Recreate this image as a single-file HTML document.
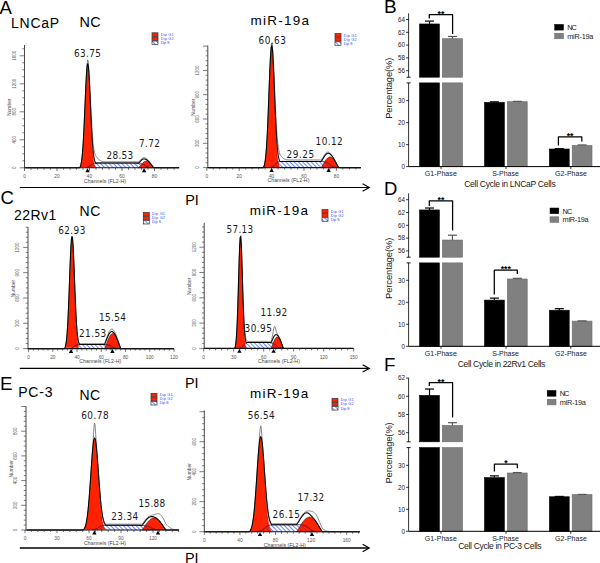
<!DOCTYPE html>
<html><head><meta charset="utf-8"><style>html,body{margin:0;padding:0;background:#fff;overflow:hidden}svg{display:block}</style></head>
<body>
<svg width="600" height="563" viewBox="0 0 600 563">
<rect width="600" height="563" fill="#fff"/>
<pattern id="hatch0" patternUnits="userSpaceOnUse" width="3.0" height="3.0" patternTransform="rotate(-45)"><rect width="3.0" height="3.0" fill="#fff"/><rect x="0" y="0" width="1.0" height="3.0" fill="#6a88ff"/></pattern>
<pattern id="hatch0r" patternUnits="userSpaceOnUse" width="3.0" height="3.0" patternTransform="rotate(-45)"><rect x="0" y="0" width="1.0" height="3.0" fill="#a0143c" fill-opacity="0.55"/></pattern>
<path d="M85.5,167.6 L86.0,167.6 L86.5,167.5 L87.0,167.4 L87.5,167.2 L88.0,167.0 L88.5,166.8 L89.0,166.5 L89.5,166.2 L90.0,165.8 L90.5,165.4 L91.0,165.0 L91.5,164.6 L92.0,164.3 L92.5,164.0 L93.0,163.8 L93.5,163.6 L94.0,163.4 L94.5,163.3 L95.0,163.2 L95.5,163.2 L96.0,163.1 L96.5,163.1 L97.0,163.1 L97.5,163.0 L98.0,163.0 L98.5,163.0 L99.0,163.0 L99.5,163.0 L100.0,163.0 L100.5,163.0 L101.0,163.0 L101.5,163.0 L102.0,163.0 L102.5,163.0 L103.0,163.0 L103.5,163.0 L104.0,163.0 L104.5,163.0 L105.0,163.0 L105.5,163.0 L106.0,163.0 L106.5,163.0 L107.0,163.0 L107.5,163.0 L108.0,163.0 L108.5,163.0 L109.0,163.0 L109.5,163.0 L110.0,163.0 L110.5,163.0 L111.0,163.0 L111.5,163.0 L112.0,163.0 L112.5,163.0 L113.0,163.0 L113.5,163.0 L114.0,163.0 L114.5,163.0 L115.0,163.0 L115.5,163.0 L116.0,163.0 L116.5,163.0 L117.0,163.0 L117.5,163.0 L118.0,163.0 L118.5,163.0 L119.0,163.0 L119.5,163.0 L120.0,163.0 L120.5,163.0 L121.0,163.0 L121.5,163.0 L122.0,163.0 L122.5,163.0 L123.0,163.0 L123.5,163.0 L124.0,163.0 L124.5,163.0 L125.0,163.0 L125.5,163.0 L126.0,163.0 L126.5,163.0 L127.0,163.0 L127.5,163.0 L128.0,163.0 L128.5,163.0 L129.0,163.0 L129.5,163.0 L130.0,163.0 L130.5,163.0 L131.0,163.0 L131.5,163.0 L132.0,163.0 L132.5,163.0 L133.0,163.0 L133.5,163.0 L134.0,163.0 L134.5,163.0 L135.0,163.0 L135.5,163.0 L136.0,163.0 L136.5,163.0 L137.0,163.1 L137.5,163.1 L138.0,163.1 L138.5,163.1 L139.0,163.2 L139.5,163.2 L140.0,163.3 L140.5,163.4 L141.0,163.5 L141.5,163.6 L142.0,163.8 L142.5,164.0 L143.0,164.2 L143.5,164.5 L144.0,164.7 L144.5,165.1 L145.0,165.4 L145.5,165.7 L146.0,166.1 L146.5,166.3 L147.0,166.6 L147.5,166.8 L148.0,167.0 L148.5,167.2 L149.0,167.3 L149.5,167.4 L150.0,167.5 L150.5,167.6 L151.0,167.6 L151.0,167.8 L85.5,167.8 Z" fill="url(#hatch0)" stroke="none"/>
<clipPath id="hatch0c"><path d="M80.0,167.3 L80.5,166.1 L81.0,164.2 L81.5,161.5 L82.0,157.8 L82.5,152.6 L83.0,146.0 L83.5,137.8 L84.0,128.1 L84.5,117.1 L85.0,105.5 L85.5,93.8 L86.0,83.1 L86.5,74.1 L87.0,67.7 L87.5,64.5 L88.0,64.8 L88.5,68.7 L89.0,75.7 L89.5,85.1 L90.0,96.1 L90.5,107.8 L91.0,119.4 L91.5,130.1 L92.0,139.6 L92.5,147.5 L93.0,153.8 L93.5,158.6 L94.0,162.2 L94.5,164.7 L95.0,166.3 L95.5,167.4 Z"/><path d="M138.4,167.8 L138.5,167.8 L139.0,167.4 L139.5,166.8 L140.0,166.2 L140.5,165.6 L141.0,164.9 L141.5,164.3 L142.0,163.7 L142.5,163.2 L143.0,162.7 L143.5,162.3 L144.0,161.9 L144.5,161.6 L145.0,161.4 L145.5,161.3 L146.0,161.2 L146.5,161.2 L147.0,161.3 L147.5,161.5 L148.0,161.7 L148.5,162.0 L149.0,162.4 L149.5,162.8 L150.0,163.3 L150.5,163.9 L151.0,164.4 L151.5,165.1 L152.0,165.7 L152.5,166.3 L153.0,167.0 L153.5,167.5 L153.9,167.8 Z"/></clipPath>
<path d="M138.4,167.8 L138.5,167.8 L139.0,167.4 L139.5,166.8 L140.0,166.2 L140.5,165.6 L141.0,164.9 L141.5,164.3 L142.0,163.7 L142.5,163.2 L143.0,162.7 L143.5,162.3 L144.0,161.9 L144.5,161.6 L145.0,161.4 L145.5,161.3 L146.0,161.2 L146.5,161.2 L147.0,161.3 L147.5,161.5 L148.0,161.7 L148.5,162.0 L149.0,162.4 L149.5,162.8 L150.0,163.3 L150.5,163.9 L151.0,164.4 L151.5,165.1 L152.0,165.7 L152.5,166.3 L153.0,167.0 L153.5,167.5 L153.9,167.8 Z" fill="#ff2200" stroke="#301010" stroke-width="0.6"/>
<path d="M80.0,167.3 L80.5,166.1 L81.0,164.2 L81.5,161.5 L82.0,157.8 L82.5,152.6 L83.0,146.0 L83.5,137.8 L84.0,128.1 L84.5,117.1 L85.0,105.5 L85.5,93.8 L86.0,83.1 L86.5,74.1 L87.0,67.7 L87.5,64.5 L88.0,64.8 L88.5,68.7 L89.0,75.7 L89.5,85.1 L90.0,96.1 L90.5,107.8 L91.0,119.4 L91.5,130.1 L92.0,139.6 L92.5,147.5 L93.0,153.8 L93.5,158.6 L94.0,162.2 L94.5,164.7 L95.0,166.3 L95.5,167.4 Z" fill="#ff2200" stroke="none"/>
<path d="M85.5,167.6 L86.0,167.6 L86.5,167.5 L87.0,167.4 L87.5,167.2 L88.0,167.0 L88.5,166.8 L89.0,166.5 L89.5,166.2 L90.0,165.8 L90.5,165.4 L91.0,165.0 L91.5,164.6 L92.0,164.3 L92.5,164.0 L93.0,163.8 L93.5,163.6 L94.0,163.4 L94.5,163.3 L95.0,163.2 L95.5,163.2 L96.0,163.1 L96.5,163.1 L97.0,163.1 L97.5,163.0 L98.0,163.0 L98.5,163.0 L99.0,163.0 L99.5,163.0 L100.0,163.0 L100.5,163.0 L101.0,163.0 L101.5,163.0 L102.0,163.0 L102.5,163.0 L103.0,163.0 L103.5,163.0 L104.0,163.0 L104.5,163.0 L105.0,163.0 L105.5,163.0 L106.0,163.0 L106.5,163.0 L107.0,163.0 L107.5,163.0 L108.0,163.0 L108.5,163.0 L109.0,163.0 L109.5,163.0 L110.0,163.0 L110.5,163.0 L111.0,163.0 L111.5,163.0 L112.0,163.0 L112.5,163.0 L113.0,163.0 L113.5,163.0 L114.0,163.0 L114.5,163.0 L115.0,163.0 L115.5,163.0 L116.0,163.0 L116.5,163.0 L117.0,163.0 L117.5,163.0 L118.0,163.0 L118.5,163.0 L119.0,163.0 L119.5,163.0 L120.0,163.0 L120.5,163.0 L121.0,163.0 L121.5,163.0 L122.0,163.0 L122.5,163.0 L123.0,163.0 L123.5,163.0 L124.0,163.0 L124.5,163.0 L125.0,163.0 L125.5,163.0 L126.0,163.0 L126.5,163.0 L127.0,163.0 L127.5,163.0 L128.0,163.0 L128.5,163.0 L129.0,163.0 L129.5,163.0 L130.0,163.0 L130.5,163.0 L131.0,163.0 L131.5,163.0 L132.0,163.0 L132.5,163.0 L133.0,163.0 L133.5,163.0 L134.0,163.0 L134.5,163.0 L135.0,163.0 L135.5,163.0 L136.0,163.0 L136.5,163.0 L137.0,163.1 L137.5,163.1 L138.0,163.1 L138.5,163.1 L139.0,163.2 L139.5,163.2 L140.0,163.3 L140.5,163.4 L141.0,163.5 L141.5,163.6 L142.0,163.8 L142.5,164.0 L143.0,164.2 L143.5,164.5 L144.0,164.7 L144.5,165.1 L145.0,165.4 L145.5,165.7 L146.0,166.1 L146.5,166.3 L147.0,166.6 L147.5,166.8 L148.0,167.0 L148.5,167.2 L149.0,167.3 L149.5,167.4 L150.0,167.5 L150.5,167.6 L151.0,167.6 L151.0,167.8 L85.5,167.8 Z" fill="url(#hatch0r)" stroke="none" clip-path="url(#hatch0c)"/>
<path d="M85.5,167.6 L86.0,167.6 L86.5,167.5 L87.0,167.4 L87.5,167.2 L88.0,167.0 L88.5,166.8 L89.0,166.5 L89.5,166.2 L90.0,165.8 L90.5,165.4 L91.0,165.0 L91.5,164.6 L92.0,164.3 L92.5,164.0 L93.0,163.8 L93.5,163.6 L94.0,163.4 L94.5,163.3 L95.0,163.2 L95.5,163.2 L96.0,163.1 L96.5,163.1 L97.0,163.1 L97.5,163.0 L98.0,163.0 L98.5,163.0 L99.0,163.0 L99.5,163.0 L100.0,163.0 L100.5,163.0 L101.0,163.0 L101.5,163.0 L102.0,163.0 L102.5,163.0 L103.0,163.0 L103.5,163.0 L104.0,163.0 L104.5,163.0 L105.0,163.0 L105.5,163.0 L106.0,163.0 L106.5,163.0 L107.0,163.0 L107.5,163.0 L108.0,163.0 L108.5,163.0 L109.0,163.0 L109.5,163.0 L110.0,163.0 L110.5,163.0 L111.0,163.0 L111.5,163.0 L112.0,163.0 L112.5,163.0 L113.0,163.0 L113.5,163.0 L114.0,163.0 L114.5,163.0 L115.0,163.0 L115.5,163.0 L116.0,163.0 L116.5,163.0 L117.0,163.0 L117.5,163.0 L118.0,163.0 L118.5,163.0 L119.0,163.0 L119.5,163.0 L120.0,163.0 L120.5,163.0 L121.0,163.0 L121.5,163.0 L122.0,163.0 L122.5,163.0 L123.0,163.0 L123.5,163.0 L124.0,163.0 L124.5,163.0 L125.0,163.0 L125.5,163.0 L126.0,163.0 L126.5,163.0 L127.0,163.0 L127.5,163.0 L128.0,163.0 L128.5,163.0 L129.0,163.0 L129.5,163.0 L130.0,163.0 L130.5,163.0 L131.0,163.0 L131.5,163.0 L132.0,163.0 L132.5,163.0 L133.0,163.0 L133.5,163.0 L134.0,163.0 L134.5,163.0 L135.0,163.0 L135.5,163.0 L136.0,163.0 L136.5,163.0 L137.0,163.1 L137.5,163.1 L138.0,163.1 L138.5,163.1 L139.0,163.2 L139.5,163.2 L140.0,163.3 L140.5,163.4 L141.0,163.5 L141.5,163.6 L142.0,163.8 L142.5,164.0 L143.0,164.2 L143.5,164.5 L144.0,164.7 L144.5,165.1 L145.0,165.4 L145.5,165.7 L146.0,166.1 L146.5,166.3 L147.0,166.6 L147.5,166.8 L148.0,167.0 L148.5,167.2 L149.0,167.3 L149.5,167.4 L150.0,167.5 L150.5,167.6 L151.0,167.6" fill="none" stroke="#3a1030" stroke-width="0.75"/>
<path d="M25.5,167.8 L26.0,167.8 L26.5,167.8 L27.0,167.8 L27.5,167.8 L28.0,167.8 L28.5,167.8 L29.0,167.8 L29.5,167.8 L30.0,167.8 L30.5,167.8 L31.0,167.8 L31.5,167.8 L32.0,167.8 L32.5,167.8 L33.0,167.8 L33.5,167.8 L34.0,167.8 L34.5,167.8 L35.0,167.8 L35.5,167.8 L36.0,167.8 L36.5,167.8 L37.0,167.8 L37.5,167.8 L38.0,167.8 L38.5,167.8 L39.0,167.8 L39.5,167.8 L40.0,167.8 L40.5,167.8 L41.0,167.8 L41.5,167.8 L42.0,167.8 L42.5,167.8 L43.0,167.8 L43.5,167.8 L44.0,167.8 L44.5,167.8 L45.0,167.8 L45.5,167.8 L46.0,167.8 L46.5,167.8 L47.0,167.8 L47.5,167.8 L48.0,167.8 L48.5,167.8 L49.0,167.8 L49.5,167.8 L50.0,167.8 L50.5,167.8 L51.0,167.8 L51.5,167.8 L52.0,167.8 L52.5,167.8 L53.0,167.8 L53.5,167.8 L54.0,167.8 L54.5,167.8 L55.0,167.8 L55.5,167.8 L56.0,167.8 L56.5,167.8 L57.0,167.8 L57.5,167.8 L58.0,167.8 L58.5,167.8 L59.0,167.8 L59.5,167.8 L60.0,167.8 L60.5,167.8 L61.0,167.8 L61.5,167.8 L62.0,167.8 L62.5,167.8 L63.0,167.8 L63.5,167.8 L64.0,167.8 L64.5,167.8 L65.0,167.8 L65.5,167.8 L66.0,167.8 L66.5,167.8 L67.0,167.8 L67.5,167.8 L68.0,167.8 L68.5,167.8 L69.0,167.8 L69.5,167.8 L70.0,167.8 L70.5,167.8 L71.0,167.8 L71.5,167.8 L72.0,167.8 L72.5,167.8 L73.0,167.8 L73.5,167.8 L74.0,167.8 L74.5,167.8 L75.0,167.8 L75.5,167.8 L76.0,167.8 L76.5,167.8 L77.0,167.8 L77.5,167.8 L78.0,167.8 L78.5,167.8 L79.0,167.8 L79.5,167.8 L80.0,167.3 L80.5,166.1 L81.0,164.2 L81.5,161.5 L82.0,157.7 L82.5,152.6 L83.0,146.0 L83.5,137.7 L84.0,127.9 L84.5,116.9 L85.0,105.2 L85.5,93.4 L86.0,82.3 L86.5,72.6 L87.0,64.8 L87.5,60.1 L88.0,60.1 L88.5,64.5 L89.0,71.7 L89.5,80.6 L90.0,90.7 L90.5,101.4 L91.0,111.8 L91.5,121.4 L92.0,129.8 L92.5,136.9 L93.0,142.4 L93.5,146.7 L94.0,149.9 L94.5,152.3 L95.0,154.1 L95.5,155.4 L96.0,156.2 L96.5,156.7 L97.0,157.3 L97.5,158.0 L98.0,158.6 L98.5,159.2 L99.0,159.7 L99.5,160.1 L100.0,160.5 L100.5,160.8 L101.0,161.1 L101.5,161.3 L102.0,161.4 L102.5,161.5 L103.0,161.6 L103.5,161.6 L104.0,161.6 L104.5,161.7 L105.0,161.7 L105.5,161.7 L106.0,161.7 L106.5,161.7 L107.0,161.7 L107.5,161.7 L108.0,161.7 L108.5,161.7 L109.0,161.7 L109.5,161.7 L110.0,161.7 L110.5,161.7 L111.0,161.7 L111.5,161.7 L112.0,161.7 L112.5,161.7 L113.0,161.7 L113.5,161.7 L114.0,161.7 L114.5,161.7 L115.0,161.7 L115.5,161.7 L116.0,161.7 L116.5,161.7 L117.0,161.7 L117.5,161.7 L118.0,161.7 L118.5,161.7 L119.0,161.7 L119.5,161.7 L120.0,161.7 L120.5,161.7 L121.0,161.7 L121.5,161.7 L122.0,161.7 L122.5,161.7 L123.0,161.7 L123.5,161.7 L124.0,161.7 L124.5,161.7 L125.0,161.7 L125.5,161.7 L126.0,161.7 L126.5,161.7 L127.0,161.7 L127.5,161.7 L128.0,161.7 L128.5,161.7 L129.0,161.7 L129.5,161.7 L130.0,161.7 L130.5,161.7 L131.0,161.7 L131.5,161.7 L132.0,161.7 L132.5,161.7 L133.0,161.7 L133.5,161.7 L134.0,161.7 L134.5,161.7 L135.0,161.7 L135.5,161.7 L136.0,161.7 L136.5,161.7 L137.0,161.8 L137.5,161.8 L138.0,161.8 L138.5,161.8 L139.0,161.5 L139.5,161.0 L140.0,160.4 L140.5,159.8 L141.0,159.3 L141.5,158.8 L142.0,158.4 L142.5,158.1 L143.0,157.8 L143.5,157.7 L144.0,157.6 L144.5,157.6 L145.0,157.8 L145.5,158.0 L146.0,158.2 L146.5,158.6 L147.0,159.0 L147.5,159.4 L148.0,159.9 L148.5,160.4 L149.0,161.0 L149.5,161.7 L150.0,162.4 L150.5,163.1 L151.0,163.8 L151.5,164.6 L152.0,165.3 L152.5,166.1 L153.0,166.7 L153.5,167.3 L154.0,167.7 L154.5,167.7 L155.0,167.7 L155.5,167.8 L156.0,167.8 L156.5,167.8 L157.0,167.8 L157.5,167.8 L158.0,167.8 L158.5,167.8 L159.0,167.8 L159.5,167.8 L160.0,167.8 L160.5,167.8 L161.0,167.8 L161.5,167.8 L162.0,167.8 L162.5,167.8 L163.0,167.8 L163.5,167.8 L164.0,167.8 L164.5,167.8 L165.0,167.8 L165.5,167.8 L166.0,167.8 L166.5,167.8 L167.0,167.8 L167.5,167.8 L168.0,167.8 L168.5,167.8 L169.0,167.8 L169.5,167.8 L170.0,167.8 L170.5,167.8 L171.0,167.8 L171.5,167.8 L172.0,167.8 L172.5,167.8 L173.0,167.8 L173.5,167.8 L174.0,167.8 L174.5,167.8 L175.0,167.8 L175.5,167.8 L176.0,167.8 L176.5,167.8 L177.0,167.8 L177.5,167.8 L178.0,167.8 L178.5,167.8 L179.0,167.8" fill="none" stroke="#6a6a6a" stroke-width="0.8"/>
<path d="M25.5,167.8 L26.0,167.8 L26.5,167.8 L27.0,167.8 L27.5,167.8 L28.0,167.8 L28.5,167.8 L29.0,167.8 L29.5,167.8 L30.0,167.8 L30.5,167.8 L31.0,167.8 L31.5,167.8 L32.0,167.8 L32.5,167.8 L33.0,167.8 L33.5,167.8 L34.0,167.8 L34.5,167.8 L35.0,167.8 L35.5,167.8 L36.0,167.8 L36.5,167.8 L37.0,167.8 L37.5,167.8 L38.0,167.8 L38.5,167.8 L39.0,167.8 L39.5,167.8 L40.0,167.8 L40.5,167.8 L41.0,167.8 L41.5,167.8 L42.0,167.8 L42.5,167.8 L43.0,167.8 L43.5,167.8 L44.0,167.8 L44.5,167.8 L45.0,167.8 L45.5,167.8 L46.0,167.8 L46.5,167.8 L47.0,167.8 L47.5,167.8 L48.0,167.8 L48.5,167.8 L49.0,167.8 L49.5,167.8 L50.0,167.8 L50.5,167.8 L51.0,167.8 L51.5,167.8 L52.0,167.8 L52.5,167.8 L53.0,167.8 L53.5,167.8 L54.0,167.8 L54.5,167.8 L55.0,167.8 L55.5,167.8 L56.0,167.8 L56.5,167.8 L57.0,167.8 L57.5,167.8 L58.0,167.8 L58.5,167.8 L59.0,167.8 L59.5,167.8 L60.0,167.8 L60.5,167.8 L61.0,167.8 L61.5,167.8 L62.0,167.8 L62.5,167.8 L63.0,167.8 L63.5,167.8 L64.0,167.8 L64.5,167.8 L65.0,167.8 L65.5,167.8 L66.0,167.8 L66.5,167.8 L67.0,167.8 L67.5,167.8 L68.0,167.8 L68.5,167.8 L69.0,167.8 L69.5,167.8 L70.0,167.8 L70.5,167.8 L71.0,167.8 L71.5,167.8 L72.0,167.8 L72.5,167.8 L73.0,167.8 L73.5,167.8 L74.0,167.8 L74.5,167.8 L75.0,167.8 L75.5,167.8 L76.0,167.8 L76.5,167.8 L77.0,167.8 L77.5,167.8 L78.0,167.8 L78.5,167.8 L79.0,167.8 L79.5,167.8 L80.0,167.3 L80.5,166.1 L81.0,164.2 L81.5,161.5 L82.0,157.7 L82.5,152.6 L83.0,146.0 L83.5,137.7 L84.0,128.0 L84.5,117.0 L85.0,105.3 L85.5,93.7 L86.0,82.8 L86.5,73.7 L87.0,67.2 L87.5,63.9 L88.0,64.1 L88.5,67.7 L89.0,74.4 L89.5,83.5 L90.0,94.1 L90.5,105.4 L91.0,116.6 L91.5,126.9 L92.0,136.0 L92.5,143.7 L93.0,149.7 L93.5,154.4 L94.0,157.8 L94.5,160.2 L95.0,161.8 L95.5,162.8 L96.0,163.1 L96.5,163.1 L97.0,163.1 L97.5,163.0 L98.0,163.0 L98.5,163.0 L99.0,163.0 L99.5,163.0 L100.0,163.0 L100.5,163.0 L101.0,163.0 L101.5,163.0 L102.0,163.0 L102.5,163.0 L103.0,163.0 L103.5,163.0 L104.0,163.0 L104.5,163.0 L105.0,163.0 L105.5,163.0 L106.0,163.0 L106.5,163.0 L107.0,163.0 L107.5,163.0 L108.0,163.0 L108.5,163.0 L109.0,163.0 L109.5,163.0 L110.0,163.0 L110.5,163.0 L111.0,163.0 L111.5,163.0 L112.0,163.0 L112.5,163.0 L113.0,163.0 L113.5,163.0 L114.0,163.0 L114.5,163.0 L115.0,163.0 L115.5,163.0 L116.0,163.0 L116.5,163.0 L117.0,163.0 L117.5,163.0 L118.0,163.0 L118.5,163.0 L119.0,163.0 L119.5,163.0 L120.0,163.0 L120.5,163.0 L121.0,163.0 L121.5,163.0 L122.0,163.0 L122.5,163.0 L123.0,163.0 L123.5,163.0 L124.0,163.0 L124.5,163.0 L125.0,163.0 L125.5,163.0 L126.0,163.0 L126.5,163.0 L127.0,163.0 L127.5,163.0 L128.0,163.0 L128.5,163.0 L129.0,163.0 L129.5,163.0 L130.0,163.0 L130.5,163.0 L131.0,163.0 L131.5,163.0 L132.0,163.0 L132.5,163.0 L133.0,163.0 L133.5,163.0 L134.0,163.0 L134.5,163.0 L135.0,163.0 L135.5,163.0 L136.0,163.0 L136.5,163.0 L137.0,163.1 L137.5,163.1 L138.0,163.1 L138.5,163.1 L139.0,162.8 L139.5,162.3 L140.0,161.7 L140.5,161.1 L141.0,160.6 L141.5,160.1 L142.0,159.7 L142.5,159.4 L143.0,159.1 L143.5,158.9 L144.0,158.9 L144.5,158.9 L145.0,159.0 L145.5,159.2 L146.0,159.5 L146.5,159.8 L147.0,160.1 L147.5,160.5 L148.0,160.9 L148.5,161.4 L149.0,161.9 L149.5,162.4 L150.0,163.0 L150.5,163.6 L151.0,164.3 L151.5,164.9 L152.0,165.6 L152.5,166.3 L153.0,166.9 L153.5,167.4 L154.0,167.8 L154.5,167.8 L155.0,167.8 L155.5,167.8 L156.0,167.8 L156.5,167.8 L157.0,167.8 L157.5,167.8 L158.0,167.8 L158.5,167.8 L159.0,167.8 L159.5,167.8 L160.0,167.8 L160.5,167.8 L161.0,167.8 L161.5,167.8 L162.0,167.8 L162.5,167.8 L163.0,167.8 L163.5,167.8 L164.0,167.8 L164.5,167.8 L165.0,167.8 L165.5,167.8 L166.0,167.8 L166.5,167.8 L167.0,167.8 L167.5,167.8 L168.0,167.8 L168.5,167.8 L169.0,167.8 L169.5,167.8 L170.0,167.8 L170.5,167.8 L171.0,167.8 L171.5,167.8 L172.0,167.8 L172.5,167.8 L173.0,167.8 L173.5,167.8 L174.0,167.8 L174.5,167.8 L175.0,167.8 L175.5,167.8 L176.0,167.8 L176.5,167.8 L177.0,167.8 L177.5,167.8 L178.0,167.8 L178.5,167.8 L179.0,167.8" fill="none" stroke="#000" stroke-width="1.05"/>
<line x1="24.50" y1="45.00" x2="24.50" y2="168.30" stroke="#333" stroke-width="0.9" />
<line x1="24.10" y1="167.80" x2="179.30" y2="167.80" stroke="#111" stroke-width="1.1" />
<line x1="19.70" y1="167.80" x2="24.50" y2="167.80" stroke="#444" stroke-width="0.7" />
<text transform="translate(15.90,167.80) rotate(-90)" font-size="4.5" fill="#555" text-anchor="middle" font-family="'Liberation Sans', Arial, sans-serif">0</text>
<line x1="22.30" y1="160.80" x2="24.50" y2="160.80" stroke="#444" stroke-width="0.7" />
<line x1="22.30" y1="153.80" x2="24.50" y2="153.80" stroke="#444" stroke-width="0.7" />
<line x1="22.30" y1="146.80" x2="24.50" y2="146.80" stroke="#444" stroke-width="0.7" />
<line x1="19.70" y1="139.80" x2="24.50" y2="139.80" stroke="#444" stroke-width="0.7" />
<text transform="translate(15.90,139.80) rotate(-90)" font-size="4.5" fill="#555" text-anchor="middle" font-family="'Liberation Sans', Arial, sans-serif">400</text>
<line x1="22.30" y1="132.80" x2="24.50" y2="132.80" stroke="#444" stroke-width="0.7" />
<line x1="22.30" y1="125.80" x2="24.50" y2="125.80" stroke="#444" stroke-width="0.7" />
<line x1="22.30" y1="118.80" x2="24.50" y2="118.80" stroke="#444" stroke-width="0.7" />
<line x1="19.70" y1="111.80" x2="24.50" y2="111.80" stroke="#444" stroke-width="0.7" />
<text transform="translate(15.90,111.80) rotate(-90)" font-size="4.5" fill="#555" text-anchor="middle" font-family="'Liberation Sans', Arial, sans-serif">800</text>
<line x1="22.30" y1="104.80" x2="24.50" y2="104.80" stroke="#444" stroke-width="0.7" />
<line x1="22.30" y1="97.80" x2="24.50" y2="97.80" stroke="#444" stroke-width="0.7" />
<line x1="22.30" y1="90.80" x2="24.50" y2="90.80" stroke="#444" stroke-width="0.7" />
<line x1="19.70" y1="83.80" x2="24.50" y2="83.80" stroke="#444" stroke-width="0.7" />
<text transform="translate(15.90,83.80) rotate(-90)" font-size="4.5" fill="#555" text-anchor="middle" font-family="'Liberation Sans', Arial, sans-serif">1200</text>
<line x1="22.30" y1="76.80" x2="24.50" y2="76.80" stroke="#444" stroke-width="0.7" />
<line x1="22.30" y1="69.80" x2="24.50" y2="69.80" stroke="#444" stroke-width="0.7" />
<line x1="22.30" y1="62.80" x2="24.50" y2="62.80" stroke="#444" stroke-width="0.7" />
<line x1="19.70" y1="55.80" x2="24.50" y2="55.80" stroke="#444" stroke-width="0.7" />
<text transform="translate(15.90,55.80) rotate(-90)" font-size="4.5" fill="#555" text-anchor="middle" font-family="'Liberation Sans', Arial, sans-serif">1600</text>
<line x1="22.30" y1="48.80" x2="24.50" y2="48.80" stroke="#444" stroke-width="0.7" />
<line x1="24.50" y1="167.80" x2="24.50" y2="171.00" stroke="#333" stroke-width="0.7" />
<text x="24.50" y="178.20" font-size="4.8" fill="#555" text-anchor="middle" font-family="'Liberation Sans', Arial, sans-serif" >0</text>
<line x1="31.00" y1="167.80" x2="31.00" y2="169.80" stroke="#333" stroke-width="0.7" />
<line x1="37.50" y1="167.80" x2="37.50" y2="169.80" stroke="#333" stroke-width="0.7" />
<line x1="44.00" y1="167.80" x2="44.00" y2="169.80" stroke="#333" stroke-width="0.7" />
<line x1="50.50" y1="167.80" x2="50.50" y2="169.80" stroke="#333" stroke-width="0.7" />
<line x1="57.00" y1="167.80" x2="57.00" y2="171.00" stroke="#333" stroke-width="0.7" />
<text x="57.00" y="178.20" font-size="4.8" fill="#555" text-anchor="middle" font-family="'Liberation Sans', Arial, sans-serif" >20</text>
<line x1="63.50" y1="167.80" x2="63.50" y2="169.80" stroke="#333" stroke-width="0.7" />
<line x1="70.00" y1="167.80" x2="70.00" y2="169.80" stroke="#333" stroke-width="0.7" />
<line x1="76.50" y1="167.80" x2="76.50" y2="169.80" stroke="#333" stroke-width="0.7" />
<line x1="83.00" y1="167.80" x2="83.00" y2="169.80" stroke="#333" stroke-width="0.7" />
<line x1="89.50" y1="167.80" x2="89.50" y2="171.00" stroke="#333" stroke-width="0.7" />
<text x="89.50" y="178.20" font-size="4.8" fill="#555" text-anchor="middle" font-family="'Liberation Sans', Arial, sans-serif" >40</text>
<line x1="96.00" y1="167.80" x2="96.00" y2="169.80" stroke="#333" stroke-width="0.7" />
<line x1="102.50" y1="167.80" x2="102.50" y2="169.80" stroke="#333" stroke-width="0.7" />
<line x1="109.00" y1="167.80" x2="109.00" y2="169.80" stroke="#333" stroke-width="0.7" />
<line x1="115.50" y1="167.80" x2="115.50" y2="169.80" stroke="#333" stroke-width="0.7" />
<line x1="122.00" y1="167.80" x2="122.00" y2="171.00" stroke="#333" stroke-width="0.7" />
<text x="122.00" y="178.20" font-size="4.8" fill="#555" text-anchor="middle" font-family="'Liberation Sans', Arial, sans-serif" >60</text>
<line x1="128.50" y1="167.80" x2="128.50" y2="169.80" stroke="#333" stroke-width="0.7" />
<line x1="135.00" y1="167.80" x2="135.00" y2="169.80" stroke="#333" stroke-width="0.7" />
<line x1="141.50" y1="167.80" x2="141.50" y2="169.80" stroke="#333" stroke-width="0.7" />
<line x1="148.00" y1="167.80" x2="148.00" y2="169.80" stroke="#333" stroke-width="0.7" />
<line x1="154.50" y1="167.80" x2="154.50" y2="171.00" stroke="#333" stroke-width="0.7" />
<text x="154.50" y="178.20" font-size="4.8" fill="#555" text-anchor="middle" font-family="'Liberation Sans', Arial, sans-serif" >80</text>
<line x1="161.00" y1="167.80" x2="161.00" y2="169.80" stroke="#333" stroke-width="0.7" />
<line x1="167.50" y1="167.80" x2="167.50" y2="169.80" stroke="#333" stroke-width="0.7" />
<line x1="174.00" y1="167.80" x2="174.00" y2="169.80" stroke="#333" stroke-width="0.7" />
<text transform="translate(11.30,107.20) rotate(-90)" font-size="4.9" fill="#555" text-anchor="middle" font-family="'Liberation Sans', Arial, sans-serif">Number</text>
<text x="105.00" y="182.60" font-size="5.2" fill="#444" text-anchor="middle" font-family="'Liberation Sans', Arial, sans-serif" textLength="42.00" lengthAdjust="spacing" >Channels (FL2-H)</text>
<path d="M85.30,172.20 L89.70,172.20 L87.50,168.30 Z" fill="#000"/>
<path d="M141.90,172.20 L146.30,172.20 L144.10,168.30 Z" fill="#000"/>
<rect x="152.00" y="32.80" width="6.00" height="3.50" fill="#ff2200" stroke="#333" stroke-width="0.7" />
<text x="160.70" y="35.70" font-size="3.9" fill="#3050ff" text-anchor="start" font-family="'Liberation Sans', Arial, sans-serif" textLength="13.00" lengthAdjust="spacing" >Dip G1</text>
<rect x="152.00" y="36.90" width="6.00" height="3.50" fill="#ff2200" stroke="#333" stroke-width="0.7" />
<text x="160.70" y="39.80" font-size="3.9" fill="#3050ff" text-anchor="start" font-family="'Liberation Sans', Arial, sans-serif" textLength="13.00" lengthAdjust="spacing" >Dip G2</text>
<rect x="152.00" y="41.00" width="6.00" height="3.50" fill="url(#hatch0)" stroke="#333" stroke-width="0.7" />
<text x="160.70" y="43.90" font-size="3.9" fill="#3050ff" text-anchor="start" font-family="'Liberation Sans', Arial, sans-serif" textLength="9.00" lengthAdjust="spacing" >Dip S</text>
<text x="74.00" y="56.50" font-size="9.9" fill="#1a1a1a" text-anchor="start" font-family="'DejaVu Sans Condensed', 'DejaVu Sans', sans-serif" textLength="26.80" lengthAdjust="spacing" >63.75</text>
<text x="106.60" y="159.40" font-size="9.9" fill="#1a1a1a" text-anchor="start" font-family="'DejaVu Sans Condensed', 'DejaVu Sans', sans-serif" textLength="26.60" lengthAdjust="spacing" >28.53</text>
<text x="138.90" y="147.30" font-size="9.9" fill="#1a1a1a" text-anchor="start" font-family="'DejaVu Sans Condensed', 'DejaVu Sans', sans-serif" textLength="21.00" lengthAdjust="spacing" >7.72</text>
<pattern id="hatch1" patternUnits="userSpaceOnUse" width="3.0" height="3.0" patternTransform="rotate(-45)"><rect width="3.0" height="3.0" fill="#fff"/><rect x="0" y="0" width="1.0" height="3.0" fill="#6a88ff"/></pattern>
<pattern id="hatch1r" patternUnits="userSpaceOnUse" width="3.0" height="3.0" patternTransform="rotate(-45)"><rect x="0" y="0" width="1.0" height="3.0" fill="#a0143c" fill-opacity="0.55"/></pattern>
<path d="M270.3,167.4 L270.8,167.3 L271.3,167.2 L271.8,167.0 L272.3,166.8 L272.8,166.5 L273.3,166.2 L273.8,165.8 L274.3,165.3 L274.8,164.7 L275.3,164.2 L275.8,163.6 L276.3,163.2 L276.8,162.7 L277.3,162.4 L277.8,162.1 L278.3,161.9 L278.8,161.8 L279.3,161.7 L279.8,161.6 L280.3,161.5 L280.8,161.5 L281.3,161.5 L281.8,161.4 L282.3,161.4 L282.8,161.4 L283.3,161.4 L283.8,161.4 L284.3,161.4 L284.8,161.4 L285.3,161.4 L285.8,161.4 L286.3,161.4 L286.8,161.4 L287.3,161.4 L287.8,161.4 L288.3,161.4 L288.8,161.4 L289.3,161.4 L289.8,161.4 L290.3,161.4 L290.8,161.4 L291.3,161.4 L291.8,161.4 L292.3,161.4 L292.8,161.4 L293.3,161.4 L293.8,161.4 L294.3,161.4 L294.8,161.4 L295.3,161.4 L295.8,161.4 L296.3,161.4 L296.8,161.4 L297.3,161.4 L297.8,161.4 L298.3,161.4 L298.8,161.4 L299.3,161.4 L299.8,161.4 L300.3,161.4 L300.8,161.4 L301.3,161.4 L301.8,161.4 L302.3,161.4 L302.8,161.4 L303.3,161.4 L303.8,161.4 L304.3,161.4 L304.8,161.4 L305.3,161.4 L305.8,161.4 L306.3,161.4 L306.8,161.4 L307.3,161.4 L307.8,161.4 L308.3,161.4 L308.8,161.4 L309.3,161.4 L309.8,161.4 L310.3,161.4 L310.8,161.4 L311.3,161.4 L311.8,161.4 L312.3,161.4 L312.8,161.4 L313.3,161.4 L313.8,161.4 L314.3,161.4 L314.8,161.4 L315.3,161.4 L315.8,161.4 L316.3,161.4 L316.8,161.4 L317.3,161.4 L317.8,161.4 L318.3,161.4 L318.8,161.4 L319.3,161.4 L319.8,161.4 L320.3,161.4 L320.8,161.5 L321.3,161.5 L321.8,161.5 L322.3,161.5 L322.8,161.6 L323.3,161.6 L323.8,161.7 L324.3,161.7 L324.8,161.8 L325.3,161.9 L325.8,162.1 L326.3,162.2 L326.8,162.4 L327.3,162.7 L327.8,162.9 L328.3,163.3 L328.8,163.6 L329.3,164.0 L329.8,164.3 L330.3,164.7 L330.8,165.1 L331.3,165.5 L331.8,165.8 L332.3,166.1 L332.8,166.4 L333.3,166.6 L333.8,166.8 L334.3,167.0 L334.8,167.1 L335.3,167.2 L335.8,167.3 L336.3,167.3 L336.8,167.4 L337.3,167.4 L337.3,167.6 L270.3,167.6 Z" fill="url(#hatch1)" stroke="none"/>
<clipPath id="hatch1c"><path d="M263.3,167.6 L263.8,166.8 L264.3,165.3 L264.8,163.2 L265.3,160.1 L265.8,155.7 L266.3,149.9 L266.8,142.5 L267.3,133.3 L267.8,122.5 L268.3,110.3 L268.8,97.2 L269.3,84.0 L269.8,71.5 L270.3,60.6 L270.8,52.4 L271.3,47.4 L271.8,46.3 L272.3,49.0 L272.8,55.3 L273.3,64.7 L273.8,76.3 L274.3,89.2 L274.8,102.5 L275.3,115.3 L275.8,127.0 L276.3,137.2 L276.8,145.7 L277.3,152.4 L277.8,157.6 L278.3,161.4 L278.8,164.1 L279.3,166.0 L279.8,167.2 Z"/><path d="M321.0,167.6 L321.3,167.4 L321.8,166.7 L322.3,165.9 L322.8,165.1 L323.3,164.2 L323.8,163.3 L324.3,162.4 L324.8,161.6 L325.3,160.8 L325.8,160.1 L326.3,159.4 L326.8,158.8 L327.3,158.3 L327.8,157.9 L328.3,157.5 L328.8,157.3 L329.3,157.1 L329.8,157.0 L330.3,157.0 L330.8,157.1 L331.3,157.3 L331.8,157.6 L332.3,158.0 L332.8,158.4 L333.3,158.9 L333.8,159.5 L334.3,160.2 L334.8,161.0 L335.3,161.8 L335.8,162.6 L336.3,163.5 L336.8,164.4 L337.3,165.2 L337.8,166.1 L338.3,166.9 L338.8,167.5 L339.0,167.6 Z"/></clipPath>
<path d="M321.0,167.6 L321.3,167.4 L321.8,166.7 L322.3,165.9 L322.8,165.1 L323.3,164.2 L323.8,163.3 L324.3,162.4 L324.8,161.6 L325.3,160.8 L325.8,160.1 L326.3,159.4 L326.8,158.8 L327.3,158.3 L327.8,157.9 L328.3,157.5 L328.8,157.3 L329.3,157.1 L329.8,157.0 L330.3,157.0 L330.8,157.1 L331.3,157.3 L331.8,157.6 L332.3,158.0 L332.8,158.4 L333.3,158.9 L333.8,159.5 L334.3,160.2 L334.8,161.0 L335.3,161.8 L335.8,162.6 L336.3,163.5 L336.8,164.4 L337.3,165.2 L337.8,166.1 L338.3,166.9 L338.8,167.5 L339.0,167.6 Z" fill="#ff2200" stroke="#301010" stroke-width="0.6"/>
<path d="M263.3,167.6 L263.8,166.8 L264.3,165.3 L264.8,163.2 L265.3,160.1 L265.8,155.7 L266.3,149.9 L266.8,142.5 L267.3,133.3 L267.8,122.5 L268.3,110.3 L268.8,97.2 L269.3,84.0 L269.8,71.5 L270.3,60.6 L270.8,52.4 L271.3,47.4 L271.8,46.3 L272.3,49.0 L272.8,55.3 L273.3,64.7 L273.8,76.3 L274.3,89.2 L274.8,102.5 L275.3,115.3 L275.8,127.0 L276.3,137.2 L276.8,145.7 L277.3,152.4 L277.8,157.6 L278.3,161.4 L278.8,164.1 L279.3,166.0 L279.8,167.2 Z" fill="#ff2200" stroke="none"/>
<path d="M270.3,167.4 L270.8,167.3 L271.3,167.2 L271.8,167.0 L272.3,166.8 L272.8,166.5 L273.3,166.2 L273.8,165.8 L274.3,165.3 L274.8,164.7 L275.3,164.2 L275.8,163.6 L276.3,163.2 L276.8,162.7 L277.3,162.4 L277.8,162.1 L278.3,161.9 L278.8,161.8 L279.3,161.7 L279.8,161.6 L280.3,161.5 L280.8,161.5 L281.3,161.5 L281.8,161.4 L282.3,161.4 L282.8,161.4 L283.3,161.4 L283.8,161.4 L284.3,161.4 L284.8,161.4 L285.3,161.4 L285.8,161.4 L286.3,161.4 L286.8,161.4 L287.3,161.4 L287.8,161.4 L288.3,161.4 L288.8,161.4 L289.3,161.4 L289.8,161.4 L290.3,161.4 L290.8,161.4 L291.3,161.4 L291.8,161.4 L292.3,161.4 L292.8,161.4 L293.3,161.4 L293.8,161.4 L294.3,161.4 L294.8,161.4 L295.3,161.4 L295.8,161.4 L296.3,161.4 L296.8,161.4 L297.3,161.4 L297.8,161.4 L298.3,161.4 L298.8,161.4 L299.3,161.4 L299.8,161.4 L300.3,161.4 L300.8,161.4 L301.3,161.4 L301.8,161.4 L302.3,161.4 L302.8,161.4 L303.3,161.4 L303.8,161.4 L304.3,161.4 L304.8,161.4 L305.3,161.4 L305.8,161.4 L306.3,161.4 L306.8,161.4 L307.3,161.4 L307.8,161.4 L308.3,161.4 L308.8,161.4 L309.3,161.4 L309.8,161.4 L310.3,161.4 L310.8,161.4 L311.3,161.4 L311.8,161.4 L312.3,161.4 L312.8,161.4 L313.3,161.4 L313.8,161.4 L314.3,161.4 L314.8,161.4 L315.3,161.4 L315.8,161.4 L316.3,161.4 L316.8,161.4 L317.3,161.4 L317.8,161.4 L318.3,161.4 L318.8,161.4 L319.3,161.4 L319.8,161.4 L320.3,161.4 L320.8,161.5 L321.3,161.5 L321.8,161.5 L322.3,161.5 L322.8,161.6 L323.3,161.6 L323.8,161.7 L324.3,161.7 L324.8,161.8 L325.3,161.9 L325.8,162.1 L326.3,162.2 L326.8,162.4 L327.3,162.7 L327.8,162.9 L328.3,163.3 L328.8,163.6 L329.3,164.0 L329.8,164.3 L330.3,164.7 L330.8,165.1 L331.3,165.5 L331.8,165.8 L332.3,166.1 L332.8,166.4 L333.3,166.6 L333.8,166.8 L334.3,167.0 L334.8,167.1 L335.3,167.2 L335.8,167.3 L336.3,167.3 L336.8,167.4 L337.3,167.4 L337.3,167.6 L270.3,167.6 Z" fill="url(#hatch1r)" stroke="none" clip-path="url(#hatch1c)"/>
<path d="M270.3,167.4 L270.8,167.3 L271.3,167.2 L271.8,167.0 L272.3,166.8 L272.8,166.5 L273.3,166.2 L273.8,165.8 L274.3,165.3 L274.8,164.7 L275.3,164.2 L275.8,163.6 L276.3,163.2 L276.8,162.7 L277.3,162.4 L277.8,162.1 L278.3,161.9 L278.8,161.8 L279.3,161.7 L279.8,161.6 L280.3,161.5 L280.8,161.5 L281.3,161.5 L281.8,161.4 L282.3,161.4 L282.8,161.4 L283.3,161.4 L283.8,161.4 L284.3,161.4 L284.8,161.4 L285.3,161.4 L285.8,161.4 L286.3,161.4 L286.8,161.4 L287.3,161.4 L287.8,161.4 L288.3,161.4 L288.8,161.4 L289.3,161.4 L289.8,161.4 L290.3,161.4 L290.8,161.4 L291.3,161.4 L291.8,161.4 L292.3,161.4 L292.8,161.4 L293.3,161.4 L293.8,161.4 L294.3,161.4 L294.8,161.4 L295.3,161.4 L295.8,161.4 L296.3,161.4 L296.8,161.4 L297.3,161.4 L297.8,161.4 L298.3,161.4 L298.8,161.4 L299.3,161.4 L299.8,161.4 L300.3,161.4 L300.8,161.4 L301.3,161.4 L301.8,161.4 L302.3,161.4 L302.8,161.4 L303.3,161.4 L303.8,161.4 L304.3,161.4 L304.8,161.4 L305.3,161.4 L305.8,161.4 L306.3,161.4 L306.8,161.4 L307.3,161.4 L307.8,161.4 L308.3,161.4 L308.8,161.4 L309.3,161.4 L309.8,161.4 L310.3,161.4 L310.8,161.4 L311.3,161.4 L311.8,161.4 L312.3,161.4 L312.8,161.4 L313.3,161.4 L313.8,161.4 L314.3,161.4 L314.8,161.4 L315.3,161.4 L315.8,161.4 L316.3,161.4 L316.8,161.4 L317.3,161.4 L317.8,161.4 L318.3,161.4 L318.8,161.4 L319.3,161.4 L319.8,161.4 L320.3,161.4 L320.8,161.5 L321.3,161.5 L321.8,161.5 L322.3,161.5 L322.8,161.6 L323.3,161.6 L323.8,161.7 L324.3,161.7 L324.8,161.8 L325.3,161.9 L325.8,162.1 L326.3,162.2 L326.8,162.4 L327.3,162.7 L327.8,162.9 L328.3,163.3 L328.8,163.6 L329.3,164.0 L329.8,164.3 L330.3,164.7 L330.8,165.1 L331.3,165.5 L331.8,165.8 L332.3,166.1 L332.8,166.4 L333.3,166.6 L333.8,166.8 L334.3,167.0 L334.8,167.1 L335.3,167.2 L335.8,167.3 L336.3,167.3 L336.8,167.4 L337.3,167.4" fill="none" stroke="#3a1030" stroke-width="0.75"/>
<path d="M208.8,167.6 L209.3,167.6 L209.8,167.6 L210.3,167.6 L210.8,167.6 L211.3,167.6 L211.8,167.6 L212.3,167.6 L212.8,167.6 L213.3,167.6 L213.8,167.6 L214.3,167.6 L214.8,167.6 L215.3,167.6 L215.8,167.6 L216.3,167.6 L216.8,167.6 L217.3,167.6 L217.8,167.6 L218.3,167.6 L218.8,167.6 L219.3,167.6 L219.8,167.6 L220.3,167.6 L220.8,167.6 L221.3,167.6 L221.8,167.6 L222.3,167.6 L222.8,167.6 L223.3,167.6 L223.8,167.6 L224.3,167.6 L224.8,167.6 L225.3,167.6 L225.8,167.6 L226.3,167.6 L226.8,167.6 L227.3,167.6 L227.8,167.6 L228.3,167.6 L228.8,167.6 L229.3,167.6 L229.8,167.6 L230.3,167.6 L230.8,167.6 L231.3,167.6 L231.8,167.6 L232.3,167.6 L232.8,167.6 L233.3,167.6 L233.8,167.6 L234.3,167.6 L234.8,167.6 L235.3,167.6 L235.8,167.6 L236.3,167.6 L236.8,167.6 L237.3,167.6 L237.8,167.6 L238.3,167.6 L238.8,167.6 L239.3,167.6 L239.8,167.6 L240.3,167.6 L240.8,167.6 L241.3,167.6 L241.8,167.6 L242.3,167.6 L242.8,167.6 L243.3,167.6 L243.8,167.6 L244.3,167.6 L244.8,167.6 L245.3,167.6 L245.8,167.6 L246.3,167.6 L246.8,167.6 L247.3,167.6 L247.8,167.6 L248.3,167.6 L248.8,167.6 L249.3,167.6 L249.8,167.6 L250.3,167.6 L250.8,167.6 L251.3,167.6 L251.8,167.6 L252.3,167.6 L252.8,167.6 L253.3,167.6 L253.8,167.6 L254.3,167.6 L254.8,167.6 L255.3,167.6 L255.8,167.6 L256.3,167.6 L256.8,167.6 L257.3,167.6 L257.8,167.6 L258.3,167.6 L258.8,167.6 L259.3,167.6 L259.8,167.6 L260.3,167.6 L260.8,167.6 L261.3,167.6 L261.8,167.6 L262.3,167.6 L262.8,167.6 L263.3,167.6 L263.8,166.8 L264.3,165.3 L264.8,163.2 L265.3,160.0 L265.8,155.7 L266.3,149.9 L266.8,142.4 L267.3,133.1 L267.8,122.2 L268.3,109.9 L268.8,96.6 L269.3,83.2 L269.8,70.3 L270.3,59.1 L270.8,50.4 L271.3,44.9 L271.8,43.0 L272.3,44.9 L272.8,50.3 L273.3,58.6 L273.8,69.1 L274.3,80.7 L274.8,92.8 L275.3,104.4 L275.8,115.0 L276.3,124.3 L276.8,132.1 L277.3,138.5 L277.8,143.4 L278.3,147.3 L278.8,150.2 L279.3,152.4 L279.8,154.1 L280.3,155.1 L280.8,155.7 L281.3,156.3 L281.8,156.9 L282.3,157.4 L282.8,157.9 L283.3,158.4 L283.8,158.7 L284.3,159.0 L284.8,159.2 L285.3,159.4 L285.8,159.6 L286.3,159.7 L286.8,159.7 L287.3,159.8 L287.8,159.8 L288.3,159.9 L288.8,159.9 L289.3,159.9 L289.8,159.9 L290.3,159.9 L290.8,159.9 L291.3,159.9 L291.8,159.9 L292.3,159.9 L292.8,159.9 L293.3,159.9 L293.8,159.9 L294.3,159.9 L294.8,159.9 L295.3,159.9 L295.8,159.9 L296.3,159.9 L296.8,159.9 L297.3,159.9 L297.8,159.9 L298.3,159.9 L298.8,159.9 L299.3,159.9 L299.8,159.9 L300.3,159.9 L300.8,159.9 L301.3,159.9 L301.8,159.9 L302.3,159.9 L302.8,159.9 L303.3,159.9 L303.8,159.9 L304.3,159.9 L304.8,159.9 L305.3,159.9 L305.8,159.9 L306.3,159.9 L306.8,159.9 L307.3,159.9 L307.8,159.9 L308.3,159.9 L308.8,159.9 L309.3,159.9 L309.8,159.9 L310.3,159.9 L310.8,159.9 L311.3,159.9 L311.8,159.9 L312.3,159.9 L312.8,159.9 L313.3,159.9 L313.8,159.9 L314.3,159.9 L314.8,159.9 L315.3,159.9 L315.8,159.9 L316.3,159.9 L316.8,159.9 L317.3,159.9 L317.8,159.9 L318.3,159.9 L318.8,159.9 L319.3,159.9 L319.8,159.9 L320.3,160.0 L320.8,160.0 L321.3,159.7 L321.8,159.1 L322.3,158.4 L322.8,157.5 L323.3,156.7 L323.8,155.9 L324.3,155.1 L324.8,154.4 L325.3,153.7 L325.8,153.1 L326.3,152.7 L326.8,152.3 L327.3,152.1 L327.8,152.0 L328.3,152.0 L328.8,152.2 L329.3,152.5 L329.8,153.0 L330.3,153.5 L330.8,154.1 L331.3,154.7 L331.8,155.4 L332.3,156.2 L332.8,157.0 L333.3,157.8 L333.8,158.6 L334.3,159.5 L334.8,160.4 L335.3,161.3 L335.8,162.2 L336.3,163.2 L336.8,164.1 L337.3,165.1 L337.8,166.0 L338.3,166.8 L338.8,167.4 L339.3,167.5 L339.8,167.6 L340.3,167.6 L340.8,167.6 L341.3,167.6 L341.8,167.6 L342.3,167.6 L342.8,167.6 L343.3,167.6 L343.8,167.6 L344.3,167.6 L344.8,167.6 L345.3,167.6 L345.8,167.6 L346.3,167.6 L346.8,167.6 L347.3,167.6 L347.8,167.6 L348.3,167.6 L348.8,167.6 L349.3,167.6 L349.8,167.6 L350.3,167.6 L350.8,167.6 L351.3,167.6 L351.8,167.6 L352.3,167.6 L352.8,167.6 L353.3,167.6 L353.8,167.6 L354.3,167.6 L354.8,167.6 L355.3,167.6 L355.8,167.6 L356.3,167.6 L356.8,167.6 L357.3,167.6 L357.8,167.6 L358.3,167.6 L358.8,167.6 L359.3,167.6 L359.8,167.6 L360.3,167.6 L360.8,167.6" fill="none" stroke="#6a6a6a" stroke-width="0.8"/>
<path d="M208.8,167.6 L209.3,167.6 L209.8,167.6 L210.3,167.6 L210.8,167.6 L211.3,167.6 L211.8,167.6 L212.3,167.6 L212.8,167.6 L213.3,167.6 L213.8,167.6 L214.3,167.6 L214.8,167.6 L215.3,167.6 L215.8,167.6 L216.3,167.6 L216.8,167.6 L217.3,167.6 L217.8,167.6 L218.3,167.6 L218.8,167.6 L219.3,167.6 L219.8,167.6 L220.3,167.6 L220.8,167.6 L221.3,167.6 L221.8,167.6 L222.3,167.6 L222.8,167.6 L223.3,167.6 L223.8,167.6 L224.3,167.6 L224.8,167.6 L225.3,167.6 L225.8,167.6 L226.3,167.6 L226.8,167.6 L227.3,167.6 L227.8,167.6 L228.3,167.6 L228.8,167.6 L229.3,167.6 L229.8,167.6 L230.3,167.6 L230.8,167.6 L231.3,167.6 L231.8,167.6 L232.3,167.6 L232.8,167.6 L233.3,167.6 L233.8,167.6 L234.3,167.6 L234.8,167.6 L235.3,167.6 L235.8,167.6 L236.3,167.6 L236.8,167.6 L237.3,167.6 L237.8,167.6 L238.3,167.6 L238.8,167.6 L239.3,167.6 L239.8,167.6 L240.3,167.6 L240.8,167.6 L241.3,167.6 L241.8,167.6 L242.3,167.6 L242.8,167.6 L243.3,167.6 L243.8,167.6 L244.3,167.6 L244.8,167.6 L245.3,167.6 L245.8,167.6 L246.3,167.6 L246.8,167.6 L247.3,167.6 L247.8,167.6 L248.3,167.6 L248.8,167.6 L249.3,167.6 L249.8,167.6 L250.3,167.6 L250.8,167.6 L251.3,167.6 L251.8,167.6 L252.3,167.6 L252.8,167.6 L253.3,167.6 L253.8,167.6 L254.3,167.6 L254.8,167.6 L255.3,167.6 L255.8,167.6 L256.3,167.6 L256.8,167.6 L257.3,167.6 L257.8,167.6 L258.3,167.6 L258.8,167.6 L259.3,167.6 L259.8,167.6 L260.3,167.6 L260.8,167.6 L261.3,167.6 L261.8,167.6 L262.3,167.6 L262.8,167.6 L263.3,167.6 L263.8,166.8 L264.3,165.3 L264.8,163.2 L265.3,160.1 L265.8,155.7 L266.3,149.9 L266.8,142.5 L267.3,133.3 L267.8,122.5 L268.3,110.2 L268.8,97.1 L269.3,83.9 L269.8,71.3 L270.3,60.4 L270.8,52.1 L271.3,47.0 L271.8,45.7 L272.3,48.2 L272.8,54.3 L273.3,63.3 L273.8,74.5 L274.3,86.9 L274.8,99.6 L275.3,111.9 L275.8,123.1 L276.3,132.8 L276.8,140.8 L277.3,147.3 L277.8,152.2 L278.3,155.8 L278.8,158.3 L279.3,160.1 L279.8,161.2 L280.3,161.5 L280.8,161.5 L281.3,161.5 L281.8,161.4 L282.3,161.4 L282.8,161.4 L283.3,161.4 L283.8,161.4 L284.3,161.4 L284.8,161.4 L285.3,161.4 L285.8,161.4 L286.3,161.4 L286.8,161.4 L287.3,161.4 L287.8,161.4 L288.3,161.4 L288.8,161.4 L289.3,161.4 L289.8,161.4 L290.3,161.4 L290.8,161.4 L291.3,161.4 L291.8,161.4 L292.3,161.4 L292.8,161.4 L293.3,161.4 L293.8,161.4 L294.3,161.4 L294.8,161.4 L295.3,161.4 L295.8,161.4 L296.3,161.4 L296.8,161.4 L297.3,161.4 L297.8,161.4 L298.3,161.4 L298.8,161.4 L299.3,161.4 L299.8,161.4 L300.3,161.4 L300.8,161.4 L301.3,161.4 L301.8,161.4 L302.3,161.4 L302.8,161.4 L303.3,161.4 L303.8,161.4 L304.3,161.4 L304.8,161.4 L305.3,161.4 L305.8,161.4 L306.3,161.4 L306.8,161.4 L307.3,161.4 L307.8,161.4 L308.3,161.4 L308.8,161.4 L309.3,161.4 L309.8,161.4 L310.3,161.4 L310.8,161.4 L311.3,161.4 L311.8,161.4 L312.3,161.4 L312.8,161.4 L313.3,161.4 L313.8,161.4 L314.3,161.4 L314.8,161.4 L315.3,161.4 L315.8,161.4 L316.3,161.4 L316.8,161.4 L317.3,161.4 L317.8,161.4 L318.3,161.4 L318.8,161.4 L319.3,161.4 L319.8,161.4 L320.3,161.4 L320.8,161.5 L321.3,161.2 L321.8,160.6 L322.3,159.9 L322.8,159.0 L323.3,158.2 L323.8,157.4 L324.3,156.6 L324.8,155.8 L325.3,155.2 L325.8,154.6 L326.3,154.1 L326.8,153.7 L327.3,153.4 L327.8,153.2 L328.3,153.2 L328.8,153.3 L329.3,153.5 L329.8,153.8 L330.3,154.1 L330.8,154.6 L331.3,155.2 L331.8,155.8 L332.3,156.5 L332.8,157.2 L333.3,157.9 L333.8,158.7 L334.3,159.6 L334.8,160.4 L335.3,161.4 L335.8,162.3 L336.3,163.2 L336.8,164.2 L337.3,165.1 L337.8,166.0 L338.3,166.8 L338.8,167.4 L339.3,167.5 L339.8,167.6 L340.3,167.6 L340.8,167.6 L341.3,167.6 L341.8,167.6 L342.3,167.6 L342.8,167.6 L343.3,167.6 L343.8,167.6 L344.3,167.6 L344.8,167.6 L345.3,167.6 L345.8,167.6 L346.3,167.6 L346.8,167.6 L347.3,167.6 L347.8,167.6 L348.3,167.6 L348.8,167.6 L349.3,167.6 L349.8,167.6 L350.3,167.6 L350.8,167.6 L351.3,167.6 L351.8,167.6 L352.3,167.6 L352.8,167.6 L353.3,167.6 L353.8,167.6 L354.3,167.6 L354.8,167.6 L355.3,167.6 L355.8,167.6 L356.3,167.6 L356.8,167.6 L357.3,167.6 L357.8,167.6 L358.3,167.6 L358.8,167.6 L359.3,167.6 L359.8,167.6 L360.3,167.6 L360.8,167.6" fill="none" stroke="#000" stroke-width="1.05"/>
<line x1="207.80" y1="45.60" x2="207.80" y2="168.10" stroke="#333" stroke-width="0.9" />
<line x1="207.40" y1="167.60" x2="361.00" y2="167.60" stroke="#111" stroke-width="1.1" />
<line x1="203.00" y1="167.60" x2="207.80" y2="167.60" stroke="#444" stroke-width="0.7" />
<text transform="translate(199.20,167.60) rotate(-90)" font-size="4.5" fill="#555" text-anchor="middle" font-family="'Liberation Sans', Arial, sans-serif">0</text>
<line x1="205.60" y1="162.74" x2="207.80" y2="162.74" stroke="#444" stroke-width="0.7" />
<line x1="205.60" y1="157.88" x2="207.80" y2="157.88" stroke="#444" stroke-width="0.7" />
<line x1="205.60" y1="153.02" x2="207.80" y2="153.02" stroke="#444" stroke-width="0.7" />
<line x1="205.60" y1="148.16" x2="207.80" y2="148.16" stroke="#444" stroke-width="0.7" />
<line x1="203.00" y1="143.30" x2="207.80" y2="143.30" stroke="#444" stroke-width="0.7" />
<text transform="translate(199.20,143.30) rotate(-90)" font-size="4.5" fill="#555" text-anchor="middle" font-family="'Liberation Sans', Arial, sans-serif">300</text>
<line x1="205.60" y1="138.44" x2="207.80" y2="138.44" stroke="#444" stroke-width="0.7" />
<line x1="205.60" y1="133.58" x2="207.80" y2="133.58" stroke="#444" stroke-width="0.7" />
<line x1="205.60" y1="128.72" x2="207.80" y2="128.72" stroke="#444" stroke-width="0.7" />
<line x1="205.60" y1="123.86" x2="207.80" y2="123.86" stroke="#444" stroke-width="0.7" />
<line x1="203.00" y1="119.00" x2="207.80" y2="119.00" stroke="#444" stroke-width="0.7" />
<text transform="translate(199.20,119.00) rotate(-90)" font-size="4.5" fill="#555" text-anchor="middle" font-family="'Liberation Sans', Arial, sans-serif">600</text>
<line x1="205.60" y1="114.14" x2="207.80" y2="114.14" stroke="#444" stroke-width="0.7" />
<line x1="205.60" y1="109.28" x2="207.80" y2="109.28" stroke="#444" stroke-width="0.7" />
<line x1="205.60" y1="104.42" x2="207.80" y2="104.42" stroke="#444" stroke-width="0.7" />
<line x1="205.60" y1="99.56" x2="207.80" y2="99.56" stroke="#444" stroke-width="0.7" />
<line x1="203.00" y1="94.70" x2="207.80" y2="94.70" stroke="#444" stroke-width="0.7" />
<text transform="translate(199.20,94.70) rotate(-90)" font-size="4.5" fill="#555" text-anchor="middle" font-family="'Liberation Sans', Arial, sans-serif">900</text>
<line x1="205.60" y1="89.84" x2="207.80" y2="89.84" stroke="#444" stroke-width="0.7" />
<line x1="205.60" y1="84.98" x2="207.80" y2="84.98" stroke="#444" stroke-width="0.7" />
<line x1="205.60" y1="80.12" x2="207.80" y2="80.12" stroke="#444" stroke-width="0.7" />
<line x1="205.60" y1="75.26" x2="207.80" y2="75.26" stroke="#444" stroke-width="0.7" />
<line x1="203.00" y1="70.40" x2="207.80" y2="70.40" stroke="#444" stroke-width="0.7" />
<text transform="translate(199.20,70.40) rotate(-90)" font-size="4.5" fill="#555" text-anchor="middle" font-family="'Liberation Sans', Arial, sans-serif">1200</text>
<line x1="205.60" y1="65.54" x2="207.80" y2="65.54" stroke="#444" stroke-width="0.7" />
<line x1="205.60" y1="60.68" x2="207.80" y2="60.68" stroke="#444" stroke-width="0.7" />
<line x1="205.60" y1="55.82" x2="207.80" y2="55.82" stroke="#444" stroke-width="0.7" />
<line x1="205.60" y1="50.96" x2="207.80" y2="50.96" stroke="#444" stroke-width="0.7" />
<line x1="203.00" y1="46.10" x2="207.80" y2="46.10" stroke="#444" stroke-width="0.7" />
<line x1="206.80" y1="167.60" x2="206.80" y2="170.80" stroke="#333" stroke-width="0.7" />
<text x="206.80" y="178.00" font-size="4.8" fill="#555" text-anchor="middle" font-family="'Liberation Sans', Arial, sans-serif" >0</text>
<line x1="213.28" y1="167.60" x2="213.28" y2="169.60" stroke="#333" stroke-width="0.7" />
<line x1="219.76" y1="167.60" x2="219.76" y2="169.60" stroke="#333" stroke-width="0.7" />
<line x1="226.24" y1="167.60" x2="226.24" y2="169.60" stroke="#333" stroke-width="0.7" />
<line x1="232.72" y1="167.60" x2="232.72" y2="169.60" stroke="#333" stroke-width="0.7" />
<line x1="239.20" y1="167.60" x2="239.20" y2="170.80" stroke="#333" stroke-width="0.7" />
<text x="239.20" y="178.00" font-size="4.8" fill="#555" text-anchor="middle" font-family="'Liberation Sans', Arial, sans-serif" >20</text>
<line x1="245.68" y1="167.60" x2="245.68" y2="169.60" stroke="#333" stroke-width="0.7" />
<line x1="252.16" y1="167.60" x2="252.16" y2="169.60" stroke="#333" stroke-width="0.7" />
<line x1="258.64" y1="167.60" x2="258.64" y2="169.60" stroke="#333" stroke-width="0.7" />
<line x1="265.12" y1="167.60" x2="265.12" y2="169.60" stroke="#333" stroke-width="0.7" />
<line x1="271.60" y1="167.60" x2="271.60" y2="170.80" stroke="#333" stroke-width="0.7" />
<text x="271.60" y="178.00" font-size="4.8" fill="#555" text-anchor="middle" font-family="'Liberation Sans', Arial, sans-serif" >40</text>
<line x1="278.08" y1="167.60" x2="278.08" y2="169.60" stroke="#333" stroke-width="0.7" />
<line x1="284.56" y1="167.60" x2="284.56" y2="169.60" stroke="#333" stroke-width="0.7" />
<line x1="291.04" y1="167.60" x2="291.04" y2="169.60" stroke="#333" stroke-width="0.7" />
<line x1="297.52" y1="167.60" x2="297.52" y2="169.60" stroke="#333" stroke-width="0.7" />
<line x1="304.00" y1="167.60" x2="304.00" y2="170.80" stroke="#333" stroke-width="0.7" />
<text x="304.00" y="178.00" font-size="4.8" fill="#555" text-anchor="middle" font-family="'Liberation Sans', Arial, sans-serif" >60</text>
<line x1="310.48" y1="167.60" x2="310.48" y2="169.60" stroke="#333" stroke-width="0.7" />
<line x1="316.96" y1="167.60" x2="316.96" y2="169.60" stroke="#333" stroke-width="0.7" />
<line x1="323.44" y1="167.60" x2="323.44" y2="169.60" stroke="#333" stroke-width="0.7" />
<line x1="329.92" y1="167.60" x2="329.92" y2="169.60" stroke="#333" stroke-width="0.7" />
<line x1="336.40" y1="167.60" x2="336.40" y2="170.80" stroke="#333" stroke-width="0.7" />
<text x="336.40" y="178.00" font-size="4.8" fill="#555" text-anchor="middle" font-family="'Liberation Sans', Arial, sans-serif" >80</text>
<line x1="342.88" y1="167.60" x2="342.88" y2="169.60" stroke="#333" stroke-width="0.7" />
<line x1="349.36" y1="167.60" x2="349.36" y2="169.60" stroke="#333" stroke-width="0.7" />
<line x1="355.84" y1="167.60" x2="355.84" y2="169.60" stroke="#333" stroke-width="0.7" />
<text transform="translate(194.60,107.40) rotate(-90)" font-size="4.9" fill="#555" text-anchor="middle" font-family="'Liberation Sans', Arial, sans-serif">Number</text>
<text x="288.40" y="182.40" font-size="5.2" fill="#444" text-anchor="middle" font-family="'Liberation Sans', Arial, sans-serif" textLength="42.00" lengthAdjust="spacing" >Channels (FL2-H)</text>
<path d="M269.40,172.00 L273.80,172.00 L271.60,168.10 Z" fill="#000"/>
<path d="M326.40,172.00 L330.80,172.00 L328.60,168.10 Z" fill="#000"/>
<rect x="335.00" y="33.60" width="6.00" height="3.50" fill="#ff2200" stroke="#333" stroke-width="0.7" />
<text x="343.70" y="36.50" font-size="3.9" fill="#3050ff" text-anchor="start" font-family="'Liberation Sans', Arial, sans-serif" textLength="13.00" lengthAdjust="spacing" >Dip G1</text>
<rect x="335.00" y="37.70" width="6.00" height="3.50" fill="#ff2200" stroke="#333" stroke-width="0.7" />
<text x="343.70" y="40.60" font-size="3.9" fill="#3050ff" text-anchor="start" font-family="'Liberation Sans', Arial, sans-serif" textLength="13.00" lengthAdjust="spacing" >Dip G2</text>
<rect x="335.00" y="41.80" width="6.00" height="3.50" fill="url(#hatch1)" stroke="#333" stroke-width="0.7" />
<text x="343.70" y="44.70" font-size="3.9" fill="#3050ff" text-anchor="start" font-family="'Liberation Sans', Arial, sans-serif" textLength="9.00" lengthAdjust="spacing" >Dip S</text>
<text x="258.60" y="43.90" font-size="9.9" fill="#1a1a1a" text-anchor="start" font-family="'DejaVu Sans Condensed', 'DejaVu Sans', sans-serif" textLength="27.20" lengthAdjust="spacing" >60.63</text>
<text x="286.60" y="157.60" font-size="9.9" fill="#1a1a1a" text-anchor="start" font-family="'DejaVu Sans Condensed', 'DejaVu Sans', sans-serif" textLength="27.60" lengthAdjust="spacing" >29.25</text>
<text x="315.60" y="145.00" font-size="9.9" fill="#1a1a1a" text-anchor="start" font-family="'DejaVu Sans Condensed', 'DejaVu Sans', sans-serif" textLength="27.00" lengthAdjust="spacing" >10.12</text>
<pattern id="hatch2" patternUnits="userSpaceOnUse" width="3.0" height="3.0" patternTransform="rotate(-45)"><rect width="3.0" height="3.0" fill="#fff"/><rect x="0" y="0" width="1.0" height="3.0" fill="#6a88ff"/></pattern>
<pattern id="hatch2r" patternUnits="userSpaceOnUse" width="3.0" height="3.0" patternTransform="rotate(-45)"><rect x="0" y="0" width="1.0" height="3.0" fill="#a0143c" fill-opacity="0.55"/></pattern>
<path d="M69.5,348.4 L70.0,348.4 L70.5,348.3 L71.0,348.2 L71.5,348.0 L72.0,347.8 L72.5,347.5 L73.0,347.2 L73.5,346.9 L74.0,346.5 L74.5,346.1 L75.0,345.8 L75.5,345.5 L76.0,345.2 L76.5,345.0 L77.0,344.8 L77.5,344.7 L78.0,344.6 L78.5,344.6 L79.0,344.5 L79.5,344.5 L80.0,344.5 L80.5,344.4 L81.0,344.4 L81.5,344.4 L82.0,344.4 L82.5,344.4 L83.0,344.4 L83.5,344.4 L84.0,344.4 L84.5,344.4 L85.0,344.4 L85.5,344.4 L86.0,344.4 L86.5,344.4 L87.0,344.4 L87.5,344.4 L88.0,344.4 L88.5,344.4 L89.0,344.4 L89.5,344.4 L90.0,344.4 L90.5,344.4 L91.0,344.4 L91.5,344.4 L92.0,344.4 L92.5,344.4 L93.0,344.4 L93.5,344.4 L94.0,344.4 L94.5,344.4 L95.0,344.4 L95.5,344.4 L96.0,344.4 L96.5,344.4 L97.0,344.4 L97.5,344.4 L98.0,344.4 L98.5,344.4 L99.0,344.4 L99.5,344.4 L100.0,344.4 L100.5,344.4 L101.0,344.4 L101.5,344.4 L102.0,344.4 L102.5,344.4 L103.0,344.4 L103.5,344.4 L104.0,344.4 L104.5,344.5 L105.0,344.5 L105.5,344.5 L106.0,344.5 L106.5,344.6 L107.0,344.6 L107.5,344.7 L108.0,344.8 L108.5,344.9 L109.0,345.1 L109.5,345.2 L110.0,345.4 L110.5,345.7 L111.0,345.9 L111.5,346.2 L112.0,346.5 L112.5,346.8 L113.0,347.1 L113.5,347.3 L114.0,347.6 L114.5,347.8 L115.0,347.9 L115.5,348.1 L116.0,348.2 L116.5,348.3 L117.0,348.4 L117.5,348.4 L117.5,348.6 L69.5,348.6 Z" fill="url(#hatch2)" stroke="none"/>
<clipPath id="hatch2c"><path d="M65.0,347.7 L65.5,346.1 L66.0,343.6 L66.5,339.9 L67.0,334.7 L67.5,327.6 L68.0,318.6 L68.5,307.6 L69.0,295.0 L69.5,281.5 L70.0,268.0 L70.5,255.7 L71.0,245.8 L71.5,239.3 L72.0,237.1 L72.5,239.3 L73.0,245.8 L73.5,255.7 L74.0,268.0 L74.5,281.5 L75.0,295.0 L75.5,307.6 L76.0,318.6 L76.5,327.6 L77.0,334.7 L77.5,339.9 L78.0,343.6 L78.5,346.1 L79.0,347.7 Z"/><path d="M104.4,348.6 L104.5,348.5 L105.0,347.6 L105.5,346.5 L106.0,345.2 L106.5,343.8 L107.0,342.5 L107.5,341.1 L108.0,339.9 L108.5,338.7 L109.0,337.6 L109.5,336.6 L110.0,335.8 L110.5,335.1 L111.0,334.5 L111.5,334.0 L112.0,333.7 L112.5,333.6 L113.0,333.6 L113.5,333.8 L114.0,334.1 L114.5,334.6 L115.0,335.2 L115.5,335.9 L116.0,336.8 L116.5,337.8 L117.0,338.9 L117.5,340.1 L118.0,341.4 L118.5,342.7 L119.0,344.1 L119.5,345.4 L120.0,346.7 L120.5,347.9 L121.0,348.6 L121.0,348.6 Z"/></clipPath>
<path d="M104.4,348.6 L104.5,348.5 L105.0,347.6 L105.5,346.5 L106.0,345.2 L106.5,343.8 L107.0,342.5 L107.5,341.1 L108.0,339.9 L108.5,338.7 L109.0,337.6 L109.5,336.6 L110.0,335.8 L110.5,335.1 L111.0,334.5 L111.5,334.0 L112.0,333.7 L112.5,333.6 L113.0,333.6 L113.5,333.8 L114.0,334.1 L114.5,334.6 L115.0,335.2 L115.5,335.9 L116.0,336.8 L116.5,337.8 L117.0,338.9 L117.5,340.1 L118.0,341.4 L118.5,342.7 L119.0,344.1 L119.5,345.4 L120.0,346.7 L120.5,347.9 L121.0,348.6 L121.0,348.6 Z" fill="#ff2200" stroke="#301010" stroke-width="0.6"/>
<path d="M65.0,347.7 L65.5,346.1 L66.0,343.6 L66.5,339.9 L67.0,334.7 L67.5,327.6 L68.0,318.6 L68.5,307.6 L69.0,295.0 L69.5,281.5 L70.0,268.0 L70.5,255.7 L71.0,245.8 L71.5,239.3 L72.0,237.1 L72.5,239.3 L73.0,245.8 L73.5,255.7 L74.0,268.0 L74.5,281.5 L75.0,295.0 L75.5,307.6 L76.0,318.6 L76.5,327.6 L77.0,334.7 L77.5,339.9 L78.0,343.6 L78.5,346.1 L79.0,347.7 Z" fill="#ff2200" stroke="none"/>
<path d="M69.5,348.4 L70.0,348.4 L70.5,348.3 L71.0,348.2 L71.5,348.0 L72.0,347.8 L72.5,347.5 L73.0,347.2 L73.5,346.9 L74.0,346.5 L74.5,346.1 L75.0,345.8 L75.5,345.5 L76.0,345.2 L76.5,345.0 L77.0,344.8 L77.5,344.7 L78.0,344.6 L78.5,344.6 L79.0,344.5 L79.5,344.5 L80.0,344.5 L80.5,344.4 L81.0,344.4 L81.5,344.4 L82.0,344.4 L82.5,344.4 L83.0,344.4 L83.5,344.4 L84.0,344.4 L84.5,344.4 L85.0,344.4 L85.5,344.4 L86.0,344.4 L86.5,344.4 L87.0,344.4 L87.5,344.4 L88.0,344.4 L88.5,344.4 L89.0,344.4 L89.5,344.4 L90.0,344.4 L90.5,344.4 L91.0,344.4 L91.5,344.4 L92.0,344.4 L92.5,344.4 L93.0,344.4 L93.5,344.4 L94.0,344.4 L94.5,344.4 L95.0,344.4 L95.5,344.4 L96.0,344.4 L96.5,344.4 L97.0,344.4 L97.5,344.4 L98.0,344.4 L98.5,344.4 L99.0,344.4 L99.5,344.4 L100.0,344.4 L100.5,344.4 L101.0,344.4 L101.5,344.4 L102.0,344.4 L102.5,344.4 L103.0,344.4 L103.5,344.4 L104.0,344.4 L104.5,344.5 L105.0,344.5 L105.5,344.5 L106.0,344.5 L106.5,344.6 L107.0,344.6 L107.5,344.7 L108.0,344.8 L108.5,344.9 L109.0,345.1 L109.5,345.2 L110.0,345.4 L110.5,345.7 L111.0,345.9 L111.5,346.2 L112.0,346.5 L112.5,346.8 L113.0,347.1 L113.5,347.3 L114.0,347.6 L114.5,347.8 L115.0,347.9 L115.5,348.1 L116.0,348.2 L116.5,348.3 L117.0,348.4 L117.5,348.4 L117.5,348.6 L69.5,348.6 Z" fill="url(#hatch2r)" stroke="none" clip-path="url(#hatch2c)"/>
<path d="M69.5,348.4 L70.0,348.4 L70.5,348.3 L71.0,348.2 L71.5,348.0 L72.0,347.8 L72.5,347.5 L73.0,347.2 L73.5,346.9 L74.0,346.5 L74.5,346.1 L75.0,345.8 L75.5,345.5 L76.0,345.2 L76.5,345.0 L77.0,344.8 L77.5,344.7 L78.0,344.6 L78.5,344.6 L79.0,344.5 L79.5,344.5 L80.0,344.5 L80.5,344.4 L81.0,344.4 L81.5,344.4 L82.0,344.4 L82.5,344.4 L83.0,344.4 L83.5,344.4 L84.0,344.4 L84.5,344.4 L85.0,344.4 L85.5,344.4 L86.0,344.4 L86.5,344.4 L87.0,344.4 L87.5,344.4 L88.0,344.4 L88.5,344.4 L89.0,344.4 L89.5,344.4 L90.0,344.4 L90.5,344.4 L91.0,344.4 L91.5,344.4 L92.0,344.4 L92.5,344.4 L93.0,344.4 L93.5,344.4 L94.0,344.4 L94.5,344.4 L95.0,344.4 L95.5,344.4 L96.0,344.4 L96.5,344.4 L97.0,344.4 L97.5,344.4 L98.0,344.4 L98.5,344.4 L99.0,344.4 L99.5,344.4 L100.0,344.4 L100.5,344.4 L101.0,344.4 L101.5,344.4 L102.0,344.4 L102.5,344.4 L103.0,344.4 L103.5,344.4 L104.0,344.4 L104.5,344.5 L105.0,344.5 L105.5,344.5 L106.0,344.5 L106.5,344.6 L107.0,344.6 L107.5,344.7 L108.0,344.8 L108.5,344.9 L109.0,345.1 L109.5,345.2 L110.0,345.4 L110.5,345.7 L111.0,345.9 L111.5,346.2 L112.0,346.5 L112.5,346.8 L113.0,347.1 L113.5,347.3 L114.0,347.6 L114.5,347.8 L115.0,347.9 L115.5,348.1 L116.0,348.2 L116.5,348.3 L117.0,348.4 L117.5,348.4" fill="none" stroke="#3a1030" stroke-width="0.75"/>
<path d="M29.0,348.6 L29.5,348.6 L30.0,348.6 L30.5,348.6 L31.0,348.6 L31.5,348.6 L32.0,348.6 L32.5,348.6 L33.0,348.6 L33.5,348.6 L34.0,348.6 L34.5,348.6 L35.0,348.6 L35.5,348.6 L36.0,348.6 L36.5,348.6 L37.0,348.6 L37.5,348.6 L38.0,348.6 L38.5,348.6 L39.0,348.6 L39.5,348.6 L40.0,348.6 L40.5,348.6 L41.0,348.6 L41.5,348.6 L42.0,348.6 L42.5,348.6 L43.0,348.6 L43.5,348.6 L44.0,348.6 L44.5,348.6 L45.0,348.6 L45.5,348.6 L46.0,348.6 L46.5,348.6 L47.0,348.6 L47.5,348.6 L48.0,348.6 L48.5,348.6 L49.0,348.6 L49.5,348.6 L50.0,348.6 L50.5,348.6 L51.0,348.6 L51.5,348.6 L52.0,348.6 L52.5,348.6 L53.0,348.6 L53.5,348.6 L54.0,348.6 L54.5,348.6 L55.0,348.6 L55.5,348.6 L56.0,348.6 L56.5,348.6 L57.0,348.6 L57.5,348.6 L58.0,348.6 L58.5,348.6 L59.0,348.6 L59.5,348.6 L60.0,348.6 L60.5,348.6 L61.0,348.6 L61.5,348.6 L62.0,348.6 L62.5,348.6 L63.0,348.6 L63.5,348.6 L64.0,348.6 L64.5,348.6 L65.0,347.7 L65.5,346.1 L66.0,343.6 L66.5,339.9 L67.0,334.7 L67.5,327.6 L68.0,318.5 L68.5,307.5 L69.0,294.9 L69.5,281.3 L70.0,267.8 L70.5,255.4 L71.0,245.3 L71.5,238.7 L72.0,236.3 L72.5,238.2 L73.0,244.3 L73.5,253.9 L74.0,265.8 L74.5,278.9 L75.0,292.0 L75.5,304.3 L76.0,314.9 L76.5,323.7 L77.0,330.5 L77.5,335.6 L78.0,339.1 L78.5,341.5 L79.0,343.0 L79.5,343.8 L80.0,343.8 L80.5,343.7 L81.0,343.7 L81.5,343.7 L82.0,343.6 L82.5,343.6 L83.0,343.6 L83.5,343.6 L84.0,343.6 L84.5,343.6 L85.0,343.6 L85.5,343.6 L86.0,343.6 L86.5,343.6 L87.0,343.6 L87.5,343.6 L88.0,343.6 L88.5,343.6 L89.0,343.6 L89.5,343.6 L90.0,343.6 L90.5,343.6 L91.0,343.6 L91.5,343.6 L92.0,343.6 L92.5,343.6 L93.0,343.6 L93.5,343.6 L94.0,343.6 L94.5,343.6 L95.0,343.6 L95.5,343.6 L96.0,343.6 L96.5,343.6 L97.0,343.6 L97.5,343.6 L98.0,343.6 L98.5,343.6 L99.0,343.6 L99.5,343.6 L100.0,343.6 L100.5,343.6 L101.0,343.6 L101.5,343.6 L102.0,343.6 L102.5,343.6 L103.0,343.6 L103.5,343.5 L104.0,343.5 L104.5,343.4 L105.0,342.5 L105.5,341.2 L106.0,339.9 L106.5,338.4 L107.0,337.0 L107.5,335.6 L108.0,334.3 L108.5,333.0 L109.0,331.9 L109.5,331.0 L110.0,330.2 L110.5,329.6 L111.0,329.2 L111.5,329.0 L112.0,329.0 L112.5,329.2 L113.0,329.5 L113.5,330.1 L114.0,330.8 L114.5,331.6 L115.0,332.6 L115.5,333.7 L116.0,334.9 L116.5,336.2 L117.0,337.6 L117.5,339.0 L118.0,340.5 L118.5,342.0 L119.0,343.5 L119.5,345.0 L120.0,346.4 L120.5,347.6 L121.0,348.4 L121.5,348.5 L122.0,348.5 L122.5,348.5 L123.0,348.6 L123.5,348.6 L124.0,348.6 L124.5,348.6 L125.0,348.6 L125.5,348.6 L126.0,348.6 L126.5,348.6 L127.0,348.6 L127.5,348.6 L128.0,348.6 L128.5,348.6 L129.0,348.6 L129.5,348.6 L130.0,348.6 L130.5,348.6 L131.0,348.6 L131.5,348.6 L132.0,348.6 L132.5,348.6 L133.0,348.6 L133.5,348.6 L134.0,348.6 L134.5,348.6 L135.0,348.6 L135.5,348.6 L136.0,348.6 L136.5,348.6 L137.0,348.6 L137.5,348.6 L138.0,348.6 L138.5,348.6 L139.0,348.6 L139.5,348.6 L140.0,348.6 L140.5,348.6 L141.0,348.6 L141.5,348.6 L142.0,348.6 L142.5,348.6 L143.0,348.6 L143.5,348.6 L144.0,348.6 L144.5,348.6 L145.0,348.6 L145.5,348.6 L146.0,348.6 L146.5,348.6 L147.0,348.6 L147.5,348.6 L148.0,348.6 L148.5,348.6 L149.0,348.6 L149.5,348.6 L150.0,348.6 L150.5,348.6 L151.0,348.6 L151.5,348.6 L152.0,348.6 L152.5,348.6 L153.0,348.6 L153.5,348.6 L154.0,348.6 L154.5,348.6 L155.0,348.6 L155.5,348.6 L156.0,348.6 L156.5,348.6 L157.0,348.6 L157.5,348.6 L158.0,348.6 L158.5,348.6 L159.0,348.6 L159.5,348.6 L160.0,348.6 L160.5,348.6 L161.0,348.6 L161.5,348.6 L162.0,348.6 L162.5,348.6 L163.0,348.6 L163.5,348.6 L164.0,348.6 L164.5,348.6 L165.0,348.6 L165.5,348.6 L166.0,348.6 L166.5,348.6 L167.0,348.6 L167.5,348.6 L168.0,348.6 L168.5,348.6 L169.0,348.6 L169.5,348.6 L170.0,348.6 L170.5,348.6 L171.0,348.6 L171.5,348.6 L172.0,348.6 L172.5,348.6 L173.0,348.6 L173.5,348.6 L174.0,348.6" fill="none" stroke="#6a6a6a" stroke-width="0.8"/>
<path d="M29.0,348.6 L29.5,348.6 L30.0,348.6 L30.5,348.6 L31.0,348.6 L31.5,348.6 L32.0,348.6 L32.5,348.6 L33.0,348.6 L33.5,348.6 L34.0,348.6 L34.5,348.6 L35.0,348.6 L35.5,348.6 L36.0,348.6 L36.5,348.6 L37.0,348.6 L37.5,348.6 L38.0,348.6 L38.5,348.6 L39.0,348.6 L39.5,348.6 L40.0,348.6 L40.5,348.6 L41.0,348.6 L41.5,348.6 L42.0,348.6 L42.5,348.6 L43.0,348.6 L43.5,348.6 L44.0,348.6 L44.5,348.6 L45.0,348.6 L45.5,348.6 L46.0,348.6 L46.5,348.6 L47.0,348.6 L47.5,348.6 L48.0,348.6 L48.5,348.6 L49.0,348.6 L49.5,348.6 L50.0,348.6 L50.5,348.6 L51.0,348.6 L51.5,348.6 L52.0,348.6 L52.5,348.6 L53.0,348.6 L53.5,348.6 L54.0,348.6 L54.5,348.6 L55.0,348.6 L55.5,348.6 L56.0,348.6 L56.5,348.6 L57.0,348.6 L57.5,348.6 L58.0,348.6 L58.5,348.6 L59.0,348.6 L59.5,348.6 L60.0,348.6 L60.5,348.6 L61.0,348.6 L61.5,348.6 L62.0,348.6 L62.5,348.6 L63.0,348.6 L63.5,348.6 L64.0,348.6 L64.5,348.6 L65.0,347.7 L65.5,346.1 L66.0,343.6 L66.5,339.9 L67.0,334.7 L67.5,327.6 L68.0,318.5 L68.5,307.5 L69.0,294.9 L69.5,281.3 L70.0,267.8 L70.5,255.4 L71.0,245.3 L71.5,238.7 L72.0,236.3 L72.5,238.3 L73.0,244.4 L73.5,254.0 L74.0,265.9 L74.5,279.0 L75.0,292.2 L75.5,304.5 L76.0,315.2 L76.5,324.0 L77.0,330.9 L77.5,336.0 L78.0,339.6 L78.5,342.1 L79.0,343.6 L79.5,344.5 L80.0,344.5 L80.5,344.4 L81.0,344.4 L81.5,344.4 L82.0,344.4 L82.5,344.4 L83.0,344.4 L83.5,344.4 L84.0,344.4 L84.5,344.4 L85.0,344.4 L85.5,344.4 L86.0,344.4 L86.5,344.4 L87.0,344.4 L87.5,344.4 L88.0,344.4 L88.5,344.4 L89.0,344.4 L89.5,344.4 L90.0,344.4 L90.5,344.4 L91.0,344.4 L91.5,344.4 L92.0,344.4 L92.5,344.4 L93.0,344.4 L93.5,344.4 L94.0,344.4 L94.5,344.4 L95.0,344.4 L95.5,344.4 L96.0,344.4 L96.5,344.4 L97.0,344.4 L97.5,344.4 L98.0,344.4 L98.5,344.4 L99.0,344.4 L99.5,344.4 L100.0,344.4 L100.5,344.4 L101.0,344.4 L101.5,344.4 L102.0,344.4 L102.5,344.4 L103.0,344.4 L103.5,344.4 L104.0,344.4 L104.5,344.4 L105.0,343.5 L105.5,342.4 L106.0,341.1 L106.5,339.8 L107.0,338.5 L107.5,337.3 L108.0,336.1 L108.5,335.0 L109.0,334.1 L109.5,333.3 L110.0,332.6 L110.5,332.1 L111.0,331.8 L111.5,331.6 L112.0,331.6 L112.5,331.8 L113.0,332.1 L113.5,332.5 L114.0,333.1 L114.5,333.7 L115.0,334.5 L115.5,335.4 L116.0,336.4 L116.5,337.5 L117.0,338.7 L117.5,339.9 L118.0,341.3 L118.5,342.6 L119.0,344.0 L119.5,345.4 L120.0,346.7 L120.5,347.8 L121.0,348.6 L121.5,348.6 L122.0,348.6 L122.5,348.6 L123.0,348.6 L123.5,348.6 L124.0,348.6 L124.5,348.6 L125.0,348.6 L125.5,348.6 L126.0,348.6 L126.5,348.6 L127.0,348.6 L127.5,348.6 L128.0,348.6 L128.5,348.6 L129.0,348.6 L129.5,348.6 L130.0,348.6 L130.5,348.6 L131.0,348.6 L131.5,348.6 L132.0,348.6 L132.5,348.6 L133.0,348.6 L133.5,348.6 L134.0,348.6 L134.5,348.6 L135.0,348.6 L135.5,348.6 L136.0,348.6 L136.5,348.6 L137.0,348.6 L137.5,348.6 L138.0,348.6 L138.5,348.6 L139.0,348.6 L139.5,348.6 L140.0,348.6 L140.5,348.6 L141.0,348.6 L141.5,348.6 L142.0,348.6 L142.5,348.6 L143.0,348.6 L143.5,348.6 L144.0,348.6 L144.5,348.6 L145.0,348.6 L145.5,348.6 L146.0,348.6 L146.5,348.6 L147.0,348.6 L147.5,348.6 L148.0,348.6 L148.5,348.6 L149.0,348.6 L149.5,348.6 L150.0,348.6 L150.5,348.6 L151.0,348.6 L151.5,348.6 L152.0,348.6 L152.5,348.6 L153.0,348.6 L153.5,348.6 L154.0,348.6 L154.5,348.6 L155.0,348.6 L155.5,348.6 L156.0,348.6 L156.5,348.6 L157.0,348.6 L157.5,348.6 L158.0,348.6 L158.5,348.6 L159.0,348.6 L159.5,348.6 L160.0,348.6 L160.5,348.6 L161.0,348.6 L161.5,348.6 L162.0,348.6 L162.5,348.6 L163.0,348.6 L163.5,348.6 L164.0,348.6 L164.5,348.6 L165.0,348.6 L165.5,348.6 L166.0,348.6 L166.5,348.6 L167.0,348.6 L167.5,348.6 L168.0,348.6 L168.5,348.6 L169.0,348.6 L169.5,348.6 L170.0,348.6 L170.5,348.6 L171.0,348.6 L171.5,348.6 L172.0,348.6 L172.5,348.6 L173.0,348.6 L173.5,348.6 L174.0,348.6" fill="none" stroke="#000" stroke-width="1.05"/>
<line x1="28.00" y1="227.00" x2="28.00" y2="349.10" stroke="#333" stroke-width="0.9" />
<line x1="27.60" y1="348.60" x2="174.00" y2="348.60" stroke="#111" stroke-width="1.1" />
<line x1="23.20" y1="348.60" x2="28.00" y2="348.60" stroke="#444" stroke-width="0.7" />
<text transform="translate(19.40,348.60) rotate(-90)" font-size="4.5" fill="#555" text-anchor="middle" font-family="'Liberation Sans', Arial, sans-serif">0</text>
<line x1="25.80" y1="343.54" x2="28.00" y2="343.54" stroke="#444" stroke-width="0.7" />
<line x1="25.80" y1="338.48" x2="28.00" y2="338.48" stroke="#444" stroke-width="0.7" />
<line x1="25.80" y1="333.42" x2="28.00" y2="333.42" stroke="#444" stroke-width="0.7" />
<line x1="25.80" y1="328.36" x2="28.00" y2="328.36" stroke="#444" stroke-width="0.7" />
<line x1="23.20" y1="323.30" x2="28.00" y2="323.30" stroke="#444" stroke-width="0.7" />
<text transform="translate(19.40,323.30) rotate(-90)" font-size="4.5" fill="#555" text-anchor="middle" font-family="'Liberation Sans', Arial, sans-serif">300</text>
<line x1="25.80" y1="318.24" x2="28.00" y2="318.24" stroke="#444" stroke-width="0.7" />
<line x1="25.80" y1="313.18" x2="28.00" y2="313.18" stroke="#444" stroke-width="0.7" />
<line x1="25.80" y1="308.12" x2="28.00" y2="308.12" stroke="#444" stroke-width="0.7" />
<line x1="25.80" y1="303.06" x2="28.00" y2="303.06" stroke="#444" stroke-width="0.7" />
<line x1="23.20" y1="298.00" x2="28.00" y2="298.00" stroke="#444" stroke-width="0.7" />
<text transform="translate(19.40,298.00) rotate(-90)" font-size="4.5" fill="#555" text-anchor="middle" font-family="'Liberation Sans', Arial, sans-serif">600</text>
<line x1="25.80" y1="292.94" x2="28.00" y2="292.94" stroke="#444" stroke-width="0.7" />
<line x1="25.80" y1="287.88" x2="28.00" y2="287.88" stroke="#444" stroke-width="0.7" />
<line x1="25.80" y1="282.82" x2="28.00" y2="282.82" stroke="#444" stroke-width="0.7" />
<line x1="25.80" y1="277.76" x2="28.00" y2="277.76" stroke="#444" stroke-width="0.7" />
<line x1="23.20" y1="272.70" x2="28.00" y2="272.70" stroke="#444" stroke-width="0.7" />
<text transform="translate(19.40,272.70) rotate(-90)" font-size="4.5" fill="#555" text-anchor="middle" font-family="'Liberation Sans', Arial, sans-serif">900</text>
<line x1="25.80" y1="267.64" x2="28.00" y2="267.64" stroke="#444" stroke-width="0.7" />
<line x1="25.80" y1="262.58" x2="28.00" y2="262.58" stroke="#444" stroke-width="0.7" />
<line x1="25.80" y1="257.52" x2="28.00" y2="257.52" stroke="#444" stroke-width="0.7" />
<line x1="25.80" y1="252.46" x2="28.00" y2="252.46" stroke="#444" stroke-width="0.7" />
<line x1="23.20" y1="247.40" x2="28.00" y2="247.40" stroke="#444" stroke-width="0.7" />
<text transform="translate(19.40,247.40) rotate(-90)" font-size="4.5" fill="#555" text-anchor="middle" font-family="'Liberation Sans', Arial, sans-serif">1200</text>
<line x1="25.80" y1="242.34" x2="28.00" y2="242.34" stroke="#444" stroke-width="0.7" />
<line x1="25.80" y1="237.28" x2="28.00" y2="237.28" stroke="#444" stroke-width="0.7" />
<line x1="25.80" y1="232.22" x2="28.00" y2="232.22" stroke="#444" stroke-width="0.7" />
<line x1="25.80" y1="227.16" x2="28.00" y2="227.16" stroke="#444" stroke-width="0.7" />
<line x1="28.60" y1="348.60" x2="28.60" y2="351.80" stroke="#333" stroke-width="0.7" />
<text x="28.60" y="359.00" font-size="4.8" fill="#555" text-anchor="middle" font-family="'Liberation Sans', Arial, sans-serif" >0</text>
<line x1="33.45" y1="348.60" x2="33.45" y2="350.60" stroke="#333" stroke-width="0.7" />
<line x1="38.30" y1="348.60" x2="38.30" y2="350.60" stroke="#333" stroke-width="0.7" />
<line x1="43.14" y1="348.60" x2="43.14" y2="350.60" stroke="#333" stroke-width="0.7" />
<line x1="47.99" y1="348.60" x2="47.99" y2="350.60" stroke="#333" stroke-width="0.7" />
<line x1="52.84" y1="348.60" x2="52.84" y2="351.80" stroke="#333" stroke-width="0.7" />
<text x="52.84" y="359.00" font-size="4.8" fill="#555" text-anchor="middle" font-family="'Liberation Sans', Arial, sans-serif" >20</text>
<line x1="57.69" y1="348.60" x2="57.69" y2="350.60" stroke="#333" stroke-width="0.7" />
<line x1="62.54" y1="348.60" x2="62.54" y2="350.60" stroke="#333" stroke-width="0.7" />
<line x1="67.38" y1="348.60" x2="67.38" y2="350.60" stroke="#333" stroke-width="0.7" />
<line x1="72.23" y1="348.60" x2="72.23" y2="350.60" stroke="#333" stroke-width="0.7" />
<line x1="77.08" y1="348.60" x2="77.08" y2="351.80" stroke="#333" stroke-width="0.7" />
<text x="77.08" y="359.00" font-size="4.8" fill="#555" text-anchor="middle" font-family="'Liberation Sans', Arial, sans-serif" >40</text>
<line x1="81.93" y1="348.60" x2="81.93" y2="350.60" stroke="#333" stroke-width="0.7" />
<line x1="86.78" y1="348.60" x2="86.78" y2="350.60" stroke="#333" stroke-width="0.7" />
<line x1="91.62" y1="348.60" x2="91.62" y2="350.60" stroke="#333" stroke-width="0.7" />
<line x1="96.47" y1="348.60" x2="96.47" y2="350.60" stroke="#333" stroke-width="0.7" />
<line x1="101.32" y1="348.60" x2="101.32" y2="351.80" stroke="#333" stroke-width="0.7" />
<text x="101.32" y="359.00" font-size="4.8" fill="#555" text-anchor="middle" font-family="'Liberation Sans', Arial, sans-serif" >60</text>
<line x1="106.17" y1="348.60" x2="106.17" y2="350.60" stroke="#333" stroke-width="0.7" />
<line x1="111.02" y1="348.60" x2="111.02" y2="350.60" stroke="#333" stroke-width="0.7" />
<line x1="115.86" y1="348.60" x2="115.86" y2="350.60" stroke="#333" stroke-width="0.7" />
<line x1="120.71" y1="348.60" x2="120.71" y2="350.60" stroke="#333" stroke-width="0.7" />
<line x1="125.56" y1="348.60" x2="125.56" y2="351.80" stroke="#333" stroke-width="0.7" />
<text x="125.56" y="359.00" font-size="4.8" fill="#555" text-anchor="middle" font-family="'Liberation Sans', Arial, sans-serif" >80</text>
<line x1="130.41" y1="348.60" x2="130.41" y2="350.60" stroke="#333" stroke-width="0.7" />
<line x1="135.26" y1="348.60" x2="135.26" y2="350.60" stroke="#333" stroke-width="0.7" />
<line x1="140.10" y1="348.60" x2="140.10" y2="350.60" stroke="#333" stroke-width="0.7" />
<line x1="144.95" y1="348.60" x2="144.95" y2="350.60" stroke="#333" stroke-width="0.7" />
<line x1="149.80" y1="348.60" x2="149.80" y2="351.80" stroke="#333" stroke-width="0.7" />
<text x="149.80" y="359.00" font-size="4.8" fill="#555" text-anchor="middle" font-family="'Liberation Sans', Arial, sans-serif" >100</text>
<line x1="154.65" y1="348.60" x2="154.65" y2="350.60" stroke="#333" stroke-width="0.7" />
<line x1="159.50" y1="348.60" x2="159.50" y2="350.60" stroke="#333" stroke-width="0.7" />
<line x1="164.34" y1="348.60" x2="164.34" y2="350.60" stroke="#333" stroke-width="0.7" />
<line x1="169.19" y1="348.60" x2="169.19" y2="350.60" stroke="#333" stroke-width="0.7" />
<line x1="174.04" y1="348.60" x2="174.04" y2="351.80" stroke="#333" stroke-width="0.7" />
<text x="174.04" y="359.00" font-size="4.8" fill="#555" text-anchor="middle" font-family="'Liberation Sans', Arial, sans-serif" >120</text>
<text transform="translate(14.80,288.60) rotate(-90)" font-size="4.9" fill="#555" text-anchor="middle" font-family="'Liberation Sans', Arial, sans-serif">Number</text>
<text x="100.30" y="363.40" font-size="5.2" fill="#444" text-anchor="middle" font-family="'Liberation Sans', Arial, sans-serif" textLength="42.00" lengthAdjust="spacing" >Channels (FL2-H)</text>
<path d="M68.80,353.00 L73.20,353.00 L71.00,349.10 Z" fill="#000"/>
<path d="M110.20,353.00 L114.60,353.00 L112.40,349.10 Z" fill="#000"/>
<rect x="143.30" y="212.30" width="6.00" height="3.50" fill="#ff2200" stroke="#333" stroke-width="0.7" />
<text x="152.00" y="215.20" font-size="3.9" fill="#3050ff" text-anchor="start" font-family="'Liberation Sans', Arial, sans-serif" textLength="13.00" lengthAdjust="spacing" >Dip G1</text>
<rect x="143.30" y="216.40" width="6.00" height="3.50" fill="#ff2200" stroke="#333" stroke-width="0.7" />
<text x="152.00" y="219.30" font-size="3.9" fill="#3050ff" text-anchor="start" font-family="'Liberation Sans', Arial, sans-serif" textLength="13.00" lengthAdjust="spacing" >Dip G2</text>
<rect x="143.30" y="220.50" width="6.00" height="3.50" fill="url(#hatch2)" stroke="#333" stroke-width="0.7" />
<text x="152.00" y="223.40" font-size="3.9" fill="#3050ff" text-anchor="start" font-family="'Liberation Sans', Arial, sans-serif" textLength="9.00" lengthAdjust="spacing" >Dip S</text>
<text x="58.20" y="234.10" font-size="9.9" fill="#1a1a1a" text-anchor="start" font-family="'DejaVu Sans Condensed', 'DejaVu Sans', sans-serif" textLength="27.10" lengthAdjust="spacing" >62.93</text>
<text x="99.00" y="321.00" font-size="9.9" fill="#1a1a1a" text-anchor="start" font-family="'DejaVu Sans Condensed', 'DejaVu Sans', sans-serif" textLength="26.80" lengthAdjust="spacing" >15.54</text>
<text x="79.00" y="337.40" font-size="9.9" fill="#1a1a1a" text-anchor="start" font-family="'DejaVu Sans Condensed', 'DejaVu Sans', sans-serif" textLength="27.20" lengthAdjust="spacing" >21.53</text>
<pattern id="hatch3" patternUnits="userSpaceOnUse" width="3.0" height="3.0" patternTransform="rotate(-45)"><rect width="3.0" height="3.0" fill="#fff"/><rect x="0" y="0" width="1.0" height="3.0" fill="#6a88ff"/></pattern>
<pattern id="hatch3r" patternUnits="userSpaceOnUse" width="3.0" height="3.0" patternTransform="rotate(-45)"><rect x="0" y="0" width="1.0" height="3.0" fill="#a0143c" fill-opacity="0.55"/></pattern>
<path d="M240.2,348.2 L240.7,348.1 L241.2,347.9 L241.7,347.5 L242.2,347.1 L242.7,346.5 L243.2,345.8 L243.7,345.1 L244.2,344.4 L244.7,343.8 L245.2,343.3 L245.7,343.0 L246.2,342.8 L246.7,342.6 L247.2,342.5 L247.7,342.5 L248.2,342.5 L248.7,342.4 L249.2,342.4 L249.7,342.4 L250.2,342.4 L250.7,342.4 L251.2,342.4 L251.7,342.4 L252.2,342.4 L252.7,342.4 L253.2,342.4 L253.7,342.4 L254.2,342.4 L254.7,342.4 L255.2,342.4 L255.7,342.4 L256.2,342.4 L256.7,342.4 L257.2,342.4 L257.7,342.4 L258.2,342.4 L258.7,342.4 L259.2,342.4 L259.7,342.4 L260.2,342.4 L260.7,342.4 L261.2,342.4 L261.7,342.4 L262.2,342.4 L262.7,342.4 L263.2,342.4 L263.7,342.4 L264.2,342.4 L264.7,342.4 L265.2,342.4 L265.7,342.4 L266.2,342.4 L266.7,342.4 L267.2,342.4 L267.7,342.4 L268.2,342.4 L268.7,342.5 L269.2,342.5 L269.7,342.5 L270.2,342.6 L270.7,342.6 L271.2,342.7 L271.7,342.8 L272.2,342.9 L272.7,343.1 L273.2,343.3 L273.7,343.6 L274.2,343.9 L274.7,344.2 L275.2,344.7 L275.7,345.1 L276.2,345.6 L276.7,346.0 L277.2,346.5 L277.7,346.9 L278.2,347.2 L278.7,347.5 L279.2,347.7 L279.7,347.9 L280.2,348.0 L280.7,348.1 L281.2,348.2 L281.7,348.2 L281.7,348.4 L240.2,348.4 Z" fill="url(#hatch3)" stroke="none"/>
<clipPath id="hatch3c"><path d="M234.7,348.4 L235.2,346.9 L235.7,344.3 L236.2,339.8 L236.7,332.8 L237.2,322.7 L237.7,309.3 L238.2,293.2 L238.7,275.7 L239.2,258.9 L239.7,245.5 L240.2,237.6 L240.7,236.9 L241.2,243.4 L241.7,255.9 L242.2,272.2 L242.7,289.7 L243.2,306.3 L243.7,320.2 L244.2,331.0 L244.7,338.6 L245.2,343.5 L245.7,346.5 L246.2,348.2 Z"/><path d="M271.0,348.4 L271.2,348.2 L271.7,347.1 L272.2,345.8 L272.7,344.5 L273.2,343.1 L273.7,341.8 L274.2,340.7 L274.7,339.6 L275.2,338.7 L275.7,338.0 L276.2,337.5 L276.7,337.1 L277.2,337.0 L277.7,337.1 L278.2,337.3 L278.7,337.8 L279.2,338.4 L279.7,339.2 L280.2,340.2 L280.7,341.4 L281.2,342.6 L281.7,343.9 L282.2,345.3 L282.7,346.6 L283.2,347.8 L283.6,348.4 Z"/></clipPath>
<path d="M271.0,348.4 L271.2,348.2 L271.7,347.1 L272.2,345.8 L272.7,344.5 L273.2,343.1 L273.7,341.8 L274.2,340.7 L274.7,339.6 L275.2,338.7 L275.7,338.0 L276.2,337.5 L276.7,337.1 L277.2,337.0 L277.7,337.1 L278.2,337.3 L278.7,337.8 L279.2,338.4 L279.7,339.2 L280.2,340.2 L280.7,341.4 L281.2,342.6 L281.7,343.9 L282.2,345.3 L282.7,346.6 L283.2,347.8 L283.6,348.4 Z" fill="#ff2200" stroke="#301010" stroke-width="0.6"/>
<path d="M234.7,348.4 L235.2,346.9 L235.7,344.3 L236.2,339.8 L236.7,332.8 L237.2,322.7 L237.7,309.3 L238.2,293.2 L238.7,275.7 L239.2,258.9 L239.7,245.5 L240.2,237.6 L240.7,236.9 L241.2,243.4 L241.7,255.9 L242.2,272.2 L242.7,289.7 L243.2,306.3 L243.7,320.2 L244.2,331.0 L244.7,338.6 L245.2,343.5 L245.7,346.5 L246.2,348.2 Z" fill="#ff2200" stroke="none"/>
<path d="M240.2,348.2 L240.7,348.1 L241.2,347.9 L241.7,347.5 L242.2,347.1 L242.7,346.5 L243.2,345.8 L243.7,345.1 L244.2,344.4 L244.7,343.8 L245.2,343.3 L245.7,343.0 L246.2,342.8 L246.7,342.6 L247.2,342.5 L247.7,342.5 L248.2,342.5 L248.7,342.4 L249.2,342.4 L249.7,342.4 L250.2,342.4 L250.7,342.4 L251.2,342.4 L251.7,342.4 L252.2,342.4 L252.7,342.4 L253.2,342.4 L253.7,342.4 L254.2,342.4 L254.7,342.4 L255.2,342.4 L255.7,342.4 L256.2,342.4 L256.7,342.4 L257.2,342.4 L257.7,342.4 L258.2,342.4 L258.7,342.4 L259.2,342.4 L259.7,342.4 L260.2,342.4 L260.7,342.4 L261.2,342.4 L261.7,342.4 L262.2,342.4 L262.7,342.4 L263.2,342.4 L263.7,342.4 L264.2,342.4 L264.7,342.4 L265.2,342.4 L265.7,342.4 L266.2,342.4 L266.7,342.4 L267.2,342.4 L267.7,342.4 L268.2,342.4 L268.7,342.5 L269.2,342.5 L269.7,342.5 L270.2,342.6 L270.7,342.6 L271.2,342.7 L271.7,342.8 L272.2,342.9 L272.7,343.1 L273.2,343.3 L273.7,343.6 L274.2,343.9 L274.7,344.2 L275.2,344.7 L275.7,345.1 L276.2,345.6 L276.7,346.0 L277.2,346.5 L277.7,346.9 L278.2,347.2 L278.7,347.5 L279.2,347.7 L279.7,347.9 L280.2,348.0 L280.7,348.1 L281.2,348.2 L281.7,348.2 L281.7,348.4 L240.2,348.4 Z" fill="url(#hatch3r)" stroke="none" clip-path="url(#hatch3c)"/>
<path d="M240.2,348.2 L240.7,348.1 L241.2,347.9 L241.7,347.5 L242.2,347.1 L242.7,346.5 L243.2,345.8 L243.7,345.1 L244.2,344.4 L244.7,343.8 L245.2,343.3 L245.7,343.0 L246.2,342.8 L246.7,342.6 L247.2,342.5 L247.7,342.5 L248.2,342.5 L248.7,342.4 L249.2,342.4 L249.7,342.4 L250.2,342.4 L250.7,342.4 L251.2,342.4 L251.7,342.4 L252.2,342.4 L252.7,342.4 L253.2,342.4 L253.7,342.4 L254.2,342.4 L254.7,342.4 L255.2,342.4 L255.7,342.4 L256.2,342.4 L256.7,342.4 L257.2,342.4 L257.7,342.4 L258.2,342.4 L258.7,342.4 L259.2,342.4 L259.7,342.4 L260.2,342.4 L260.7,342.4 L261.2,342.4 L261.7,342.4 L262.2,342.4 L262.7,342.4 L263.2,342.4 L263.7,342.4 L264.2,342.4 L264.7,342.4 L265.2,342.4 L265.7,342.4 L266.2,342.4 L266.7,342.4 L267.2,342.4 L267.7,342.4 L268.2,342.4 L268.7,342.5 L269.2,342.5 L269.7,342.5 L270.2,342.6 L270.7,342.6 L271.2,342.7 L271.7,342.8 L272.2,342.9 L272.7,343.1 L273.2,343.3 L273.7,343.6 L274.2,343.9 L274.7,344.2 L275.2,344.7 L275.7,345.1 L276.2,345.6 L276.7,346.0 L277.2,346.5 L277.7,346.9 L278.2,347.2 L278.7,347.5 L279.2,347.7 L279.7,347.9 L280.2,348.0 L280.7,348.1 L281.2,348.2 L281.7,348.2" fill="none" stroke="#3a1030" stroke-width="0.75"/>
<path d="M205.2,348.4 L205.7,348.4 L206.2,348.4 L206.7,348.4 L207.2,348.4 L207.7,348.4 L208.2,348.4 L208.7,348.4 L209.2,348.4 L209.7,348.4 L210.2,348.4 L210.7,348.4 L211.2,348.4 L211.7,348.4 L212.2,348.4 L212.7,348.4 L213.2,348.4 L213.7,348.4 L214.2,348.4 L214.7,348.4 L215.2,348.4 L215.7,348.4 L216.2,348.4 L216.7,348.4 L217.2,348.4 L217.7,348.4 L218.2,348.4 L218.7,348.4 L219.2,348.4 L219.7,348.4 L220.2,348.4 L220.7,348.4 L221.2,348.4 L221.7,348.4 L222.2,348.4 L222.7,348.4 L223.2,348.4 L223.7,348.4 L224.2,348.4 L224.7,348.4 L225.2,348.4 L225.7,348.4 L226.2,348.4 L226.7,348.4 L227.2,348.4 L227.7,348.4 L228.2,348.4 L228.7,348.4 L229.2,348.4 L229.7,348.4 L230.2,348.4 L230.7,348.4 L231.2,348.4 L231.7,348.4 L232.2,348.4 L232.7,348.4 L233.2,348.4 L233.7,348.4 L234.2,348.4 L234.7,348.4 L235.2,346.9 L235.7,344.3 L236.2,339.8 L236.7,332.8 L237.2,322.6 L237.7,309.3 L238.2,293.1 L238.7,275.6 L239.2,258.8 L239.7,245.3 L240.2,237.4 L240.7,236.5 L241.2,242.7 L241.7,254.8 L242.2,270.5 L242.7,287.0 L243.2,302.2 L243.7,314.4 L244.2,323.4 L244.7,329.7 L245.2,334.0 L245.7,337.1 L246.2,339.4 L246.7,340.4 L247.2,341.0 L247.7,341.3 L248.2,341.4 L248.7,341.5 L249.2,341.5 L249.7,341.5 L250.2,341.4 L250.7,341.4 L251.2,341.4 L251.7,341.4 L252.2,341.4 L252.7,341.4 L253.2,341.4 L253.7,341.4 L254.2,341.4 L254.7,341.4 L255.2,341.4 L255.7,341.4 L256.2,341.4 L256.7,341.4 L257.2,341.4 L257.7,341.4 L258.2,341.4 L258.7,341.4 L259.2,341.4 L259.7,341.4 L260.2,341.4 L260.7,341.4 L261.2,341.4 L261.7,341.4 L262.2,341.4 L262.7,341.4 L263.2,341.4 L263.7,341.4 L264.2,341.4 L264.7,341.4 L265.2,341.4 L265.7,341.4 L266.2,341.4 L266.7,341.4 L267.2,341.4 L267.7,341.4 L268.2,341.5 L268.7,341.5 L269.2,341.5 L269.7,341.5 L270.2,341.5 L270.7,341.5 L271.2,341.1 L271.7,339.6 L272.2,337.4 L272.7,334.6 L273.2,331.5 L273.7,328.7 L274.2,326.8 L274.7,326.3 L275.2,327.2 L275.7,329.0 L276.2,331.0 L276.7,332.7 L277.2,334.0 L277.7,335.0 L278.2,335.9 L278.7,336.7 L279.2,337.6 L279.7,338.7 L280.2,339.8 L280.7,341.0 L281.2,342.4 L281.7,343.8 L282.2,345.2 L282.7,346.5 L283.2,347.7 L283.7,348.3 L284.2,348.4 L284.7,348.4 L285.2,348.4 L285.7,348.4 L286.2,348.4 L286.7,348.4 L287.2,348.4 L287.7,348.4 L288.2,348.4 L288.7,348.4 L289.2,348.4 L289.7,348.4 L290.2,348.4 L290.7,348.4 L291.2,348.4 L291.7,348.4 L292.2,348.4 L292.7,348.4 L293.2,348.4 L293.7,348.4 L294.2,348.4 L294.7,348.4 L295.2,348.4 L295.7,348.4 L296.2,348.4 L296.7,348.4 L297.2,348.4 L297.7,348.4 L298.2,348.4 L298.7,348.4 L299.2,348.4 L299.7,348.4 L300.2,348.4 L300.7,348.4 L301.2,348.4 L301.7,348.4 L302.2,348.4 L302.7,348.4 L303.2,348.4 L303.7,348.4 L304.2,348.4 L304.7,348.4 L305.2,348.4 L305.7,348.4 L306.2,348.4 L306.7,348.4 L307.2,348.4 L307.7,348.4 L308.2,348.4 L308.7,348.4 L309.2,348.4 L309.7,348.4 L310.2,348.4 L310.7,348.4 L311.2,348.4 L311.7,348.4 L312.2,348.4 L312.7,348.4 L313.2,348.4 L313.7,348.4 L314.2,348.4 L314.7,348.4 L315.2,348.4 L315.7,348.4 L316.2,348.4 L316.7,348.4 L317.2,348.4 L317.7,348.4 L318.2,348.4 L318.7,348.4 L319.2,348.4 L319.7,348.4 L320.2,348.4 L320.7,348.4 L321.2,348.4 L321.7,348.4 L322.2,348.4 L322.7,348.4 L323.2,348.4 L323.7,348.4 L324.2,348.4 L324.7,348.4 L325.2,348.4 L325.7,348.4 L326.2,348.4 L326.7,348.4 L327.2,348.4 L327.7,348.4 L328.2,348.4 L328.7,348.4 L329.2,348.4 L329.7,348.4 L330.2,348.4 L330.7,348.4 L331.2,348.4 L331.7,348.4 L332.2,348.4 L332.7,348.4 L333.2,348.4 L333.7,348.4 L334.2,348.4 L334.7,348.4 L335.2,348.4 L335.7,348.4 L336.2,348.4 L336.7,348.4 L337.2,348.4 L337.7,348.4 L338.2,348.4 L338.7,348.4 L339.2,348.4 L339.7,348.4 L340.2,348.4 L340.7,348.4 L341.2,348.4 L341.7,348.4 L342.2,348.4 L342.7,348.4 L343.2,348.4 L343.7,348.4 L344.2,348.4 L344.7,348.4 L345.2,348.4 L345.7,348.4 L346.2,348.4 L346.7,348.4 L347.2,348.4 L347.7,348.4 L348.2,348.4 L348.7,348.4 L349.2,348.4 L349.7,348.4 L350.2,348.4 L350.7,348.4 L351.2,348.4 L351.7,348.4 L352.2,348.4 L352.7,348.4 L353.2,348.4" fill="none" stroke="#6a6a6a" stroke-width="0.8"/>
<path d="M205.2,348.4 L205.7,348.4 L206.2,348.4 L206.7,348.4 L207.2,348.4 L207.7,348.4 L208.2,348.4 L208.7,348.4 L209.2,348.4 L209.7,348.4 L210.2,348.4 L210.7,348.4 L211.2,348.4 L211.7,348.4 L212.2,348.4 L212.7,348.4 L213.2,348.4 L213.7,348.4 L214.2,348.4 L214.7,348.4 L215.2,348.4 L215.7,348.4 L216.2,348.4 L216.7,348.4 L217.2,348.4 L217.7,348.4 L218.2,348.4 L218.7,348.4 L219.2,348.4 L219.7,348.4 L220.2,348.4 L220.7,348.4 L221.2,348.4 L221.7,348.4 L222.2,348.4 L222.7,348.4 L223.2,348.4 L223.7,348.4 L224.2,348.4 L224.7,348.4 L225.2,348.4 L225.7,348.4 L226.2,348.4 L226.7,348.4 L227.2,348.4 L227.7,348.4 L228.2,348.4 L228.7,348.4 L229.2,348.4 L229.7,348.4 L230.2,348.4 L230.7,348.4 L231.2,348.4 L231.7,348.4 L232.2,348.4 L232.7,348.4 L233.2,348.4 L233.7,348.4 L234.2,348.4 L234.7,348.4 L235.2,346.9 L235.7,344.3 L236.2,339.8 L236.7,332.8 L237.2,322.7 L237.7,309.3 L238.2,293.1 L238.7,275.6 L239.2,258.8 L239.7,245.3 L240.2,237.4 L240.7,236.6 L241.2,242.8 L241.7,255.0 L242.2,270.9 L242.7,287.9 L243.2,303.7 L243.7,316.9 L244.2,327.0 L244.7,334.0 L245.2,338.5 L245.7,341.1 L246.2,342.6 L246.7,342.6 L247.2,342.5 L247.7,342.5 L248.2,342.5 L248.7,342.4 L249.2,342.4 L249.7,342.4 L250.2,342.4 L250.7,342.4 L251.2,342.4 L251.7,342.4 L252.2,342.4 L252.7,342.4 L253.2,342.4 L253.7,342.4 L254.2,342.4 L254.7,342.4 L255.2,342.4 L255.7,342.4 L256.2,342.4 L256.7,342.4 L257.2,342.4 L257.7,342.4 L258.2,342.4 L258.7,342.4 L259.2,342.4 L259.7,342.4 L260.2,342.4 L260.7,342.4 L261.2,342.4 L261.7,342.4 L262.2,342.4 L262.7,342.4 L263.2,342.4 L263.7,342.4 L264.2,342.4 L264.7,342.4 L265.2,342.4 L265.7,342.4 L266.2,342.4 L266.7,342.4 L267.2,342.4 L267.7,342.4 L268.2,342.4 L268.7,342.5 L269.2,342.5 L269.7,342.5 L270.2,342.6 L270.7,342.6 L271.2,342.4 L271.7,341.5 L272.2,340.3 L272.7,339.2 L273.2,338.0 L273.7,337.0 L274.2,336.1 L274.7,335.5 L275.2,335.0 L275.7,334.7 L276.2,334.7 L276.7,334.8 L277.2,335.1 L277.7,335.5 L278.2,336.1 L278.7,336.8 L279.2,337.7 L279.7,338.7 L280.2,339.8 L280.7,341.1 L281.2,342.4 L281.7,343.8 L282.2,345.2 L282.7,346.5 L283.2,347.7 L283.7,348.4 L284.2,348.4 L284.7,348.4 L285.2,348.4 L285.7,348.4 L286.2,348.4 L286.7,348.4 L287.2,348.4 L287.7,348.4 L288.2,348.4 L288.7,348.4 L289.2,348.4 L289.7,348.4 L290.2,348.4 L290.7,348.4 L291.2,348.4 L291.7,348.4 L292.2,348.4 L292.7,348.4 L293.2,348.4 L293.7,348.4 L294.2,348.4 L294.7,348.4 L295.2,348.4 L295.7,348.4 L296.2,348.4 L296.7,348.4 L297.2,348.4 L297.7,348.4 L298.2,348.4 L298.7,348.4 L299.2,348.4 L299.7,348.4 L300.2,348.4 L300.7,348.4 L301.2,348.4 L301.7,348.4 L302.2,348.4 L302.7,348.4 L303.2,348.4 L303.7,348.4 L304.2,348.4 L304.7,348.4 L305.2,348.4 L305.7,348.4 L306.2,348.4 L306.7,348.4 L307.2,348.4 L307.7,348.4 L308.2,348.4 L308.7,348.4 L309.2,348.4 L309.7,348.4 L310.2,348.4 L310.7,348.4 L311.2,348.4 L311.7,348.4 L312.2,348.4 L312.7,348.4 L313.2,348.4 L313.7,348.4 L314.2,348.4 L314.7,348.4 L315.2,348.4 L315.7,348.4 L316.2,348.4 L316.7,348.4 L317.2,348.4 L317.7,348.4 L318.2,348.4 L318.7,348.4 L319.2,348.4 L319.7,348.4 L320.2,348.4 L320.7,348.4 L321.2,348.4 L321.7,348.4 L322.2,348.4 L322.7,348.4 L323.2,348.4 L323.7,348.4 L324.2,348.4 L324.7,348.4 L325.2,348.4 L325.7,348.4 L326.2,348.4 L326.7,348.4 L327.2,348.4 L327.7,348.4 L328.2,348.4 L328.7,348.4 L329.2,348.4 L329.7,348.4 L330.2,348.4 L330.7,348.4 L331.2,348.4 L331.7,348.4 L332.2,348.4 L332.7,348.4 L333.2,348.4 L333.7,348.4 L334.2,348.4 L334.7,348.4 L335.2,348.4 L335.7,348.4 L336.2,348.4 L336.7,348.4 L337.2,348.4 L337.7,348.4 L338.2,348.4 L338.7,348.4 L339.2,348.4 L339.7,348.4 L340.2,348.4 L340.7,348.4 L341.2,348.4 L341.7,348.4 L342.2,348.4 L342.7,348.4 L343.2,348.4 L343.7,348.4 L344.2,348.4 L344.7,348.4 L345.2,348.4 L345.7,348.4 L346.2,348.4 L346.7,348.4 L347.2,348.4 L347.7,348.4 L348.2,348.4 L348.7,348.4 L349.2,348.4 L349.7,348.4 L350.2,348.4 L350.7,348.4 L351.2,348.4 L351.7,348.4 L352.2,348.4 L352.7,348.4 L353.2,348.4" fill="none" stroke="#000" stroke-width="1.05"/>
<line x1="204.20" y1="222.80" x2="204.20" y2="348.90" stroke="#333" stroke-width="0.9" />
<line x1="203.80" y1="348.40" x2="353.50" y2="348.40" stroke="#111" stroke-width="1.1" />
<line x1="199.40" y1="348.40" x2="204.20" y2="348.40" stroke="#444" stroke-width="0.7" />
<text transform="translate(195.60,348.40) rotate(-90)" font-size="4.5" fill="#555" text-anchor="middle" font-family="'Liberation Sans', Arial, sans-serif">0</text>
<line x1="202.00" y1="343.34" x2="204.20" y2="343.34" stroke="#444" stroke-width="0.7" />
<line x1="202.00" y1="338.28" x2="204.20" y2="338.28" stroke="#444" stroke-width="0.7" />
<line x1="202.00" y1="333.22" x2="204.20" y2="333.22" stroke="#444" stroke-width="0.7" />
<line x1="202.00" y1="328.16" x2="204.20" y2="328.16" stroke="#444" stroke-width="0.7" />
<line x1="199.40" y1="323.10" x2="204.20" y2="323.10" stroke="#444" stroke-width="0.7" />
<text transform="translate(195.60,323.10) rotate(-90)" font-size="4.5" fill="#555" text-anchor="middle" font-family="'Liberation Sans', Arial, sans-serif">300</text>
<line x1="202.00" y1="318.04" x2="204.20" y2="318.04" stroke="#444" stroke-width="0.7" />
<line x1="202.00" y1="312.98" x2="204.20" y2="312.98" stroke="#444" stroke-width="0.7" />
<line x1="202.00" y1="307.92" x2="204.20" y2="307.92" stroke="#444" stroke-width="0.7" />
<line x1="202.00" y1="302.86" x2="204.20" y2="302.86" stroke="#444" stroke-width="0.7" />
<line x1="199.40" y1="297.80" x2="204.20" y2="297.80" stroke="#444" stroke-width="0.7" />
<text transform="translate(195.60,297.80) rotate(-90)" font-size="4.5" fill="#555" text-anchor="middle" font-family="'Liberation Sans', Arial, sans-serif">600</text>
<line x1="202.00" y1="292.74" x2="204.20" y2="292.74" stroke="#444" stroke-width="0.7" />
<line x1="202.00" y1="287.68" x2="204.20" y2="287.68" stroke="#444" stroke-width="0.7" />
<line x1="202.00" y1="282.62" x2="204.20" y2="282.62" stroke="#444" stroke-width="0.7" />
<line x1="202.00" y1="277.56" x2="204.20" y2="277.56" stroke="#444" stroke-width="0.7" />
<line x1="199.40" y1="272.50" x2="204.20" y2="272.50" stroke="#444" stroke-width="0.7" />
<text transform="translate(195.60,272.50) rotate(-90)" font-size="4.5" fill="#555" text-anchor="middle" font-family="'Liberation Sans', Arial, sans-serif">900</text>
<line x1="202.00" y1="267.44" x2="204.20" y2="267.44" stroke="#444" stroke-width="0.7" />
<line x1="202.00" y1="262.38" x2="204.20" y2="262.38" stroke="#444" stroke-width="0.7" />
<line x1="202.00" y1="257.32" x2="204.20" y2="257.32" stroke="#444" stroke-width="0.7" />
<line x1="202.00" y1="252.26" x2="204.20" y2="252.26" stroke="#444" stroke-width="0.7" />
<line x1="199.40" y1="247.20" x2="204.20" y2="247.20" stroke="#444" stroke-width="0.7" />
<text transform="translate(195.60,247.20) rotate(-90)" font-size="4.5" fill="#555" text-anchor="middle" font-family="'Liberation Sans', Arial, sans-serif">1200</text>
<line x1="202.00" y1="242.14" x2="204.20" y2="242.14" stroke="#444" stroke-width="0.7" />
<line x1="202.00" y1="237.08" x2="204.20" y2="237.08" stroke="#444" stroke-width="0.7" />
<line x1="202.00" y1="232.02" x2="204.20" y2="232.02" stroke="#444" stroke-width="0.7" />
<line x1="202.00" y1="226.96" x2="204.20" y2="226.96" stroke="#444" stroke-width="0.7" />
<line x1="203.70" y1="348.40" x2="203.70" y2="351.60" stroke="#333" stroke-width="0.7" />
<text x="203.70" y="358.80" font-size="4.8" fill="#555" text-anchor="middle" font-family="'Liberation Sans', Arial, sans-serif" >0</text>
<line x1="209.70" y1="348.40" x2="209.70" y2="350.40" stroke="#333" stroke-width="0.7" />
<line x1="215.70" y1="348.40" x2="215.70" y2="350.40" stroke="#333" stroke-width="0.7" />
<line x1="221.70" y1="348.40" x2="221.70" y2="350.40" stroke="#333" stroke-width="0.7" />
<line x1="227.70" y1="348.40" x2="227.70" y2="350.40" stroke="#333" stroke-width="0.7" />
<line x1="233.70" y1="348.40" x2="233.70" y2="351.60" stroke="#333" stroke-width="0.7" />
<text x="233.70" y="358.80" font-size="4.8" fill="#555" text-anchor="middle" font-family="'Liberation Sans', Arial, sans-serif" >30</text>
<line x1="239.70" y1="348.40" x2="239.70" y2="350.40" stroke="#333" stroke-width="0.7" />
<line x1="245.70" y1="348.40" x2="245.70" y2="350.40" stroke="#333" stroke-width="0.7" />
<line x1="251.70" y1="348.40" x2="251.70" y2="350.40" stroke="#333" stroke-width="0.7" />
<line x1="257.70" y1="348.40" x2="257.70" y2="350.40" stroke="#333" stroke-width="0.7" />
<line x1="263.70" y1="348.40" x2="263.70" y2="351.60" stroke="#333" stroke-width="0.7" />
<text x="263.70" y="358.80" font-size="4.8" fill="#555" text-anchor="middle" font-family="'Liberation Sans', Arial, sans-serif" >60</text>
<line x1="269.70" y1="348.40" x2="269.70" y2="350.40" stroke="#333" stroke-width="0.7" />
<line x1="275.70" y1="348.40" x2="275.70" y2="350.40" stroke="#333" stroke-width="0.7" />
<line x1="281.70" y1="348.40" x2="281.70" y2="350.40" stroke="#333" stroke-width="0.7" />
<line x1="287.70" y1="348.40" x2="287.70" y2="350.40" stroke="#333" stroke-width="0.7" />
<line x1="293.70" y1="348.40" x2="293.70" y2="351.60" stroke="#333" stroke-width="0.7" />
<text x="293.70" y="358.80" font-size="4.8" fill="#555" text-anchor="middle" font-family="'Liberation Sans', Arial, sans-serif" >90</text>
<line x1="299.70" y1="348.40" x2="299.70" y2="350.40" stroke="#333" stroke-width="0.7" />
<line x1="305.70" y1="348.40" x2="305.70" y2="350.40" stroke="#333" stroke-width="0.7" />
<line x1="311.70" y1="348.40" x2="311.70" y2="350.40" stroke="#333" stroke-width="0.7" />
<line x1="317.70" y1="348.40" x2="317.70" y2="350.40" stroke="#333" stroke-width="0.7" />
<line x1="323.70" y1="348.40" x2="323.70" y2="351.60" stroke="#333" stroke-width="0.7" />
<text x="323.70" y="358.80" font-size="4.8" fill="#555" text-anchor="middle" font-family="'Liberation Sans', Arial, sans-serif" >120</text>
<line x1="329.70" y1="348.40" x2="329.70" y2="350.40" stroke="#333" stroke-width="0.7" />
<line x1="335.70" y1="348.40" x2="335.70" y2="350.40" stroke="#333" stroke-width="0.7" />
<line x1="341.70" y1="348.40" x2="341.70" y2="350.40" stroke="#333" stroke-width="0.7" />
<line x1="347.70" y1="348.40" x2="347.70" y2="350.40" stroke="#333" stroke-width="0.7" />
<line x1="353.70" y1="348.40" x2="353.70" y2="351.60" stroke="#333" stroke-width="0.7" />
<text x="353.70" y="358.80" font-size="4.8" fill="#555" text-anchor="middle" font-family="'Liberation Sans', Arial, sans-serif" >150</text>
<text transform="translate(191.00,286.40) rotate(-90)" font-size="4.9" fill="#555" text-anchor="middle" font-family="'Liberation Sans', Arial, sans-serif">Number</text>
<text x="278.90" y="363.20" font-size="5.2" fill="#444" text-anchor="middle" font-family="'Liberation Sans', Arial, sans-serif" textLength="42.00" lengthAdjust="spacing" >Channels (FL2-H)</text>
<path d="M237.20,352.80 L241.60,352.80 L239.40,348.90 Z" fill="#000"/>
<path d="M271.40,352.80 L275.80,352.80 L273.60,348.90 Z" fill="#000"/>
<rect x="322.00" y="209.60" width="6.00" height="3.50" fill="#ff2200" stroke="#333" stroke-width="0.7" />
<text x="330.70" y="212.50" font-size="3.9" fill="#3050ff" text-anchor="start" font-family="'Liberation Sans', Arial, sans-serif" textLength="13.00" lengthAdjust="spacing" >Dip G1</text>
<rect x="322.00" y="213.70" width="6.00" height="3.50" fill="#ff2200" stroke="#333" stroke-width="0.7" />
<text x="330.70" y="216.60" font-size="3.9" fill="#3050ff" text-anchor="start" font-family="'Liberation Sans', Arial, sans-serif" textLength="13.00" lengthAdjust="spacing" >Dip G2</text>
<rect x="322.00" y="217.80" width="6.00" height="3.50" fill="url(#hatch3)" stroke="#333" stroke-width="0.7" />
<text x="330.70" y="220.70" font-size="3.9" fill="#3050ff" text-anchor="start" font-family="'Liberation Sans', Arial, sans-serif" textLength="9.00" lengthAdjust="spacing" >Dip S</text>
<text x="226.60" y="233.00" font-size="9.9" fill="#1a1a1a" text-anchor="start" font-family="'DejaVu Sans Condensed', 'DejaVu Sans', sans-serif" textLength="26.60" lengthAdjust="spacing" >57.13</text>
<text x="260.60" y="315.60" font-size="9.9" fill="#1a1a1a" text-anchor="start" font-family="'DejaVu Sans Condensed', 'DejaVu Sans', sans-serif" textLength="26.60" lengthAdjust="spacing" >11.92</text>
<text x="244.60" y="331.60" font-size="9.9" fill="#1a1a1a" text-anchor="start" font-family="'DejaVu Sans Condensed', 'DejaVu Sans', sans-serif" textLength="27.20" lengthAdjust="spacing" >30.95</text>
<pattern id="hatch4" patternUnits="userSpaceOnUse" width="3.0" height="3.0" patternTransform="rotate(-45)"><rect width="3.0" height="3.0" fill="#fff"/><rect x="0" y="0" width="1.0" height="3.0" fill="#6a88ff"/></pattern>
<pattern id="hatch4r" patternUnits="userSpaceOnUse" width="3.0" height="3.0" patternTransform="rotate(-45)"><rect x="0" y="0" width="1.0" height="3.0" fill="#a0143c" fill-opacity="0.55"/></pattern>
<path d="M92.5,529.8 L93.0,529.8 L93.5,529.7 L94.0,529.7 L94.5,529.5 L95.0,529.4 L95.5,529.2 L96.0,529.0 L96.5,528.8 L97.0,528.5 L97.5,528.2 L98.0,527.9 L98.5,527.5 L99.0,527.2 L99.5,526.9 L100.0,526.6 L100.5,526.3 L101.0,526.1 L101.5,525.9 L102.0,525.8 L102.5,525.7 L103.0,525.6 L103.5,525.5 L104.0,525.5 L104.5,525.4 L105.0,525.4 L105.5,525.4 L106.0,525.4 L106.5,525.3 L107.0,525.3 L107.5,525.3 L108.0,525.3 L108.5,525.3 L109.0,525.3 L109.5,525.3 L110.0,525.3 L110.5,525.3 L111.0,525.3 L111.5,525.3 L112.0,525.3 L112.5,525.3 L113.0,525.3 L113.5,525.3 L114.0,525.3 L114.5,525.3 L115.0,525.3 L115.5,525.3 L116.0,525.3 L116.5,525.3 L117.0,525.3 L117.5,525.3 L118.0,525.3 L118.5,525.3 L119.0,525.3 L119.5,525.3 L120.0,525.3 L120.5,525.3 L121.0,525.3 L121.5,525.3 L122.0,525.3 L122.5,525.3 L123.0,525.3 L123.5,525.3 L124.0,525.3 L124.5,525.3 L125.0,525.3 L125.5,525.3 L126.0,525.3 L126.5,525.3 L127.0,525.3 L127.5,525.3 L128.0,525.3 L128.5,525.3 L129.0,525.3 L129.5,525.3 L130.0,525.3 L130.5,525.3 L131.0,525.3 L131.5,525.3 L132.0,525.3 L132.5,525.3 L133.0,525.3 L133.5,525.3 L134.0,525.3 L134.5,525.3 L135.0,525.3 L135.5,525.3 L136.0,525.3 L136.5,525.3 L137.0,525.3 L137.5,525.3 L138.0,525.3 L138.5,525.3 L139.0,525.3 L139.5,525.3 L140.0,525.3 L140.5,525.3 L141.0,525.4 L141.5,525.4 L142.0,525.4 L142.5,525.4 L143.0,525.4 L143.5,525.5 L144.0,525.5 L144.5,525.6 L145.0,525.6 L145.5,525.7 L146.0,525.8 L146.5,525.9 L147.0,526.0 L147.5,526.1 L148.0,526.3 L148.5,526.5 L149.0,526.7 L149.5,526.9 L150.0,527.1 L150.5,527.4 L151.0,527.7 L151.5,527.9 L152.0,528.2 L152.5,528.4 L153.0,528.6 L153.5,528.8 L154.0,529.0 L154.5,529.2 L155.0,529.3 L155.5,529.4 L156.0,529.5 L156.5,529.6 L157.0,529.7 L157.5,529.7 L158.0,529.8 L158.5,529.8 L158.5,530 L92.5,530 Z" fill="url(#hatch4)" stroke="none"/>
<clipPath id="hatch4c"><path d="M83.5,529.8 L84.0,529.2 L84.5,528.4 L85.0,527.3 L85.5,525.8 L86.0,524.0 L86.5,521.6 L87.0,518.6 L87.5,514.9 L88.0,510.6 L88.5,505.6 L89.0,499.8 L89.5,493.4 L90.0,486.6 L90.5,479.3 L91.0,471.9 L91.5,464.6 L92.0,457.7 L92.5,451.5 L93.0,446.3 L93.5,442.2 L94.0,439.5 L94.5,438.4 L95.0,438.9 L95.5,441.0 L96.0,444.5 L96.5,449.3 L97.0,455.2 L97.5,461.8 L98.0,469.0 L98.5,476.4 L99.0,483.7 L99.5,490.7 L100.0,497.3 L100.5,503.3 L101.0,508.7 L101.5,513.3 L102.0,517.2 L102.5,520.4 L103.0,523.1 L103.5,525.1 L104.0,526.8 L104.5,528.0 L105.0,528.9 L105.5,529.6 Z"/><path d="M141.7,530.0 L142.0,529.8 L142.5,529.3 L143.0,528.7 L143.5,528.1 L144.0,527.4 L144.5,526.6 L145.0,525.9 L145.5,525.2 L146.0,524.4 L146.5,523.7 L147.0,523.1 L147.5,522.4 L148.0,521.8 L148.5,521.2 L149.0,520.7 L149.5,520.2 L150.0,519.7 L150.5,519.3 L151.0,519.0 L151.5,518.7 L152.0,518.4 L152.5,518.2 L153.0,518.1 L153.5,518.0 L154.0,518.0 L154.5,518.0 L155.0,518.1 L155.5,518.2 L156.0,518.4 L156.5,518.7 L157.0,519.0 L157.5,519.3 L158.0,519.7 L158.5,520.2 L159.0,520.7 L159.5,521.2 L160.0,521.8 L160.5,522.4 L161.0,523.1 L161.5,523.7 L162.0,524.4 L162.5,525.2 L163.0,525.9 L163.5,526.6 L164.0,527.4 L164.5,528.1 L165.0,528.7 L165.5,529.3 L166.0,529.8 L166.3,530.0 Z"/></clipPath>
<path d="M141.7,530.0 L142.0,529.8 L142.5,529.3 L143.0,528.7 L143.5,528.1 L144.0,527.4 L144.5,526.6 L145.0,525.9 L145.5,525.2 L146.0,524.4 L146.5,523.7 L147.0,523.1 L147.5,522.4 L148.0,521.8 L148.5,521.2 L149.0,520.7 L149.5,520.2 L150.0,519.7 L150.5,519.3 L151.0,519.0 L151.5,518.7 L152.0,518.4 L152.5,518.2 L153.0,518.1 L153.5,518.0 L154.0,518.0 L154.5,518.0 L155.0,518.1 L155.5,518.2 L156.0,518.4 L156.5,518.7 L157.0,519.0 L157.5,519.3 L158.0,519.7 L158.5,520.2 L159.0,520.7 L159.5,521.2 L160.0,521.8 L160.5,522.4 L161.0,523.1 L161.5,523.7 L162.0,524.4 L162.5,525.2 L163.0,525.9 L163.5,526.6 L164.0,527.4 L164.5,528.1 L165.0,528.7 L165.5,529.3 L166.0,529.8 L166.3,530.0 Z" fill="#ff2200" stroke="#301010" stroke-width="0.6"/>
<path d="M83.5,529.8 L84.0,529.2 L84.5,528.4 L85.0,527.3 L85.5,525.8 L86.0,524.0 L86.5,521.6 L87.0,518.6 L87.5,514.9 L88.0,510.6 L88.5,505.6 L89.0,499.8 L89.5,493.4 L90.0,486.6 L90.5,479.3 L91.0,471.9 L91.5,464.6 L92.0,457.7 L92.5,451.5 L93.0,446.3 L93.5,442.2 L94.0,439.5 L94.5,438.4 L95.0,438.9 L95.5,441.0 L96.0,444.5 L96.5,449.3 L97.0,455.2 L97.5,461.8 L98.0,469.0 L98.5,476.4 L99.0,483.7 L99.5,490.7 L100.0,497.3 L100.5,503.3 L101.0,508.7 L101.5,513.3 L102.0,517.2 L102.5,520.4 L103.0,523.1 L103.5,525.1 L104.0,526.8 L104.5,528.0 L105.0,528.9 L105.5,529.6 Z" fill="#ff2200" stroke="none"/>
<path d="M92.5,529.8 L93.0,529.8 L93.5,529.7 L94.0,529.7 L94.5,529.5 L95.0,529.4 L95.5,529.2 L96.0,529.0 L96.5,528.8 L97.0,528.5 L97.5,528.2 L98.0,527.9 L98.5,527.5 L99.0,527.2 L99.5,526.9 L100.0,526.6 L100.5,526.3 L101.0,526.1 L101.5,525.9 L102.0,525.8 L102.5,525.7 L103.0,525.6 L103.5,525.5 L104.0,525.5 L104.5,525.4 L105.0,525.4 L105.5,525.4 L106.0,525.4 L106.5,525.3 L107.0,525.3 L107.5,525.3 L108.0,525.3 L108.5,525.3 L109.0,525.3 L109.5,525.3 L110.0,525.3 L110.5,525.3 L111.0,525.3 L111.5,525.3 L112.0,525.3 L112.5,525.3 L113.0,525.3 L113.5,525.3 L114.0,525.3 L114.5,525.3 L115.0,525.3 L115.5,525.3 L116.0,525.3 L116.5,525.3 L117.0,525.3 L117.5,525.3 L118.0,525.3 L118.5,525.3 L119.0,525.3 L119.5,525.3 L120.0,525.3 L120.5,525.3 L121.0,525.3 L121.5,525.3 L122.0,525.3 L122.5,525.3 L123.0,525.3 L123.5,525.3 L124.0,525.3 L124.5,525.3 L125.0,525.3 L125.5,525.3 L126.0,525.3 L126.5,525.3 L127.0,525.3 L127.5,525.3 L128.0,525.3 L128.5,525.3 L129.0,525.3 L129.5,525.3 L130.0,525.3 L130.5,525.3 L131.0,525.3 L131.5,525.3 L132.0,525.3 L132.5,525.3 L133.0,525.3 L133.5,525.3 L134.0,525.3 L134.5,525.3 L135.0,525.3 L135.5,525.3 L136.0,525.3 L136.5,525.3 L137.0,525.3 L137.5,525.3 L138.0,525.3 L138.5,525.3 L139.0,525.3 L139.5,525.3 L140.0,525.3 L140.5,525.3 L141.0,525.4 L141.5,525.4 L142.0,525.4 L142.5,525.4 L143.0,525.4 L143.5,525.5 L144.0,525.5 L144.5,525.6 L145.0,525.6 L145.5,525.7 L146.0,525.8 L146.5,525.9 L147.0,526.0 L147.5,526.1 L148.0,526.3 L148.5,526.5 L149.0,526.7 L149.5,526.9 L150.0,527.1 L150.5,527.4 L151.0,527.7 L151.5,527.9 L152.0,528.2 L152.5,528.4 L153.0,528.6 L153.5,528.8 L154.0,529.0 L154.5,529.2 L155.0,529.3 L155.5,529.4 L156.0,529.5 L156.5,529.6 L157.0,529.7 L157.5,529.7 L158.0,529.8 L158.5,529.8 L158.5,530 L92.5,530 Z" fill="url(#hatch4r)" stroke="none" clip-path="url(#hatch4c)"/>
<path d="M92.5,529.8 L93.0,529.8 L93.5,529.7 L94.0,529.7 L94.5,529.5 L95.0,529.4 L95.5,529.2 L96.0,529.0 L96.5,528.8 L97.0,528.5 L97.5,528.2 L98.0,527.9 L98.5,527.5 L99.0,527.2 L99.5,526.9 L100.0,526.6 L100.5,526.3 L101.0,526.1 L101.5,525.9 L102.0,525.8 L102.5,525.7 L103.0,525.6 L103.5,525.5 L104.0,525.5 L104.5,525.4 L105.0,525.4 L105.5,525.4 L106.0,525.4 L106.5,525.3 L107.0,525.3 L107.5,525.3 L108.0,525.3 L108.5,525.3 L109.0,525.3 L109.5,525.3 L110.0,525.3 L110.5,525.3 L111.0,525.3 L111.5,525.3 L112.0,525.3 L112.5,525.3 L113.0,525.3 L113.5,525.3 L114.0,525.3 L114.5,525.3 L115.0,525.3 L115.5,525.3 L116.0,525.3 L116.5,525.3 L117.0,525.3 L117.5,525.3 L118.0,525.3 L118.5,525.3 L119.0,525.3 L119.5,525.3 L120.0,525.3 L120.5,525.3 L121.0,525.3 L121.5,525.3 L122.0,525.3 L122.5,525.3 L123.0,525.3 L123.5,525.3 L124.0,525.3 L124.5,525.3 L125.0,525.3 L125.5,525.3 L126.0,525.3 L126.5,525.3 L127.0,525.3 L127.5,525.3 L128.0,525.3 L128.5,525.3 L129.0,525.3 L129.5,525.3 L130.0,525.3 L130.5,525.3 L131.0,525.3 L131.5,525.3 L132.0,525.3 L132.5,525.3 L133.0,525.3 L133.5,525.3 L134.0,525.3 L134.5,525.3 L135.0,525.3 L135.5,525.3 L136.0,525.3 L136.5,525.3 L137.0,525.3 L137.5,525.3 L138.0,525.3 L138.5,525.3 L139.0,525.3 L139.5,525.3 L140.0,525.3 L140.5,525.3 L141.0,525.4 L141.5,525.4 L142.0,525.4 L142.5,525.4 L143.0,525.4 L143.5,525.5 L144.0,525.5 L144.5,525.6 L145.0,525.6 L145.5,525.7 L146.0,525.8 L146.5,525.9 L147.0,526.0 L147.5,526.1 L148.0,526.3 L148.5,526.5 L149.0,526.7 L149.5,526.9 L150.0,527.1 L150.5,527.4 L151.0,527.7 L151.5,527.9 L152.0,528.2 L152.5,528.4 L153.0,528.6 L153.5,528.8 L154.0,529.0 L154.5,529.2 L155.0,529.3 L155.5,529.4 L156.0,529.5 L156.5,529.6 L157.0,529.7 L157.5,529.7 L158.0,529.8 L158.5,529.8" fill="none" stroke="#3a1030" stroke-width="0.75"/>
<path d="M27.0,530.0 L27.5,530.0 L28.0,530.0 L28.5,530.0 L29.0,530.0 L29.5,530.0 L30.0,530.0 L30.5,530.0 L31.0,530.0 L31.5,530.0 L32.0,530.0 L32.5,530.0 L33.0,530.0 L33.5,530.0 L34.0,530.0 L34.5,530.0 L35.0,530.0 L35.5,530.0 L36.0,530.0 L36.5,530.0 L37.0,530.0 L37.5,530.0 L38.0,530.0 L38.5,530.0 L39.0,530.0 L39.5,530.0 L40.0,530.0 L40.5,530.0 L41.0,530.0 L41.5,530.0 L42.0,530.0 L42.5,530.0 L43.0,530.0 L43.5,530.0 L44.0,530.0 L44.5,530.0 L45.0,530.0 L45.5,530.0 L46.0,530.0 L46.5,530.0 L47.0,530.0 L47.5,530.0 L48.0,530.0 L48.5,530.0 L49.0,530.0 L49.5,530.0 L50.0,530.0 L50.5,530.0 L51.0,530.0 L51.5,530.0 L52.0,530.0 L52.5,530.0 L53.0,530.0 L53.5,530.0 L54.0,530.0 L54.5,530.0 L55.0,530.0 L55.5,530.0 L56.0,530.0 L56.5,530.0 L57.0,530.0 L57.5,530.0 L58.0,530.0 L58.5,530.0 L59.0,530.0 L59.5,530.0 L60.0,530.0 L60.5,530.0 L61.0,530.0 L61.5,530.0 L62.0,530.0 L62.5,530.0 L63.0,530.0 L63.5,530.0 L64.0,530.0 L64.5,530.0 L65.0,530.0 L65.5,530.0 L66.0,530.0 L66.5,530.0 L67.0,530.0 L67.5,530.0 L68.0,530.0 L68.5,530.0 L69.0,530.0 L69.5,530.0 L70.0,530.0 L70.5,530.0 L71.0,530.0 L71.5,530.0 L72.0,530.0 L72.5,530.0 L73.0,530.0 L73.5,530.0 L74.0,530.0 L74.5,530.0 L75.0,530.0 L75.5,530.0 L76.0,530.0 L76.5,530.0 L77.0,530.0 L77.5,530.0 L78.0,530.0 L78.5,530.0 L79.0,530.0 L79.5,530.0 L80.0,530.0 L80.5,530.0 L81.0,530.0 L81.5,530.0 L82.0,530.0 L82.5,530.0 L83.0,530.0 L83.5,529.8 L84.0,529.2 L84.5,528.4 L85.0,527.3 L85.5,525.8 L86.0,523.9 L86.5,521.5 L87.0,518.6 L87.5,514.9 L88.0,510.6 L88.5,505.5 L89.0,499.8 L89.5,493.4 L90.0,486.5 L90.5,479.3 L91.0,471.9 L91.5,464.5 L92.0,457.4 L92.5,450.4 L93.0,443.0 L93.5,434.8 L94.0,427.2 L94.5,423.1 L95.0,424.7 L95.5,431.1 L96.0,439.0 L96.5,446.5 L97.0,453.2 L97.5,459.9 L98.0,466.8 L98.5,473.8 L99.0,480.8 L99.5,487.5 L100.0,493.8 L100.5,499.5 L101.0,504.5 L101.5,508.9 L102.0,512.6 L102.5,515.6 L103.0,518.0 L103.5,520.0 L104.0,521.4 L104.5,522.5 L105.0,523.4 L105.5,524.0 L106.0,524.3 L106.5,524.2 L107.0,524.2 L107.5,524.2 L108.0,524.2 L108.5,524.1 L109.0,524.1 L109.5,524.1 L110.0,524.1 L110.5,524.1 L111.0,524.1 L111.5,524.1 L112.0,524.1 L112.5,524.1 L113.0,524.1 L113.5,524.1 L114.0,524.1 L114.5,524.1 L115.0,524.1 L115.5,524.1 L116.0,524.1 L116.5,524.1 L117.0,524.1 L117.5,524.1 L118.0,524.1 L118.5,524.1 L119.0,524.1 L119.5,524.1 L120.0,524.1 L120.5,524.1 L121.0,524.1 L121.5,524.1 L122.0,524.1 L122.5,524.1 L123.0,524.1 L123.5,524.1 L124.0,524.1 L124.5,524.1 L125.0,524.1 L125.5,524.1 L126.0,524.1 L126.5,524.1 L127.0,524.1 L127.5,524.1 L128.0,524.1 L128.5,524.1 L129.0,524.1 L129.5,524.1 L130.0,524.1 L130.5,524.1 L131.0,524.1 L131.5,524.1 L132.0,524.1 L132.5,524.1 L133.0,524.1 L133.5,524.1 L134.0,524.1 L134.5,524.1 L135.0,524.1 L135.5,524.1 L136.0,524.1 L136.5,524.1 L137.0,524.1 L137.5,524.1 L138.0,524.1 L138.5,524.1 L139.0,524.1 L139.5,524.1 L140.0,524.1 L140.5,524.1 L141.0,524.2 L141.5,524.2 L142.0,524.0 L142.5,523.6 L143.0,523.0 L143.5,522.3 L144.0,521.7 L144.5,521.0 L145.0,520.3 L145.5,519.7 L146.0,519.1 L146.5,518.5 L147.0,517.9 L147.5,517.4 L148.0,517.0 L148.5,516.6 L149.0,516.3 L149.5,516.0 L150.0,515.8 L150.5,515.7 L151.0,515.5 L151.5,515.4 L152.0,515.3 L152.5,515.1 L153.0,515.0 L153.5,514.9 L154.0,514.7 L154.5,514.5 L155.0,514.4 L155.5,514.2 L156.0,514.0 L156.5,513.9 L157.0,513.8 L157.5,513.7 L158.0,513.7 L158.5,513.7 L159.0,513.9 L159.5,514.0 L160.0,514.3 L160.5,514.7 L161.0,515.2 L161.5,515.7 L162.0,516.4 L162.5,517.2 L163.0,518.0 L163.5,519.0 L164.0,520.0 L164.5,521.0 L165.0,522.0 L165.5,523.1 L166.0,524.0 L166.5,524.7 L167.0,525.1 L167.5,525.6 L168.0,526.1 L168.5,526.6 L169.0,527.0 L169.5,527.4 L170.0,527.8 L170.5,528.1 L171.0,528.4 L171.5,528.7 L172.0,528.9 L172.5,529.1 L173.0,529.3 L173.5,529.4 L174.0,529.6 L174.5,529.6 L175.0,529.7 L175.5,529.8 L176.0,529.8 L176.5,529.9 L177.0,529.9 L177.5,529.9 L178.0,530.0 L178.5,530.0 L179.0,530.0" fill="none" stroke="#6a6a6a" stroke-width="0.8"/>
<path d="M27.0,530.0 L27.5,530.0 L28.0,530.0 L28.5,530.0 L29.0,530.0 L29.5,530.0 L30.0,530.0 L30.5,530.0 L31.0,530.0 L31.5,530.0 L32.0,530.0 L32.5,530.0 L33.0,530.0 L33.5,530.0 L34.0,530.0 L34.5,530.0 L35.0,530.0 L35.5,530.0 L36.0,530.0 L36.5,530.0 L37.0,530.0 L37.5,530.0 L38.0,530.0 L38.5,530.0 L39.0,530.0 L39.5,530.0 L40.0,530.0 L40.5,530.0 L41.0,530.0 L41.5,530.0 L42.0,530.0 L42.5,530.0 L43.0,530.0 L43.5,530.0 L44.0,530.0 L44.5,530.0 L45.0,530.0 L45.5,530.0 L46.0,530.0 L46.5,530.0 L47.0,530.0 L47.5,530.0 L48.0,530.0 L48.5,530.0 L49.0,530.0 L49.5,530.0 L50.0,530.0 L50.5,530.0 L51.0,530.0 L51.5,530.0 L52.0,530.0 L52.5,530.0 L53.0,530.0 L53.5,530.0 L54.0,530.0 L54.5,530.0 L55.0,530.0 L55.5,530.0 L56.0,530.0 L56.5,530.0 L57.0,530.0 L57.5,530.0 L58.0,530.0 L58.5,530.0 L59.0,530.0 L59.5,530.0 L60.0,530.0 L60.5,530.0 L61.0,530.0 L61.5,530.0 L62.0,530.0 L62.5,530.0 L63.0,530.0 L63.5,530.0 L64.0,530.0 L64.5,530.0 L65.0,530.0 L65.5,530.0 L66.0,530.0 L66.5,530.0 L67.0,530.0 L67.5,530.0 L68.0,530.0 L68.5,530.0 L69.0,530.0 L69.5,530.0 L70.0,530.0 L70.5,530.0 L71.0,530.0 L71.5,530.0 L72.0,530.0 L72.5,530.0 L73.0,530.0 L73.5,530.0 L74.0,530.0 L74.5,530.0 L75.0,530.0 L75.5,530.0 L76.0,530.0 L76.5,530.0 L77.0,530.0 L77.5,530.0 L78.0,530.0 L78.5,530.0 L79.0,530.0 L79.5,530.0 L80.0,530.0 L80.5,530.0 L81.0,530.0 L81.5,530.0 L82.0,530.0 L82.5,530.0 L83.0,530.0 L83.5,529.8 L84.0,529.2 L84.5,528.4 L85.0,527.3 L85.5,525.8 L86.0,523.9 L86.5,521.5 L87.0,518.6 L87.5,514.9 L88.0,510.6 L88.5,505.5 L89.0,499.8 L89.5,493.4 L90.0,486.5 L90.5,479.3 L91.0,471.9 L91.5,464.6 L92.0,457.6 L92.5,451.4 L93.0,446.1 L93.5,441.9 L94.0,439.2 L94.5,438.0 L95.0,438.3 L95.5,440.2 L96.0,443.5 L96.5,448.1 L97.0,453.7 L97.5,460.0 L98.0,466.8 L98.5,473.9 L99.0,480.9 L99.5,487.6 L100.0,493.9 L100.5,499.6 L101.0,504.8 L101.5,509.2 L102.0,513.0 L102.5,516.1 L103.0,518.6 L103.5,520.7 L104.0,522.2 L104.5,523.4 L105.0,524.3 L105.5,525.0 L106.0,525.4 L106.5,525.3 L107.0,525.3 L107.5,525.3 L108.0,525.3 L108.5,525.3 L109.0,525.3 L109.5,525.3 L110.0,525.3 L110.5,525.3 L111.0,525.3 L111.5,525.3 L112.0,525.3 L112.5,525.3 L113.0,525.3 L113.5,525.3 L114.0,525.3 L114.5,525.3 L115.0,525.3 L115.5,525.3 L116.0,525.3 L116.5,525.3 L117.0,525.3 L117.5,525.3 L118.0,525.3 L118.5,525.3 L119.0,525.3 L119.5,525.3 L120.0,525.3 L120.5,525.3 L121.0,525.3 L121.5,525.3 L122.0,525.3 L122.5,525.3 L123.0,525.3 L123.5,525.3 L124.0,525.3 L124.5,525.3 L125.0,525.3 L125.5,525.3 L126.0,525.3 L126.5,525.3 L127.0,525.3 L127.5,525.3 L128.0,525.3 L128.5,525.3 L129.0,525.3 L129.5,525.3 L130.0,525.3 L130.5,525.3 L131.0,525.3 L131.5,525.3 L132.0,525.3 L132.5,525.3 L133.0,525.3 L133.5,525.3 L134.0,525.3 L134.5,525.3 L135.0,525.3 L135.5,525.3 L136.0,525.3 L136.5,525.3 L137.0,525.3 L137.5,525.3 L138.0,525.3 L138.5,525.3 L139.0,525.3 L139.5,525.3 L140.0,525.3 L140.5,525.3 L141.0,525.4 L141.5,525.4 L142.0,525.2 L142.5,524.8 L143.0,524.2 L143.5,523.5 L144.0,522.9 L144.5,522.2 L145.0,521.5 L145.5,520.9 L146.0,520.2 L146.5,519.6 L147.0,519.1 L147.5,518.6 L148.0,518.1 L148.5,517.7 L149.0,517.4 L149.5,517.1 L150.0,516.9 L150.5,516.7 L151.0,516.6 L151.5,516.6 L152.0,516.6 L152.5,516.6 L153.0,516.7 L153.5,516.8 L154.0,517.0 L154.5,517.2 L155.0,517.4 L155.5,517.7 L156.0,518.0 L156.5,518.3 L157.0,518.7 L157.5,519.1 L158.0,519.5 L158.5,520.0 L159.0,520.5 L159.5,521.1 L160.0,521.7 L160.5,522.3 L161.0,523.0 L161.5,523.7 L162.0,524.4 L162.5,525.1 L163.0,525.9 L163.5,526.6 L164.0,527.3 L164.5,528.1 L165.0,528.7 L165.5,529.3 L166.0,529.8 L166.5,530.0 L167.0,530.0 L167.5,530.0 L168.0,530.0 L168.5,530.0 L169.0,530.0 L169.5,530.0 L170.0,530.0 L170.5,530.0 L171.0,530.0 L171.5,530.0 L172.0,530.0 L172.5,530.0 L173.0,530.0 L173.5,530.0 L174.0,530.0 L174.5,530.0 L175.0,530.0 L175.5,530.0 L176.0,530.0 L176.5,530.0 L177.0,530.0 L177.5,530.0 L178.0,530.0 L178.5,530.0 L179.0,530.0" fill="none" stroke="#000" stroke-width="1.05"/>
<line x1="26.00" y1="406.10" x2="26.00" y2="530.50" stroke="#333" stroke-width="0.9" />
<line x1="25.60" y1="530.00" x2="179.00" y2="530.00" stroke="#111" stroke-width="1.1" />
<line x1="21.20" y1="530.00" x2="26.00" y2="530.00" stroke="#444" stroke-width="0.7" />
<text transform="translate(17.40,530.00) rotate(-90)" font-size="4.5" fill="#555" text-anchor="middle" font-family="'Liberation Sans', Arial, sans-serif">0</text>
<line x1="23.80" y1="525.06" x2="26.00" y2="525.06" stroke="#444" stroke-width="0.7" />
<line x1="23.80" y1="520.12" x2="26.00" y2="520.12" stroke="#444" stroke-width="0.7" />
<line x1="23.80" y1="515.18" x2="26.00" y2="515.18" stroke="#444" stroke-width="0.7" />
<line x1="23.80" y1="510.24" x2="26.00" y2="510.24" stroke="#444" stroke-width="0.7" />
<line x1="21.20" y1="505.30" x2="26.00" y2="505.30" stroke="#444" stroke-width="0.7" />
<text transform="translate(17.40,505.30) rotate(-90)" font-size="4.5" fill="#555" text-anchor="middle" font-family="'Liberation Sans', Arial, sans-serif">200</text>
<line x1="23.80" y1="500.36" x2="26.00" y2="500.36" stroke="#444" stroke-width="0.7" />
<line x1="23.80" y1="495.42" x2="26.00" y2="495.42" stroke="#444" stroke-width="0.7" />
<line x1="23.80" y1="490.48" x2="26.00" y2="490.48" stroke="#444" stroke-width="0.7" />
<line x1="23.80" y1="485.54" x2="26.00" y2="485.54" stroke="#444" stroke-width="0.7" />
<line x1="21.20" y1="480.60" x2="26.00" y2="480.60" stroke="#444" stroke-width="0.7" />
<text transform="translate(17.40,480.60) rotate(-90)" font-size="4.5" fill="#555" text-anchor="middle" font-family="'Liberation Sans', Arial, sans-serif">400</text>
<line x1="23.80" y1="475.66" x2="26.00" y2="475.66" stroke="#444" stroke-width="0.7" />
<line x1="23.80" y1="470.72" x2="26.00" y2="470.72" stroke="#444" stroke-width="0.7" />
<line x1="23.80" y1="465.78" x2="26.00" y2="465.78" stroke="#444" stroke-width="0.7" />
<line x1="23.80" y1="460.84" x2="26.00" y2="460.84" stroke="#444" stroke-width="0.7" />
<line x1="21.20" y1="455.90" x2="26.00" y2="455.90" stroke="#444" stroke-width="0.7" />
<text transform="translate(17.40,455.90) rotate(-90)" font-size="4.5" fill="#555" text-anchor="middle" font-family="'Liberation Sans', Arial, sans-serif">600</text>
<line x1="23.80" y1="450.96" x2="26.00" y2="450.96" stroke="#444" stroke-width="0.7" />
<line x1="23.80" y1="446.02" x2="26.00" y2="446.02" stroke="#444" stroke-width="0.7" />
<line x1="23.80" y1="441.08" x2="26.00" y2="441.08" stroke="#444" stroke-width="0.7" />
<line x1="23.80" y1="436.14" x2="26.00" y2="436.14" stroke="#444" stroke-width="0.7" />
<line x1="21.20" y1="431.20" x2="26.00" y2="431.20" stroke="#444" stroke-width="0.7" />
<text transform="translate(17.40,431.20) rotate(-90)" font-size="4.5" fill="#555" text-anchor="middle" font-family="'Liberation Sans', Arial, sans-serif">800</text>
<line x1="23.80" y1="426.26" x2="26.00" y2="426.26" stroke="#444" stroke-width="0.7" />
<line x1="23.80" y1="421.32" x2="26.00" y2="421.32" stroke="#444" stroke-width="0.7" />
<line x1="23.80" y1="416.38" x2="26.00" y2="416.38" stroke="#444" stroke-width="0.7" />
<line x1="23.80" y1="411.44" x2="26.00" y2="411.44" stroke="#444" stroke-width="0.7" />
<line x1="21.20" y1="406.50" x2="26.00" y2="406.50" stroke="#444" stroke-width="0.7" />
<line x1="25.00" y1="530.00" x2="25.00" y2="533.20" stroke="#333" stroke-width="0.7" />
<text x="25.00" y="540.40" font-size="4.8" fill="#555" text-anchor="middle" font-family="'Liberation Sans', Arial, sans-serif" >0</text>
<line x1="31.40" y1="530.00" x2="31.40" y2="532.00" stroke="#333" stroke-width="0.7" />
<line x1="37.80" y1="530.00" x2="37.80" y2="532.00" stroke="#333" stroke-width="0.7" />
<line x1="44.21" y1="530.00" x2="44.21" y2="532.00" stroke="#333" stroke-width="0.7" />
<line x1="50.61" y1="530.00" x2="50.61" y2="532.00" stroke="#333" stroke-width="0.7" />
<line x1="57.01" y1="530.00" x2="57.01" y2="533.20" stroke="#333" stroke-width="0.7" />
<text x="57.01" y="540.40" font-size="4.8" fill="#555" text-anchor="middle" font-family="'Liberation Sans', Arial, sans-serif" >30</text>
<line x1="63.41" y1="530.00" x2="63.41" y2="532.00" stroke="#333" stroke-width="0.7" />
<line x1="69.81" y1="530.00" x2="69.81" y2="532.00" stroke="#333" stroke-width="0.7" />
<line x1="76.22" y1="530.00" x2="76.22" y2="532.00" stroke="#333" stroke-width="0.7" />
<line x1="82.62" y1="530.00" x2="82.62" y2="532.00" stroke="#333" stroke-width="0.7" />
<line x1="89.02" y1="530.00" x2="89.02" y2="533.20" stroke="#333" stroke-width="0.7" />
<text x="89.02" y="540.40" font-size="4.8" fill="#555" text-anchor="middle" font-family="'Liberation Sans', Arial, sans-serif" >60</text>
<line x1="95.42" y1="530.00" x2="95.42" y2="532.00" stroke="#333" stroke-width="0.7" />
<line x1="101.82" y1="530.00" x2="101.82" y2="532.00" stroke="#333" stroke-width="0.7" />
<line x1="108.23" y1="530.00" x2="108.23" y2="532.00" stroke="#333" stroke-width="0.7" />
<line x1="114.63" y1="530.00" x2="114.63" y2="532.00" stroke="#333" stroke-width="0.7" />
<line x1="121.03" y1="530.00" x2="121.03" y2="533.20" stroke="#333" stroke-width="0.7" />
<text x="121.03" y="540.40" font-size="4.8" fill="#555" text-anchor="middle" font-family="'Liberation Sans', Arial, sans-serif" >90</text>
<line x1="127.43" y1="530.00" x2="127.43" y2="532.00" stroke="#333" stroke-width="0.7" />
<line x1="133.83" y1="530.00" x2="133.83" y2="532.00" stroke="#333" stroke-width="0.7" />
<line x1="140.24" y1="530.00" x2="140.24" y2="532.00" stroke="#333" stroke-width="0.7" />
<line x1="146.64" y1="530.00" x2="146.64" y2="532.00" stroke="#333" stroke-width="0.7" />
<line x1="153.04" y1="530.00" x2="153.04" y2="533.20" stroke="#333" stroke-width="0.7" />
<text x="153.04" y="540.40" font-size="4.8" fill="#555" text-anchor="middle" font-family="'Liberation Sans', Arial, sans-serif" >120</text>
<line x1="159.44" y1="530.00" x2="159.44" y2="532.00" stroke="#333" stroke-width="0.7" />
<line x1="165.84" y1="530.00" x2="165.84" y2="532.00" stroke="#333" stroke-width="0.7" />
<line x1="172.25" y1="530.00" x2="172.25" y2="532.00" stroke="#333" stroke-width="0.7" />
<line x1="178.65" y1="530.00" x2="178.65" y2="532.00" stroke="#333" stroke-width="0.7" />
<text transform="translate(12.80,468.85) rotate(-90)" font-size="4.9" fill="#555" text-anchor="middle" font-family="'Liberation Sans', Arial, sans-serif">Number</text>
<text x="105.00" y="544.80" font-size="5.2" fill="#444" text-anchor="middle" font-family="'Liberation Sans', Arial, sans-serif" textLength="42.00" lengthAdjust="spacing" >Channels (FL2-H)</text>
<path d="M92.20,534.40 L96.60,534.40 L94.40,530.50 Z" fill="#000"/>
<path d="M155.80,534.40 L160.20,534.40 L158.00,530.50 Z" fill="#000"/>
<rect x="151.00" y="393.30" width="6.00" height="3.50" fill="#ff2200" stroke="#333" stroke-width="0.7" />
<text x="159.70" y="396.20" font-size="3.9" fill="#3050ff" text-anchor="start" font-family="'Liberation Sans', Arial, sans-serif" textLength="13.00" lengthAdjust="spacing" >Dip G1</text>
<rect x="151.00" y="397.40" width="6.00" height="3.50" fill="#ff2200" stroke="#333" stroke-width="0.7" />
<text x="159.70" y="400.30" font-size="3.9" fill="#3050ff" text-anchor="start" font-family="'Liberation Sans', Arial, sans-serif" textLength="13.00" lengthAdjust="spacing" >Dip G2</text>
<rect x="151.00" y="401.50" width="6.00" height="3.50" fill="url(#hatch4)" stroke="#333" stroke-width="0.7" />
<text x="159.70" y="404.40" font-size="3.9" fill="#3050ff" text-anchor="start" font-family="'Liberation Sans', Arial, sans-serif" textLength="9.00" lengthAdjust="spacing" >Dip S</text>
<text x="81.20" y="419.20" font-size="9.9" fill="#1a1a1a" text-anchor="start" font-family="'DejaVu Sans Condensed', 'DejaVu Sans', sans-serif" textLength="27.40" lengthAdjust="spacing" >60.78</text>
<text x="138.60" y="507.00" font-size="9.9" fill="#1a1a1a" text-anchor="start" font-family="'DejaVu Sans Condensed', 'DejaVu Sans', sans-serif" textLength="26.60" lengthAdjust="spacing" >15.88</text>
<text x="111.20" y="520.00" font-size="9.9" fill="#1a1a1a" text-anchor="start" font-family="'DejaVu Sans Condensed', 'DejaVu Sans', sans-serif" textLength="27.00" lengthAdjust="spacing" >23.34</text>
<pattern id="hatch5" patternUnits="userSpaceOnUse" width="3.0" height="3.0" patternTransform="rotate(-45)"><rect width="3.0" height="3.0" fill="#fff"/><rect x="0" y="0" width="1.0" height="3.0" fill="#6a88ff"/></pattern>
<pattern id="hatch5r" patternUnits="userSpaceOnUse" width="3.0" height="3.0" patternTransform="rotate(-45)"><rect x="0" y="0" width="1.0" height="3.0" fill="#a0143c" fill-opacity="0.55"/></pattern>
<path d="M257.3,531.5 L257.8,531.5 L258.3,531.4 L258.8,531.3 L259.3,531.2 L259.8,531.1 L260.3,530.9 L260.8,530.7 L261.3,530.5 L261.8,530.3 L262.3,530.0 L262.8,529.6 L263.3,529.2 L263.8,528.8 L264.3,528.4 L264.8,527.9 L265.3,527.5 L265.8,527.1 L266.3,526.7 L266.8,526.4 L267.3,526.1 L267.8,525.8 L268.3,525.6 L268.8,525.4 L269.3,525.3 L269.8,525.2 L270.3,525.1 L270.8,525.0 L271.3,524.9 L271.8,524.9 L272.3,524.8 L272.8,524.8 L273.3,524.8 L273.8,524.8 L274.3,524.8 L274.8,524.7 L275.3,524.7 L275.8,524.7 L276.3,524.7 L276.8,524.7 L277.3,524.7 L277.8,524.7 L278.3,524.7 L278.8,524.7 L279.3,524.7 L279.8,524.7 L280.3,524.7 L280.8,524.7 L281.3,524.7 L281.8,524.7 L282.3,524.7 L282.8,524.7 L283.3,524.7 L283.8,524.7 L284.3,524.7 L284.8,524.7 L285.3,524.7 L285.8,524.7 L286.3,524.7 L286.8,524.7 L287.3,524.7 L287.8,524.7 L288.3,524.7 L288.8,524.7 L289.3,524.7 L289.8,524.7 L290.3,524.7 L290.8,524.7 L291.3,524.7 L291.8,524.7 L292.3,524.7 L292.8,524.7 L293.3,524.7 L293.8,524.7 L294.3,524.7 L294.8,524.7 L295.3,524.7 L295.8,524.7 L296.3,524.7 L296.8,524.7 L297.3,524.7 L297.8,524.7 L298.3,524.7 L298.8,524.7 L299.3,524.8 L299.8,524.8 L300.3,524.8 L300.8,524.8 L301.3,524.8 L301.8,524.9 L302.3,524.9 L302.8,525.0 L303.3,525.1 L303.8,525.2 L304.3,525.3 L304.8,525.5 L305.3,525.7 L305.8,525.9 L306.3,526.1 L306.8,526.4 L307.3,526.8 L307.8,527.2 L308.3,527.6 L308.8,528.0 L309.3,528.5 L309.8,528.9 L310.3,529.3 L310.8,529.7 L311.3,530.0 L311.8,530.3 L312.3,530.6 L312.8,530.8 L313.3,531.0 L313.8,531.1 L314.3,531.2 L314.8,531.3 L315.3,531.4 L315.8,531.5 L316.3,531.5 L316.3,531.7 L257.3,531.7 Z" fill="url(#hatch5)" stroke="none"/>
<clipPath id="hatch5c"><path d="M249.3,531.7 L249.8,531.3 L250.3,530.6 L250.8,529.6 L251.3,528.4 L251.8,526.7 L252.3,524.6 L252.8,521.9 L253.3,518.6 L253.8,514.5 L254.3,509.8 L254.8,504.3 L255.3,498.2 L255.8,491.4 L256.3,484.2 L256.8,476.7 L257.3,469.1 L257.8,461.7 L258.3,454.9 L258.8,448.9 L259.3,443.9 L259.8,440.3 L260.3,438.2 L260.8,437.7 L261.3,438.9 L261.8,441.6 L262.3,445.8 L262.8,451.2 L263.3,457.6 L263.8,464.6 L264.3,472.1 L264.8,479.7 L265.3,487.1 L265.8,494.2 L266.3,500.7 L266.8,506.6 L267.3,511.8 L267.8,516.2 L268.3,520.0 L268.8,523.0 L269.3,525.5 L269.8,527.4 L270.3,528.9 L270.8,530.1 L271.3,530.9 L271.8,531.5 Z"/><path d="M296.3,531.7 L296.3,531.7 L296.8,531.3 L297.3,530.7 L297.8,530.0 L298.3,529.2 L298.8,528.4 L299.3,527.6 L299.8,526.8 L300.3,525.9 L300.8,525.1 L301.3,524.3 L301.8,523.5 L302.3,522.8 L302.8,522.1 L303.3,521.4 L303.8,520.8 L304.3,520.2 L304.8,519.6 L305.3,519.1 L305.8,518.7 L306.3,518.3 L306.8,517.9 L307.3,517.7 L307.8,517.4 L308.3,517.3 L308.8,517.2 L309.3,517.1 L309.8,517.1 L310.3,517.2 L310.8,517.3 L311.3,517.5 L311.8,517.7 L312.3,518.0 L312.8,518.4 L313.3,518.8 L313.8,519.2 L314.3,519.7 L314.8,520.3 L315.3,520.9 L315.8,521.5 L316.3,522.2 L316.8,522.9 L317.3,523.7 L317.8,524.5 L318.3,525.3 L318.8,526.1 L319.3,526.9 L319.8,527.8 L320.3,528.6 L320.8,529.4 L321.3,530.2 L321.8,530.8 L322.3,531.4 L322.7,531.7 Z"/></clipPath>
<path d="M296.3,531.7 L296.3,531.7 L296.8,531.3 L297.3,530.7 L297.8,530.0 L298.3,529.2 L298.8,528.4 L299.3,527.6 L299.8,526.8 L300.3,525.9 L300.8,525.1 L301.3,524.3 L301.8,523.5 L302.3,522.8 L302.8,522.1 L303.3,521.4 L303.8,520.8 L304.3,520.2 L304.8,519.6 L305.3,519.1 L305.8,518.7 L306.3,518.3 L306.8,517.9 L307.3,517.7 L307.8,517.4 L308.3,517.3 L308.8,517.2 L309.3,517.1 L309.8,517.1 L310.3,517.2 L310.8,517.3 L311.3,517.5 L311.8,517.7 L312.3,518.0 L312.8,518.4 L313.3,518.8 L313.8,519.2 L314.3,519.7 L314.8,520.3 L315.3,520.9 L315.8,521.5 L316.3,522.2 L316.8,522.9 L317.3,523.7 L317.8,524.5 L318.3,525.3 L318.8,526.1 L319.3,526.9 L319.8,527.8 L320.3,528.6 L320.8,529.4 L321.3,530.2 L321.8,530.8 L322.3,531.4 L322.7,531.7 Z" fill="#ff2200" stroke="#301010" stroke-width="0.6"/>
<path d="M249.3,531.7 L249.8,531.3 L250.3,530.6 L250.8,529.6 L251.3,528.4 L251.8,526.7 L252.3,524.6 L252.8,521.9 L253.3,518.6 L253.8,514.5 L254.3,509.8 L254.8,504.3 L255.3,498.2 L255.8,491.4 L256.3,484.2 L256.8,476.7 L257.3,469.1 L257.8,461.7 L258.3,454.9 L258.8,448.9 L259.3,443.9 L259.8,440.3 L260.3,438.2 L260.8,437.7 L261.3,438.9 L261.8,441.6 L262.3,445.8 L262.8,451.2 L263.3,457.6 L263.8,464.6 L264.3,472.1 L264.8,479.7 L265.3,487.1 L265.8,494.2 L266.3,500.7 L266.8,506.6 L267.3,511.8 L267.8,516.2 L268.3,520.0 L268.8,523.0 L269.3,525.5 L269.8,527.4 L270.3,528.9 L270.8,530.1 L271.3,530.9 L271.8,531.5 Z" fill="#ff2200" stroke="none"/>
<path d="M257.3,531.5 L257.8,531.5 L258.3,531.4 L258.8,531.3 L259.3,531.2 L259.8,531.1 L260.3,530.9 L260.8,530.7 L261.3,530.5 L261.8,530.3 L262.3,530.0 L262.8,529.6 L263.3,529.2 L263.8,528.8 L264.3,528.4 L264.8,527.9 L265.3,527.5 L265.8,527.1 L266.3,526.7 L266.8,526.4 L267.3,526.1 L267.8,525.8 L268.3,525.6 L268.8,525.4 L269.3,525.3 L269.8,525.2 L270.3,525.1 L270.8,525.0 L271.3,524.9 L271.8,524.9 L272.3,524.8 L272.8,524.8 L273.3,524.8 L273.8,524.8 L274.3,524.8 L274.8,524.7 L275.3,524.7 L275.8,524.7 L276.3,524.7 L276.8,524.7 L277.3,524.7 L277.8,524.7 L278.3,524.7 L278.8,524.7 L279.3,524.7 L279.8,524.7 L280.3,524.7 L280.8,524.7 L281.3,524.7 L281.8,524.7 L282.3,524.7 L282.8,524.7 L283.3,524.7 L283.8,524.7 L284.3,524.7 L284.8,524.7 L285.3,524.7 L285.8,524.7 L286.3,524.7 L286.8,524.7 L287.3,524.7 L287.8,524.7 L288.3,524.7 L288.8,524.7 L289.3,524.7 L289.8,524.7 L290.3,524.7 L290.8,524.7 L291.3,524.7 L291.8,524.7 L292.3,524.7 L292.8,524.7 L293.3,524.7 L293.8,524.7 L294.3,524.7 L294.8,524.7 L295.3,524.7 L295.8,524.7 L296.3,524.7 L296.8,524.7 L297.3,524.7 L297.8,524.7 L298.3,524.7 L298.8,524.7 L299.3,524.8 L299.8,524.8 L300.3,524.8 L300.8,524.8 L301.3,524.8 L301.8,524.9 L302.3,524.9 L302.8,525.0 L303.3,525.1 L303.8,525.2 L304.3,525.3 L304.8,525.5 L305.3,525.7 L305.8,525.9 L306.3,526.1 L306.8,526.4 L307.3,526.8 L307.8,527.2 L308.3,527.6 L308.8,528.0 L309.3,528.5 L309.8,528.9 L310.3,529.3 L310.8,529.7 L311.3,530.0 L311.8,530.3 L312.3,530.6 L312.8,530.8 L313.3,531.0 L313.8,531.1 L314.3,531.2 L314.8,531.3 L315.3,531.4 L315.8,531.5 L316.3,531.5 L316.3,531.7 L257.3,531.7 Z" fill="url(#hatch5r)" stroke="none" clip-path="url(#hatch5c)"/>
<path d="M257.3,531.5 L257.8,531.5 L258.3,531.4 L258.8,531.3 L259.3,531.2 L259.8,531.1 L260.3,530.9 L260.8,530.7 L261.3,530.5 L261.8,530.3 L262.3,530.0 L262.8,529.6 L263.3,529.2 L263.8,528.8 L264.3,528.4 L264.8,527.9 L265.3,527.5 L265.8,527.1 L266.3,526.7 L266.8,526.4 L267.3,526.1 L267.8,525.8 L268.3,525.6 L268.8,525.4 L269.3,525.3 L269.8,525.2 L270.3,525.1 L270.8,525.0 L271.3,524.9 L271.8,524.9 L272.3,524.8 L272.8,524.8 L273.3,524.8 L273.8,524.8 L274.3,524.8 L274.8,524.7 L275.3,524.7 L275.8,524.7 L276.3,524.7 L276.8,524.7 L277.3,524.7 L277.8,524.7 L278.3,524.7 L278.8,524.7 L279.3,524.7 L279.8,524.7 L280.3,524.7 L280.8,524.7 L281.3,524.7 L281.8,524.7 L282.3,524.7 L282.8,524.7 L283.3,524.7 L283.8,524.7 L284.3,524.7 L284.8,524.7 L285.3,524.7 L285.8,524.7 L286.3,524.7 L286.8,524.7 L287.3,524.7 L287.8,524.7 L288.3,524.7 L288.8,524.7 L289.3,524.7 L289.8,524.7 L290.3,524.7 L290.8,524.7 L291.3,524.7 L291.8,524.7 L292.3,524.7 L292.8,524.7 L293.3,524.7 L293.8,524.7 L294.3,524.7 L294.8,524.7 L295.3,524.7 L295.8,524.7 L296.3,524.7 L296.8,524.7 L297.3,524.7 L297.8,524.7 L298.3,524.7 L298.8,524.7 L299.3,524.8 L299.8,524.8 L300.3,524.8 L300.8,524.8 L301.3,524.8 L301.8,524.9 L302.3,524.9 L302.8,525.0 L303.3,525.1 L303.8,525.2 L304.3,525.3 L304.8,525.5 L305.3,525.7 L305.8,525.9 L306.3,526.1 L306.8,526.4 L307.3,526.8 L307.8,527.2 L308.3,527.6 L308.8,528.0 L309.3,528.5 L309.8,528.9 L310.3,529.3 L310.8,529.7 L311.3,530.0 L311.8,530.3 L312.3,530.6 L312.8,530.8 L313.3,531.0 L313.8,531.1 L314.3,531.2 L314.8,531.3 L315.3,531.4 L315.8,531.5 L316.3,531.5" fill="none" stroke="#3a1030" stroke-width="0.75"/>
<path d="M205.3,531.7 L205.8,531.7 L206.3,531.7 L206.8,531.7 L207.3,531.7 L207.8,531.7 L208.3,531.7 L208.8,531.7 L209.3,531.7 L209.8,531.7 L210.3,531.7 L210.8,531.7 L211.3,531.7 L211.8,531.7 L212.3,531.7 L212.8,531.7 L213.3,531.7 L213.8,531.7 L214.3,531.7 L214.8,531.7 L215.3,531.7 L215.8,531.7 L216.3,531.7 L216.8,531.7 L217.3,531.7 L217.8,531.7 L218.3,531.7 L218.8,531.7 L219.3,531.7 L219.8,531.7 L220.3,531.7 L220.8,531.7 L221.3,531.7 L221.8,531.7 L222.3,531.7 L222.8,531.7 L223.3,531.7 L223.8,531.7 L224.3,531.7 L224.8,531.7 L225.3,531.7 L225.8,531.7 L226.3,531.7 L226.8,531.7 L227.3,531.7 L227.8,531.7 L228.3,531.7 L228.8,531.7 L229.3,531.7 L229.8,531.7 L230.3,531.7 L230.8,531.7 L231.3,531.7 L231.8,531.7 L232.3,531.7 L232.8,531.7 L233.3,531.7 L233.8,531.7 L234.3,531.7 L234.8,531.7 L235.3,531.7 L235.8,531.7 L236.3,531.7 L236.8,531.7 L237.3,531.7 L237.8,531.7 L238.3,531.7 L238.8,531.7 L239.3,531.7 L239.8,531.7 L240.3,531.7 L240.8,531.7 L241.3,531.7 L241.8,531.7 L242.3,531.7 L242.8,531.7 L243.3,531.7 L243.8,531.7 L244.3,531.7 L244.8,531.7 L245.3,531.7 L245.8,531.7 L246.3,531.7 L246.8,531.7 L247.3,531.7 L247.8,531.7 L248.3,531.7 L248.8,531.7 L249.3,531.7 L249.8,531.3 L250.3,530.6 L250.8,529.6 L251.3,528.4 L251.8,526.7 L252.3,524.6 L252.8,521.9 L253.3,518.5 L253.8,514.5 L254.3,509.8 L254.8,504.3 L255.3,498.1 L255.8,491.3 L256.3,484.1 L256.8,476.5 L257.3,468.9 L257.8,461.4 L258.3,454.3 L258.8,447.3 L259.3,440.2 L259.8,433.0 L260.3,427.5 L260.8,425.8 L261.3,428.9 L261.8,434.9 L262.3,441.8 L262.8,448.3 L263.3,454.9 L263.8,461.7 L264.3,468.7 L264.8,475.9 L265.3,482.9 L265.8,489.5 L266.3,495.7 L266.8,501.2 L267.3,506.0 L267.8,510.1 L268.3,513.6 L268.8,516.4 L269.3,518.6 L269.8,520.3 L270.3,521.6 L270.8,522.6 L271.3,523.3 L271.8,523.8 L272.3,523.9 L272.8,523.8 L273.3,523.7 L273.8,523.7 L274.3,523.6 L274.8,523.6 L275.3,523.6 L275.8,523.5 L276.3,523.5 L276.8,523.5 L277.3,523.5 L277.8,523.5 L278.3,523.5 L278.8,523.5 L279.3,523.5 L279.8,523.5 L280.3,523.5 L280.8,523.5 L281.3,523.5 L281.8,523.5 L282.3,523.5 L282.8,523.5 L283.3,523.5 L283.8,523.5 L284.3,523.5 L284.8,523.5 L285.3,523.5 L285.8,523.5 L286.3,523.5 L286.8,523.5 L287.3,523.5 L287.8,523.5 L288.3,523.5 L288.8,523.5 L289.3,523.5 L289.8,523.5 L290.3,523.5 L290.8,523.5 L291.3,523.5 L291.8,523.5 L292.3,523.5 L292.8,523.5 L293.3,523.5 L293.8,523.5 L294.3,523.5 L294.8,523.5 L295.3,523.5 L295.8,523.5 L296.3,523.5 L296.8,523.1 L297.3,522.5 L297.8,521.8 L298.3,521.1 L298.8,520.3 L299.3,519.5 L299.8,518.6 L300.3,517.8 L300.8,517.0 L301.3,516.3 L301.8,515.5 L302.3,514.8 L302.8,514.2 L303.3,513.6 L303.8,513.1 L304.3,512.6 L304.8,512.2 L305.3,511.8 L305.8,511.5 L306.3,511.3 L306.8,511.1 L307.3,511.0 L307.8,510.9 L308.3,510.9 L308.8,510.9 L309.3,510.9 L309.8,511.0 L310.3,511.1 L310.8,511.2 L311.3,511.3 L311.8,511.4 L312.3,511.6 L312.8,511.7 L313.3,512.0 L313.8,512.3 L314.3,512.7 L314.8,513.1 L315.3,513.7 L315.8,514.3 L316.3,515.1 L316.8,515.9 L317.3,516.8 L317.8,517.8 L318.3,518.9 L318.8,520.1 L319.3,521.3 L319.8,522.5 L320.3,523.7 L320.8,525.0 L321.3,526.2 L321.8,527.3 L322.3,528.2 L322.8,528.9 L323.3,529.3 L323.8,529.6 L324.3,529.9 L324.8,530.2 L325.3,530.5 L325.8,530.7 L326.3,530.9 L326.8,531.0 L327.3,531.2 L327.8,531.3 L328.3,531.4 L328.8,531.4 L329.3,531.5 L329.8,531.5 L330.3,531.6 L330.8,531.6 L331.3,531.6 L331.8,531.7 L332.3,531.7 L332.8,531.7 L333.3,531.7 L333.8,531.7 L334.3,531.7 L334.8,531.7 L335.3,531.7 L335.8,531.7 L336.3,531.7 L336.8,531.7 L337.3,531.7 L337.8,531.7 L338.3,531.7 L338.8,531.7 L339.3,531.7 L339.8,531.7 L340.3,531.7 L340.8,531.7 L341.3,531.7 L341.8,531.7 L342.3,531.7 L342.8,531.7 L343.3,531.7 L343.8,531.7 L344.3,531.7 L344.8,531.7 L345.3,531.7 L345.8,531.7 L346.3,531.7 L346.8,531.7 L347.3,531.7 L347.8,531.7 L348.3,531.7 L348.8,531.7 L349.3,531.7 L349.8,531.7 L350.3,531.7 L350.8,531.7 L351.3,531.7 L351.8,531.7 L352.3,531.7 L352.8,531.7 L353.3,531.7 L353.8,531.7 L354.3,531.7 L354.8,531.7 L355.3,531.7 L355.8,531.7 L356.3,531.7 L356.8,531.7 L357.3,531.7 L357.8,531.7 L358.3,531.7 L358.8,531.7 L359.3,531.7 L359.8,531.7" fill="none" stroke="#6a6a6a" stroke-width="0.8"/>
<path d="M205.3,531.7 L205.8,531.7 L206.3,531.7 L206.8,531.7 L207.3,531.7 L207.8,531.7 L208.3,531.7 L208.8,531.7 L209.3,531.7 L209.8,531.7 L210.3,531.7 L210.8,531.7 L211.3,531.7 L211.8,531.7 L212.3,531.7 L212.8,531.7 L213.3,531.7 L213.8,531.7 L214.3,531.7 L214.8,531.7 L215.3,531.7 L215.8,531.7 L216.3,531.7 L216.8,531.7 L217.3,531.7 L217.8,531.7 L218.3,531.7 L218.8,531.7 L219.3,531.7 L219.8,531.7 L220.3,531.7 L220.8,531.7 L221.3,531.7 L221.8,531.7 L222.3,531.7 L222.8,531.7 L223.3,531.7 L223.8,531.7 L224.3,531.7 L224.8,531.7 L225.3,531.7 L225.8,531.7 L226.3,531.7 L226.8,531.7 L227.3,531.7 L227.8,531.7 L228.3,531.7 L228.8,531.7 L229.3,531.7 L229.8,531.7 L230.3,531.7 L230.8,531.7 L231.3,531.7 L231.8,531.7 L232.3,531.7 L232.8,531.7 L233.3,531.7 L233.8,531.7 L234.3,531.7 L234.8,531.7 L235.3,531.7 L235.8,531.7 L236.3,531.7 L236.8,531.7 L237.3,531.7 L237.8,531.7 L238.3,531.7 L238.8,531.7 L239.3,531.7 L239.8,531.7 L240.3,531.7 L240.8,531.7 L241.3,531.7 L241.8,531.7 L242.3,531.7 L242.8,531.7 L243.3,531.7 L243.8,531.7 L244.3,531.7 L244.8,531.7 L245.3,531.7 L245.8,531.7 L246.3,531.7 L246.8,531.7 L247.3,531.7 L247.8,531.7 L248.3,531.7 L248.8,531.7 L249.3,531.7 L249.8,531.3 L250.3,530.6 L250.8,529.6 L251.3,528.4 L251.8,526.7 L252.3,524.6 L252.8,521.9 L253.3,518.5 L253.8,514.5 L254.3,509.8 L254.8,504.3 L255.3,498.1 L255.8,491.3 L256.3,484.1 L256.8,476.5 L257.3,468.9 L257.8,461.5 L258.3,454.6 L258.8,448.5 L259.3,443.5 L259.8,439.7 L260.3,437.5 L260.8,436.8 L261.3,437.7 L261.8,440.2 L262.3,444.0 L262.8,449.1 L263.3,455.1 L263.8,461.7 L264.3,468.8 L264.8,475.9 L265.3,482.9 L265.8,489.6 L266.3,495.7 L266.8,501.3 L267.3,506.2 L267.8,510.4 L268.3,513.9 L268.8,516.8 L269.3,519.1 L269.8,520.9 L270.3,522.3 L270.8,523.3 L271.3,524.1 L271.8,524.7 L272.3,524.8 L272.8,524.8 L273.3,524.8 L273.8,524.8 L274.3,524.8 L274.8,524.7 L275.3,524.7 L275.8,524.7 L276.3,524.7 L276.8,524.7 L277.3,524.7 L277.8,524.7 L278.3,524.7 L278.8,524.7 L279.3,524.7 L279.8,524.7 L280.3,524.7 L280.8,524.7 L281.3,524.7 L281.8,524.7 L282.3,524.7 L282.8,524.7 L283.3,524.7 L283.8,524.7 L284.3,524.7 L284.8,524.7 L285.3,524.7 L285.8,524.7 L286.3,524.7 L286.8,524.7 L287.3,524.7 L287.8,524.7 L288.3,524.7 L288.8,524.7 L289.3,524.7 L289.8,524.7 L290.3,524.7 L290.8,524.7 L291.3,524.7 L291.8,524.7 L292.3,524.7 L292.8,524.7 L293.3,524.7 L293.8,524.7 L294.3,524.7 L294.8,524.7 L295.3,524.7 L295.8,524.7 L296.3,524.7 L296.8,524.3 L297.3,523.7 L297.8,523.0 L298.3,522.3 L298.8,521.5 L299.3,520.7 L299.8,519.8 L300.3,519.0 L300.8,518.2 L301.3,517.5 L301.8,516.7 L302.3,516.0 L302.8,515.4 L303.3,514.8 L303.8,514.2 L304.3,513.8 L304.8,513.4 L305.3,513.1 L305.8,512.9 L306.3,512.7 L306.8,512.7 L307.3,512.8 L307.8,512.9 L308.3,513.2 L308.8,513.5 L309.3,513.9 L309.8,514.3 L310.3,514.8 L310.8,515.3 L311.3,515.8 L311.8,516.3 L312.3,516.9 L312.8,517.5 L313.3,518.0 L313.8,518.6 L314.3,519.3 L314.8,519.9 L315.3,520.6 L315.8,521.3 L316.3,522.0 L316.8,522.8 L317.3,523.6 L317.8,524.4 L318.3,525.2 L318.8,526.1 L319.3,526.9 L319.8,527.7 L320.3,528.6 L320.8,529.4 L321.3,530.1 L321.8,530.8 L322.3,531.4 L322.8,531.7 L323.3,531.7 L323.8,531.7 L324.3,531.7 L324.8,531.7 L325.3,531.7 L325.8,531.7 L326.3,531.7 L326.8,531.7 L327.3,531.7 L327.8,531.7 L328.3,531.7 L328.8,531.7 L329.3,531.7 L329.8,531.7 L330.3,531.7 L330.8,531.7 L331.3,531.7 L331.8,531.7 L332.3,531.7 L332.8,531.7 L333.3,531.7 L333.8,531.7 L334.3,531.7 L334.8,531.7 L335.3,531.7 L335.8,531.7 L336.3,531.7 L336.8,531.7 L337.3,531.7 L337.8,531.7 L338.3,531.7 L338.8,531.7 L339.3,531.7 L339.8,531.7 L340.3,531.7 L340.8,531.7 L341.3,531.7 L341.8,531.7 L342.3,531.7 L342.8,531.7 L343.3,531.7 L343.8,531.7 L344.3,531.7 L344.8,531.7 L345.3,531.7 L345.8,531.7 L346.3,531.7 L346.8,531.7 L347.3,531.7 L347.8,531.7 L348.3,531.7 L348.8,531.7 L349.3,531.7 L349.8,531.7 L350.3,531.7 L350.8,531.7 L351.3,531.7 L351.8,531.7 L352.3,531.7 L352.8,531.7 L353.3,531.7 L353.8,531.7 L354.3,531.7 L354.8,531.7 L355.3,531.7 L355.8,531.7 L356.3,531.7 L356.8,531.7 L357.3,531.7 L357.8,531.7 L358.3,531.7 L358.8,531.7 L359.3,531.7 L359.8,531.7" fill="none" stroke="#000" stroke-width="1.05"/>
<line x1="204.30" y1="410.50" x2="204.30" y2="532.20" stroke="#333" stroke-width="0.9" />
<line x1="203.90" y1="531.70" x2="360.00" y2="531.70" stroke="#111" stroke-width="1.1" />
<line x1="199.50" y1="531.70" x2="204.30" y2="531.70" stroke="#444" stroke-width="0.7" />
<text transform="translate(195.70,531.70) rotate(-90)" font-size="4.5" fill="#555" text-anchor="middle" font-family="'Liberation Sans', Arial, sans-serif">0</text>
<line x1="202.10" y1="525.70" x2="204.30" y2="525.70" stroke="#444" stroke-width="0.7" />
<line x1="202.10" y1="519.70" x2="204.30" y2="519.70" stroke="#444" stroke-width="0.7" />
<line x1="202.10" y1="513.70" x2="204.30" y2="513.70" stroke="#444" stroke-width="0.7" />
<line x1="202.10" y1="507.70" x2="204.30" y2="507.70" stroke="#444" stroke-width="0.7" />
<line x1="199.50" y1="501.70" x2="204.30" y2="501.70" stroke="#444" stroke-width="0.7" />
<text transform="translate(195.70,501.70) rotate(-90)" font-size="4.5" fill="#555" text-anchor="middle" font-family="'Liberation Sans', Arial, sans-serif">200</text>
<line x1="202.10" y1="495.70" x2="204.30" y2="495.70" stroke="#444" stroke-width="0.7" />
<line x1="202.10" y1="489.70" x2="204.30" y2="489.70" stroke="#444" stroke-width="0.7" />
<line x1="202.10" y1="483.70" x2="204.30" y2="483.70" stroke="#444" stroke-width="0.7" />
<line x1="202.10" y1="477.70" x2="204.30" y2="477.70" stroke="#444" stroke-width="0.7" />
<line x1="199.50" y1="471.70" x2="204.30" y2="471.70" stroke="#444" stroke-width="0.7" />
<text transform="translate(195.70,471.70) rotate(-90)" font-size="4.5" fill="#555" text-anchor="middle" font-family="'Liberation Sans', Arial, sans-serif">400</text>
<line x1="202.10" y1="465.70" x2="204.30" y2="465.70" stroke="#444" stroke-width="0.7" />
<line x1="202.10" y1="459.70" x2="204.30" y2="459.70" stroke="#444" stroke-width="0.7" />
<line x1="202.10" y1="453.70" x2="204.30" y2="453.70" stroke="#444" stroke-width="0.7" />
<line x1="202.10" y1="447.70" x2="204.30" y2="447.70" stroke="#444" stroke-width="0.7" />
<line x1="199.50" y1="441.70" x2="204.30" y2="441.70" stroke="#444" stroke-width="0.7" />
<text transform="translate(195.70,441.70) rotate(-90)" font-size="4.5" fill="#555" text-anchor="middle" font-family="'Liberation Sans', Arial, sans-serif">600</text>
<line x1="202.10" y1="435.70" x2="204.30" y2="435.70" stroke="#444" stroke-width="0.7" />
<line x1="202.10" y1="429.70" x2="204.30" y2="429.70" stroke="#444" stroke-width="0.7" />
<line x1="202.10" y1="423.70" x2="204.30" y2="423.70" stroke="#444" stroke-width="0.7" />
<line x1="202.10" y1="417.70" x2="204.30" y2="417.70" stroke="#444" stroke-width="0.7" />
<line x1="199.50" y1="411.70" x2="204.30" y2="411.70" stroke="#444" stroke-width="0.7" />
<line x1="204.30" y1="531.70" x2="204.30" y2="534.90" stroke="#333" stroke-width="0.7" />
<text x="204.30" y="542.10" font-size="4.8" fill="#555" text-anchor="middle" font-family="'Liberation Sans', Arial, sans-serif" >0</text>
<line x1="210.23" y1="531.70" x2="210.23" y2="533.70" stroke="#333" stroke-width="0.7" />
<line x1="216.17" y1="531.70" x2="216.17" y2="533.70" stroke="#333" stroke-width="0.7" />
<line x1="222.10" y1="531.70" x2="222.10" y2="533.70" stroke="#333" stroke-width="0.7" />
<line x1="228.03" y1="531.70" x2="228.03" y2="533.70" stroke="#333" stroke-width="0.7" />
<line x1="233.97" y1="531.70" x2="233.97" y2="533.70" stroke="#333" stroke-width="0.7" />
<line x1="239.90" y1="531.70" x2="239.90" y2="534.90" stroke="#333" stroke-width="0.7" />
<text x="239.90" y="542.10" font-size="4.8" fill="#555" text-anchor="middle" font-family="'Liberation Sans', Arial, sans-serif" >40</text>
<line x1="245.83" y1="531.70" x2="245.83" y2="533.70" stroke="#333" stroke-width="0.7" />
<line x1="251.77" y1="531.70" x2="251.77" y2="533.70" stroke="#333" stroke-width="0.7" />
<line x1="257.70" y1="531.70" x2="257.70" y2="533.70" stroke="#333" stroke-width="0.7" />
<line x1="263.63" y1="531.70" x2="263.63" y2="533.70" stroke="#333" stroke-width="0.7" />
<line x1="269.57" y1="531.70" x2="269.57" y2="533.70" stroke="#333" stroke-width="0.7" />
<line x1="275.50" y1="531.70" x2="275.50" y2="534.90" stroke="#333" stroke-width="0.7" />
<text x="275.50" y="542.10" font-size="4.8" fill="#555" text-anchor="middle" font-family="'Liberation Sans', Arial, sans-serif" >80</text>
<line x1="281.43" y1="531.70" x2="281.43" y2="533.70" stroke="#333" stroke-width="0.7" />
<line x1="287.37" y1="531.70" x2="287.37" y2="533.70" stroke="#333" stroke-width="0.7" />
<line x1="293.30" y1="531.70" x2="293.30" y2="533.70" stroke="#333" stroke-width="0.7" />
<line x1="299.23" y1="531.70" x2="299.23" y2="533.70" stroke="#333" stroke-width="0.7" />
<line x1="305.17" y1="531.70" x2="305.17" y2="533.70" stroke="#333" stroke-width="0.7" />
<line x1="311.10" y1="531.70" x2="311.10" y2="534.90" stroke="#333" stroke-width="0.7" />
<text x="311.10" y="542.10" font-size="4.8" fill="#555" text-anchor="middle" font-family="'Liberation Sans', Arial, sans-serif" >120</text>
<line x1="317.03" y1="531.70" x2="317.03" y2="533.70" stroke="#333" stroke-width="0.7" />
<line x1="322.97" y1="531.70" x2="322.97" y2="533.70" stroke="#333" stroke-width="0.7" />
<line x1="328.90" y1="531.70" x2="328.90" y2="533.70" stroke="#333" stroke-width="0.7" />
<line x1="334.83" y1="531.70" x2="334.83" y2="533.70" stroke="#333" stroke-width="0.7" />
<line x1="340.77" y1="531.70" x2="340.77" y2="533.70" stroke="#333" stroke-width="0.7" />
<line x1="346.70" y1="531.70" x2="346.70" y2="534.90" stroke="#333" stroke-width="0.7" />
<text x="346.70" y="542.10" font-size="4.8" fill="#555" text-anchor="middle" font-family="'Liberation Sans', Arial, sans-serif" >160</text>
<line x1="352.63" y1="531.70" x2="352.63" y2="533.70" stroke="#333" stroke-width="0.7" />
<line x1="358.57" y1="531.70" x2="358.57" y2="533.70" stroke="#333" stroke-width="0.7" />
<text transform="translate(191.10,471.90) rotate(-90)" font-size="4.9" fill="#555" text-anchor="middle" font-family="'Liberation Sans', Arial, sans-serif">Number</text>
<text x="284.70" y="546.50" font-size="5.2" fill="#444" text-anchor="middle" font-family="'Liberation Sans', Arial, sans-serif" textLength="42.00" lengthAdjust="spacing" >Channels (FL2-H)</text>
<path d="M257.80,536.10 L262.20,536.10 L260.00,532.20 Z" fill="#000"/>
<path d="M309.80,536.10 L314.20,536.10 L312.00,532.20 Z" fill="#000"/>
<rect x="332.00" y="398.40" width="6.00" height="3.50" fill="#ff2200" stroke="#333" stroke-width="0.7" />
<text x="340.70" y="401.30" font-size="3.9" fill="#3050ff" text-anchor="start" font-family="'Liberation Sans', Arial, sans-serif" textLength="13.00" lengthAdjust="spacing" >Dip G1</text>
<rect x="332.00" y="402.50" width="6.00" height="3.50" fill="#ff2200" stroke="#333" stroke-width="0.7" />
<text x="340.70" y="405.40" font-size="3.9" fill="#3050ff" text-anchor="start" font-family="'Liberation Sans', Arial, sans-serif" textLength="13.00" lengthAdjust="spacing" >Dip G2</text>
<rect x="332.00" y="406.60" width="6.00" height="3.50" fill="url(#hatch5)" stroke="#333" stroke-width="0.7" />
<text x="340.70" y="409.50" font-size="3.9" fill="#3050ff" text-anchor="start" font-family="'Liberation Sans', Arial, sans-serif" textLength="9.00" lengthAdjust="spacing" >Dip S</text>
<text x="247.80" y="419.20" font-size="9.9" fill="#1a1a1a" text-anchor="start" font-family="'DejaVu Sans Condensed', 'DejaVu Sans', sans-serif" textLength="26.90" lengthAdjust="spacing" >56.54</text>
<text x="297.60" y="501.00" font-size="9.9" fill="#1a1a1a" text-anchor="start" font-family="'DejaVu Sans Condensed', 'DejaVu Sans', sans-serif" textLength="26.60" lengthAdjust="spacing" >17.32</text>
<text x="272.60" y="517.60" font-size="9.9" fill="#1a1a1a" text-anchor="start" font-family="'DejaVu Sans Condensed', 'DejaVu Sans', sans-serif" textLength="27.20" lengthAdjust="spacing" >26.15</text>
<rect x="419.60" y="23.98" width="19.80" height="53.22" fill="#000" stroke="#000" stroke-width="0.6" />
<rect x="419.60" y="82.90" width="19.80" height="83.70" fill="#000" stroke="#000" stroke-width="0.6" />
<line x1="429.50" y1="21.10" x2="429.50" y2="23.98" stroke="#000" stroke-width="1.2" />
<line x1="425.00" y1="21.10" x2="434.00" y2="21.10" stroke="#000" stroke-width="1.2" />
<rect x="442.40" y="38.70" width="20.10" height="38.50" fill="#808080" stroke="#6a6a6a" stroke-width="0.6" />
<rect x="442.40" y="82.90" width="20.10" height="83.70" fill="#808080" stroke="#6a6a6a" stroke-width="0.6" />
<line x1="452.45" y1="36.46" x2="452.45" y2="38.70" stroke="#555" stroke-width="1.2" />
<line x1="447.95" y1="36.46" x2="456.95" y2="36.46" stroke="#555" stroke-width="1.2" />
<rect x="484.50" y="102.36" width="19.80" height="64.24" fill="#000" stroke="#000" stroke-width="0.6" />
<line x1="494.40" y1="101.81" x2="494.40" y2="102.36" stroke="#000" stroke-width="1.2" />
<line x1="489.90" y1="101.81" x2="498.90" y2="101.81" stroke="#000" stroke-width="1.2" />
<rect x="507.40" y="101.70" width="19.80" height="64.90" fill="#808080" stroke="#6a6a6a" stroke-width="0.6" />
<line x1="517.30" y1="101.37" x2="517.30" y2="101.70" stroke="#555" stroke-width="1.2" />
<line x1="512.80" y1="101.37" x2="521.80" y2="101.37" stroke="#555" stroke-width="1.2" />
<rect x="549.40" y="149.00" width="19.80" height="17.60" fill="#000" stroke="#000" stroke-width="0.6" />
<line x1="559.30" y1="148.67" x2="559.30" y2="149.00" stroke="#000" stroke-width="1.2" />
<line x1="554.80" y1="148.67" x2="563.80" y2="148.67" stroke="#000" stroke-width="1.2" />
<rect x="572.20" y="145.48" width="19.80" height="21.12" fill="#808080" stroke="#6a6a6a" stroke-width="0.6" />
<line x1="582.10" y1="144.93" x2="582.10" y2="145.48" stroke="#555" stroke-width="1.2" />
<line x1="577.60" y1="144.93" x2="586.60" y2="144.93" stroke="#555" stroke-width="1.2" />
<line x1="408.60" y1="13.30" x2="408.60" y2="77.20" stroke="#333" stroke-width="1" />
<line x1="408.60" y1="82.90" x2="408.60" y2="166.60" stroke="#333" stroke-width="1" />
<line x1="408.60" y1="166.60" x2="600.00" y2="166.60" stroke="#000" stroke-width="1" />
<line x1="406.60" y1="77.20" x2="410.60" y2="77.20" stroke="#000" stroke-width="0.9" />
<line x1="406.60" y1="82.90" x2="410.60" y2="82.90" stroke="#000" stroke-width="0.9" />
<line x1="406.10" y1="70.70" x2="408.60" y2="70.70" stroke="#000" stroke-width="0.8" />
<text x="405.10" y="73.00" font-size="6.3" fill="#222" text-anchor="end" font-family="'Liberation Sans', Arial, sans-serif" >56</text>
<line x1="406.10" y1="57.90" x2="408.60" y2="57.90" stroke="#000" stroke-width="0.8" />
<text x="405.10" y="60.20" font-size="6.3" fill="#222" text-anchor="end" font-family="'Liberation Sans', Arial, sans-serif" >58</text>
<line x1="406.10" y1="45.10" x2="408.60" y2="45.10" stroke="#000" stroke-width="0.8" />
<text x="405.10" y="47.40" font-size="6.3" fill="#222" text-anchor="end" font-family="'Liberation Sans', Arial, sans-serif" >60</text>
<line x1="406.10" y1="32.30" x2="408.60" y2="32.30" stroke="#000" stroke-width="0.8" />
<text x="405.10" y="34.60" font-size="6.3" fill="#222" text-anchor="end" font-family="'Liberation Sans', Arial, sans-serif" >62</text>
<line x1="406.10" y1="19.50" x2="408.60" y2="19.50" stroke="#000" stroke-width="0.8" />
<text x="405.10" y="21.80" font-size="6.3" fill="#222" text-anchor="end" font-family="'Liberation Sans', Arial, sans-serif" >64</text>
<line x1="406.10" y1="166.60" x2="408.60" y2="166.60" stroke="#000" stroke-width="0.8" />
<text x="405.10" y="168.90" font-size="6.3" fill="#222" text-anchor="end" font-family="'Liberation Sans', Arial, sans-serif" >0</text>
<line x1="406.10" y1="144.60" x2="408.60" y2="144.60" stroke="#000" stroke-width="0.8" />
<text x="405.10" y="146.90" font-size="6.3" fill="#222" text-anchor="end" font-family="'Liberation Sans', Arial, sans-serif" >10</text>
<line x1="406.10" y1="122.60" x2="408.60" y2="122.60" stroke="#000" stroke-width="0.8" />
<text x="405.10" y="124.90" font-size="6.3" fill="#222" text-anchor="end" font-family="'Liberation Sans', Arial, sans-serif" >20</text>
<line x1="406.10" y1="100.60" x2="408.60" y2="100.60" stroke="#000" stroke-width="0.8" />
<text x="405.10" y="102.90" font-size="6.3" fill="#222" text-anchor="end" font-family="'Liberation Sans', Arial, sans-serif" >30</text>
<line x1="441.00" y1="166.60" x2="441.00" y2="169.10" stroke="#000" stroke-width="0.8" />
<line x1="506.00" y1="166.60" x2="506.00" y2="169.10" stroke="#000" stroke-width="0.8" />
<line x1="570.80" y1="166.60" x2="570.80" y2="169.10" stroke="#000" stroke-width="0.8" />
<text x="440.80" y="175.80" font-size="7" fill="#222" text-anchor="middle" font-family="'Liberation Sans', Arial, sans-serif" textLength="32.00" lengthAdjust="spacing" >G1-Phase</text>
<text x="505.50" y="175.80" font-size="7" fill="#222" text-anchor="middle" font-family="'Liberation Sans', Arial, sans-serif" textLength="26.60" lengthAdjust="spacing" >S-Phase</text>
<text x="571.00" y="175.80" font-size="7" fill="#222" text-anchor="middle" font-family="'Liberation Sans', Arial, sans-serif" textLength="32.00" lengthAdjust="spacing" >G2-Phase</text>
<text x="464.20" y="187.20" font-size="8.6" fill="#1a1a1a" text-anchor="start" font-family="'Liberation Sans', Arial, sans-serif" textLength="91.50" lengthAdjust="spacing" >Cell Cycle in LNCaP Cells</text>
<text transform="translate(392.40,88.20) rotate(-90)" font-size="9.4" fill="#222" text-anchor="middle" font-family="'Liberation Sans', Arial, sans-serif" textLength="61.3" lengthAdjust="spacing">Percentage(%)</text>
<rect x="554.70" y="24.40" width="8.80" height="5.70" fill="#000" stroke="#000" stroke-width="0.5" />
<rect x="554.70" y="33.20" width="8.80" height="5.60" fill="#808080" stroke="#666" stroke-width="0.5" />
<text x="567.30" y="30.00" font-size="7.3" fill="#111" text-anchor="start" font-family="'Liberation Sans', Arial, sans-serif" textLength="9.60" lengthAdjust="spacing" >NC</text>
<text x="567.30" y="38.70" font-size="7.3" fill="#222" text-anchor="start" font-family="'Liberation Sans', Arial, sans-serif" textLength="26.00" lengthAdjust="spacing" >miR-19a</text>
<path d="M429.30,18.60 L429.30,14.70 L452.60,14.70 L452.60,33.90" fill="none" stroke="#000" stroke-width="1.25" stroke-linejoin="round"/>
<text x="440.95" y="16.70" font-size="8.6" fill="#000" text-anchor="middle" font-family="'Liberation Sans', Arial, sans-serif" font-weight="bold" >**</text>
<path d="M558.40,145.60 L558.40,136.90 L581.80,136.90 L581.80,141.50" fill="none" stroke="#000" stroke-width="1.25" stroke-linejoin="round"/>
<text x="570.10" y="138.90" font-size="8.6" fill="#000" text-anchor="middle" font-family="'Liberation Sans', Arial, sans-serif" font-weight="bold" >**</text>
<rect x="419.60" y="209.94" width="19.80" height="47.26" fill="#000" stroke="#000" stroke-width="0.6" />
<rect x="419.60" y="262.90" width="19.80" height="83.40" fill="#000" stroke="#000" stroke-width="0.6" />
<line x1="429.50" y1="208.02" x2="429.50" y2="209.94" stroke="#000" stroke-width="1.2" />
<line x1="425.00" y1="208.02" x2="434.00" y2="208.02" stroke="#000" stroke-width="1.2" />
<rect x="442.40" y="240.02" width="20.10" height="17.18" fill="#808080" stroke="#6a6a6a" stroke-width="0.6" />
<rect x="442.40" y="262.90" width="20.10" height="83.40" fill="#808080" stroke="#6a6a6a" stroke-width="0.6" />
<line x1="452.45" y1="235.22" x2="452.45" y2="240.02" stroke="#555" stroke-width="1.2" />
<line x1="447.95" y1="235.22" x2="456.95" y2="235.22" stroke="#555" stroke-width="1.2" />
<rect x="484.50" y="300.10" width="19.80" height="46.20" fill="#000" stroke="#000" stroke-width="0.6" />
<line x1="494.40" y1="298.12" x2="494.40" y2="300.10" stroke="#000" stroke-width="1.2" />
<line x1="489.90" y1="298.12" x2="498.90" y2="298.12" stroke="#000" stroke-width="1.2" />
<rect x="507.40" y="278.98" width="19.80" height="67.32" fill="#808080" stroke="#6a6a6a" stroke-width="0.6" />
<line x1="517.30" y1="278.32" x2="517.30" y2="278.98" stroke="#555" stroke-width="1.2" />
<line x1="512.80" y1="278.32" x2="521.80" y2="278.32" stroke="#555" stroke-width="1.2" />
<rect x="549.40" y="310.22" width="19.80" height="36.08" fill="#000" stroke="#000" stroke-width="0.6" />
<line x1="559.30" y1="308.68" x2="559.30" y2="310.22" stroke="#000" stroke-width="1.2" />
<line x1="554.80" y1="308.68" x2="563.80" y2="308.68" stroke="#000" stroke-width="1.2" />
<rect x="572.20" y="321.11" width="19.80" height="25.19" fill="#808080" stroke="#6a6a6a" stroke-width="0.6" />
<line x1="582.10" y1="320.89" x2="582.10" y2="321.11" stroke="#555" stroke-width="1.2" />
<line x1="577.60" y1="320.89" x2="586.60" y2="320.89" stroke="#555" stroke-width="1.2" />
<line x1="408.60" y1="193.30" x2="408.60" y2="257.20" stroke="#333" stroke-width="1" />
<line x1="408.60" y1="262.90" x2="408.60" y2="346.30" stroke="#333" stroke-width="1" />
<line x1="408.60" y1="346.30" x2="600.00" y2="346.30" stroke="#000" stroke-width="1" />
<line x1="406.60" y1="257.20" x2="410.60" y2="257.20" stroke="#000" stroke-width="0.9" />
<line x1="406.60" y1="262.90" x2="410.60" y2="262.90" stroke="#000" stroke-width="0.9" />
<line x1="406.10" y1="250.90" x2="408.60" y2="250.90" stroke="#000" stroke-width="0.8" />
<text x="405.10" y="253.20" font-size="6.3" fill="#222" text-anchor="end" font-family="'Liberation Sans', Arial, sans-serif" >56</text>
<line x1="406.10" y1="238.10" x2="408.60" y2="238.10" stroke="#000" stroke-width="0.8" />
<text x="405.10" y="240.40" font-size="6.3" fill="#222" text-anchor="end" font-family="'Liberation Sans', Arial, sans-serif" >58</text>
<line x1="406.10" y1="225.30" x2="408.60" y2="225.30" stroke="#000" stroke-width="0.8" />
<text x="405.10" y="227.60" font-size="6.3" fill="#222" text-anchor="end" font-family="'Liberation Sans', Arial, sans-serif" >60</text>
<line x1="406.10" y1="212.50" x2="408.60" y2="212.50" stroke="#000" stroke-width="0.8" />
<text x="405.10" y="214.80" font-size="6.3" fill="#222" text-anchor="end" font-family="'Liberation Sans', Arial, sans-serif" >62</text>
<line x1="406.10" y1="199.70" x2="408.60" y2="199.70" stroke="#000" stroke-width="0.8" />
<text x="405.10" y="202.00" font-size="6.3" fill="#222" text-anchor="end" font-family="'Liberation Sans', Arial, sans-serif" >64</text>
<line x1="406.10" y1="346.30" x2="408.60" y2="346.30" stroke="#000" stroke-width="0.8" />
<text x="405.10" y="348.60" font-size="6.3" fill="#222" text-anchor="end" font-family="'Liberation Sans', Arial, sans-serif" >0</text>
<line x1="406.10" y1="324.30" x2="408.60" y2="324.30" stroke="#000" stroke-width="0.8" />
<text x="405.10" y="326.60" font-size="6.3" fill="#222" text-anchor="end" font-family="'Liberation Sans', Arial, sans-serif" >10</text>
<line x1="406.10" y1="302.30" x2="408.60" y2="302.30" stroke="#000" stroke-width="0.8" />
<text x="405.10" y="304.60" font-size="6.3" fill="#222" text-anchor="end" font-family="'Liberation Sans', Arial, sans-serif" >20</text>
<line x1="406.10" y1="280.30" x2="408.60" y2="280.30" stroke="#000" stroke-width="0.8" />
<text x="405.10" y="282.60" font-size="6.3" fill="#222" text-anchor="end" font-family="'Liberation Sans', Arial, sans-serif" >30</text>
<line x1="441.00" y1="346.30" x2="441.00" y2="348.80" stroke="#000" stroke-width="0.8" />
<line x1="506.00" y1="346.30" x2="506.00" y2="348.80" stroke="#000" stroke-width="0.8" />
<line x1="570.80" y1="346.30" x2="570.80" y2="348.80" stroke="#000" stroke-width="0.8" />
<text x="440.80" y="355.50" font-size="7" fill="#222" text-anchor="middle" font-family="'Liberation Sans', Arial, sans-serif" textLength="32.00" lengthAdjust="spacing" >G1-Phase</text>
<text x="505.50" y="355.50" font-size="7" fill="#222" text-anchor="middle" font-family="'Liberation Sans', Arial, sans-serif" textLength="26.60" lengthAdjust="spacing" >S-Phase</text>
<text x="571.00" y="355.50" font-size="7" fill="#222" text-anchor="middle" font-family="'Liberation Sans', Arial, sans-serif" textLength="32.00" lengthAdjust="spacing" >G2-Phase</text>
<text x="457.70" y="366.90" font-size="8.6" fill="#1a1a1a" text-anchor="start" font-family="'Liberation Sans', Arial, sans-serif" textLength="87.60" lengthAdjust="spacing" >Cell Cycle in 22Rv1 Cells</text>
<text transform="translate(392.40,268.30) rotate(-90)" font-size="9.4" fill="#222" text-anchor="middle" font-family="'Liberation Sans', Arial, sans-serif" textLength="61.3" lengthAdjust="spacing">Percentage(%)</text>
<rect x="550.00" y="208.00" width="8.80" height="5.70" fill="#000" stroke="#000" stroke-width="0.5" />
<rect x="550.00" y="216.80" width="8.80" height="5.60" fill="#808080" stroke="#666" stroke-width="0.5" />
<text x="562.60" y="213.60" font-size="7.3" fill="#111" text-anchor="start" font-family="'Liberation Sans', Arial, sans-serif" textLength="9.60" lengthAdjust="spacing" >NC</text>
<text x="562.60" y="222.30" font-size="7.3" fill="#222" text-anchor="start" font-family="'Liberation Sans', Arial, sans-serif" textLength="26.00" lengthAdjust="spacing" >miR-19a</text>
<path d="M429.30,206.00 L429.30,200.80 L452.60,200.80 L452.60,230.60" fill="none" stroke="#000" stroke-width="1.25" stroke-linejoin="round"/>
<text x="440.95" y="202.80" font-size="8.6" fill="#000" text-anchor="middle" font-family="'Liberation Sans', Arial, sans-serif" font-weight="bold" >**</text>
<path d="M494.30,294.50 L494.30,270.10 L517.30,270.10 L517.30,274.00" fill="none" stroke="#000" stroke-width="1.25" stroke-linejoin="round"/>
<text x="505.80" y="272.10" font-size="8.6" fill="#000" text-anchor="middle" font-family="'Liberation Sans', Arial, sans-serif" font-weight="bold" >***</text>
<rect x="419.60" y="395.39" width="19.80" height="46.41" fill="#000" stroke="#000" stroke-width="0.6" />
<rect x="419.60" y="447.60" width="19.80" height="83.70" fill="#000" stroke="#000" stroke-width="0.6" />
<line x1="429.50" y1="389.02" x2="429.50" y2="395.39" stroke="#000" stroke-width="1.2" />
<line x1="425.00" y1="389.02" x2="434.00" y2="389.02" stroke="#000" stroke-width="1.2" />
<rect x="442.40" y="425.42" width="20.10" height="16.38" fill="#808080" stroke="#6a6a6a" stroke-width="0.6" />
<rect x="442.40" y="447.60" width="20.10" height="83.70" fill="#808080" stroke="#6a6a6a" stroke-width="0.6" />
<line x1="452.45" y1="422.69" x2="452.45" y2="425.42" stroke="#555" stroke-width="1.2" />
<line x1="447.95" y1="422.69" x2="456.95" y2="422.69" stroke="#555" stroke-width="1.2" />
<rect x="484.50" y="477.62" width="19.80" height="53.68" fill="#000" stroke="#000" stroke-width="0.6" />
<line x1="494.40" y1="475.86" x2="494.40" y2="477.62" stroke="#000" stroke-width="1.2" />
<line x1="489.90" y1="475.86" x2="498.90" y2="475.86" stroke="#000" stroke-width="1.2" />
<rect x="507.40" y="473.00" width="19.80" height="58.30" fill="#808080" stroke="#6a6a6a" stroke-width="0.6" />
<line x1="517.30" y1="472.56" x2="517.30" y2="473.00" stroke="#555" stroke-width="1.2" />
<line x1="512.80" y1="472.56" x2="521.80" y2="472.56" stroke="#555" stroke-width="1.2" />
<rect x="549.40" y="496.76" width="19.80" height="34.54" fill="#000" stroke="#000" stroke-width="0.6" />
<line x1="559.30" y1="496.43" x2="559.30" y2="496.76" stroke="#000" stroke-width="1.2" />
<line x1="554.80" y1="496.43" x2="563.80" y2="496.43" stroke="#000" stroke-width="1.2" />
<rect x="572.20" y="494.56" width="19.80" height="36.74" fill="#808080" stroke="#6a6a6a" stroke-width="0.6" />
<line x1="582.10" y1="494.45" x2="582.10" y2="494.56" stroke="#555" stroke-width="1.2" />
<line x1="577.60" y1="494.45" x2="586.60" y2="494.45" stroke="#555" stroke-width="1.2" />
<line x1="408.60" y1="377.80" x2="408.60" y2="441.80" stroke="#333" stroke-width="1" />
<line x1="408.60" y1="447.60" x2="408.60" y2="531.30" stroke="#333" stroke-width="1" />
<line x1="408.60" y1="531.30" x2="600.00" y2="531.30" stroke="#000" stroke-width="1" />
<line x1="406.60" y1="441.80" x2="410.60" y2="441.80" stroke="#000" stroke-width="0.9" />
<line x1="406.60" y1="447.60" x2="410.60" y2="447.60" stroke="#000" stroke-width="0.9" />
<line x1="406.10" y1="432.70" x2="408.60" y2="432.70" stroke="#000" stroke-width="0.8" />
<text x="405.10" y="435.00" font-size="6.3" fill="#222" text-anchor="end" font-family="'Liberation Sans', Arial, sans-serif" >56</text>
<line x1="406.10" y1="414.50" x2="408.60" y2="414.50" stroke="#000" stroke-width="0.8" />
<text x="405.10" y="416.80" font-size="6.3" fill="#222" text-anchor="end" font-family="'Liberation Sans', Arial, sans-serif" >58</text>
<line x1="406.10" y1="396.30" x2="408.60" y2="396.30" stroke="#000" stroke-width="0.8" />
<text x="405.10" y="398.60" font-size="6.3" fill="#222" text-anchor="end" font-family="'Liberation Sans', Arial, sans-serif" >60</text>
<line x1="406.10" y1="378.10" x2="408.60" y2="378.10" stroke="#000" stroke-width="0.8" />
<text x="405.10" y="380.40" font-size="6.3" fill="#222" text-anchor="end" font-family="'Liberation Sans', Arial, sans-serif" >62</text>
<line x1="406.10" y1="531.30" x2="408.60" y2="531.30" stroke="#000" stroke-width="0.8" />
<text x="405.10" y="533.60" font-size="6.3" fill="#222" text-anchor="end" font-family="'Liberation Sans', Arial, sans-serif" >0</text>
<line x1="406.10" y1="509.30" x2="408.60" y2="509.30" stroke="#000" stroke-width="0.8" />
<text x="405.10" y="511.60" font-size="6.3" fill="#222" text-anchor="end" font-family="'Liberation Sans', Arial, sans-serif" >10</text>
<line x1="406.10" y1="487.30" x2="408.60" y2="487.30" stroke="#000" stroke-width="0.8" />
<text x="405.10" y="489.60" font-size="6.3" fill="#222" text-anchor="end" font-family="'Liberation Sans', Arial, sans-serif" >20</text>
<line x1="406.10" y1="465.30" x2="408.60" y2="465.30" stroke="#000" stroke-width="0.8" />
<text x="405.10" y="467.60" font-size="6.3" fill="#222" text-anchor="end" font-family="'Liberation Sans', Arial, sans-serif" >30</text>
<line x1="441.00" y1="531.30" x2="441.00" y2="533.80" stroke="#000" stroke-width="0.8" />
<line x1="506.00" y1="531.30" x2="506.00" y2="533.80" stroke="#000" stroke-width="0.8" />
<line x1="570.80" y1="531.30" x2="570.80" y2="533.80" stroke="#000" stroke-width="0.8" />
<text x="440.80" y="540.50" font-size="7" fill="#222" text-anchor="middle" font-family="'Liberation Sans', Arial, sans-serif" textLength="32.00" lengthAdjust="spacing" >G1-Phase</text>
<text x="505.50" y="540.50" font-size="7" fill="#222" text-anchor="middle" font-family="'Liberation Sans', Arial, sans-serif" textLength="26.60" lengthAdjust="spacing" >S-Phase</text>
<text x="571.00" y="540.50" font-size="7" fill="#222" text-anchor="middle" font-family="'Liberation Sans', Arial, sans-serif" textLength="32.00" lengthAdjust="spacing" >G2-Phase</text>
<text x="458.20" y="549.30" font-size="8.6" fill="#1a1a1a" text-anchor="start" font-family="'Liberation Sans', Arial, sans-serif" textLength="83.40" lengthAdjust="spacing" >Cell Cycle in PC-3 Cells</text>
<text transform="translate(392.40,452.90) rotate(-90)" font-size="9.4" fill="#222" text-anchor="middle" font-family="'Liberation Sans', Arial, sans-serif" textLength="61.3" lengthAdjust="spacing">Percentage(%)</text>
<rect x="547.20" y="390.50" width="8.80" height="5.70" fill="#000" stroke="#000" stroke-width="0.5" />
<rect x="547.20" y="399.30" width="8.80" height="5.60" fill="#808080" stroke="#666" stroke-width="0.5" />
<text x="559.80" y="396.10" font-size="7.3" fill="#111" text-anchor="start" font-family="'Liberation Sans', Arial, sans-serif" textLength="9.60" lengthAdjust="spacing" >NC</text>
<text x="559.80" y="404.80" font-size="7.3" fill="#222" text-anchor="start" font-family="'Liberation Sans', Arial, sans-serif" textLength="26.00" lengthAdjust="spacing" >miR-19a</text>
<path d="M429.30,386.00 L429.30,382.60 L452.60,382.60 L452.60,417.40" fill="none" stroke="#000" stroke-width="1.25" stroke-linejoin="round"/>
<text x="440.95" y="384.60" font-size="8.6" fill="#000" text-anchor="middle" font-family="'Liberation Sans', Arial, sans-serif" font-weight="bold" >**</text>
<path d="M494.40,471.60 L494.40,464.20 L517.30,464.20 L517.30,468.30" fill="none" stroke="#000" stroke-width="1.25" stroke-linejoin="round"/>
<text x="505.85" y="466.20" font-size="8.6" fill="#000" text-anchor="middle" font-family="'Liberation Sans', Arial, sans-serif" font-weight="bold" >*</text>
<line x1="19.80" y1="187.50" x2="369.00" y2="187.50" stroke="#000" stroke-width="1.15" />
<path d="M362.6,183.80 L369.3,187.50 L362.6,191.20" fill="none" stroke="#000" stroke-width="1.15"/>
<line x1="19.80" y1="368.40" x2="369.00" y2="368.40" stroke="#000" stroke-width="1.15" />
<path d="M362.6,364.70 L369.3,368.40 L362.6,372.10" fill="none" stroke="#000" stroke-width="1.15"/>
<line x1="19.80" y1="548.00" x2="369.00" y2="548.00" stroke="#000" stroke-width="1.35" />
<path d="M362.6,544.30 L369.3,548.00 L362.6,551.70" fill="none" stroke="#000" stroke-width="1.15"/>
<text x="-0.60" y="13.80" font-size="18.5" fill="#000" text-anchor="start" font-family="'Liberation Sans', Arial, sans-serif" >A</text>
<text x="384.00" y="13.40" font-size="19" fill="#000" text-anchor="start" font-family="'Liberation Sans', Arial, sans-serif" >B</text>
<text x="0.60" y="204.40" font-size="18.5" fill="#000" text-anchor="start" font-family="'Liberation Sans', Arial, sans-serif" >C</text>
<text x="384.00" y="194.70" font-size="18.5" fill="#000" text-anchor="start" font-family="'Liberation Sans', Arial, sans-serif" >D</text>
<text x="0.00" y="389.80" font-size="18.8" fill="#000" text-anchor="start" font-family="'Liberation Sans', Arial, sans-serif" >E</text>
<text x="384.00" y="370.60" font-size="18.8" fill="#000" text-anchor="start" font-family="'Liberation Sans', Arial, sans-serif" >F</text>
<text x="11.00" y="28.00" font-size="14" fill="#000" text-anchor="start" font-family="'Liberation Sans', Arial, sans-serif" textLength="48.20" lengthAdjust="spacing" >LNCaP</text>
<text x="79.60" y="26.70" font-size="14.4" fill="#000" text-anchor="start" font-family="'Liberation Sans', Arial, sans-serif" textLength="21.00" lengthAdjust="spacing" >NC</text>
<text x="250.60" y="25.30" font-size="13.5" fill="#000" text-anchor="start" font-family="'Liberation Sans', Arial, sans-serif" textLength="58.40" lengthAdjust="spacing" >miR-19a</text>
<text x="14.00" y="219.75" font-size="14" fill="#000" text-anchor="start" font-family="'Liberation Sans', Arial, sans-serif" textLength="42.30" lengthAdjust="spacing" >22Rv1</text>
<text x="79.60" y="216.20" font-size="14.0" fill="#000" text-anchor="start" font-family="'Liberation Sans', Arial, sans-serif" textLength="20.80" lengthAdjust="spacing" >NC</text>
<text x="185.20" y="205.30" font-size="14.4" fill="#000" text-anchor="start" font-family="'Liberation Sans', Arial, sans-serif" textLength="13.60" lengthAdjust="spacing" >PI</text>
<text x="249.70" y="215.20" font-size="13.5" fill="#000" text-anchor="start" font-family="'Liberation Sans', Arial, sans-serif" textLength="58.30" lengthAdjust="spacing" >miR-19a</text>
<text x="18.20" y="397.30" font-size="14" fill="#000" text-anchor="start" font-family="'Liberation Sans', Arial, sans-serif" textLength="34.40" lengthAdjust="spacing" >PC-3</text>
<text x="79.40" y="399.50" font-size="14.0" fill="#000" text-anchor="start" font-family="'Liberation Sans', Arial, sans-serif" textLength="20.60" lengthAdjust="spacing" >NC</text>
<text x="185.00" y="387.50" font-size="14.4" fill="#000" text-anchor="start" font-family="'Liberation Sans', Arial, sans-serif" textLength="13.60" lengthAdjust="spacing" >PI</text>
<text x="250.10" y="398.20" font-size="13.5" fill="#000" text-anchor="start" font-family="'Liberation Sans', Arial, sans-serif" textLength="58.10" lengthAdjust="spacing" >miR-19a</text>
<text x="185.00" y="563.00" font-size="14.4" fill="#000" text-anchor="start" font-family="'Liberation Sans', Arial, sans-serif" textLength="13.60" lengthAdjust="spacing" >PI</text>
</svg>
</body></html>
